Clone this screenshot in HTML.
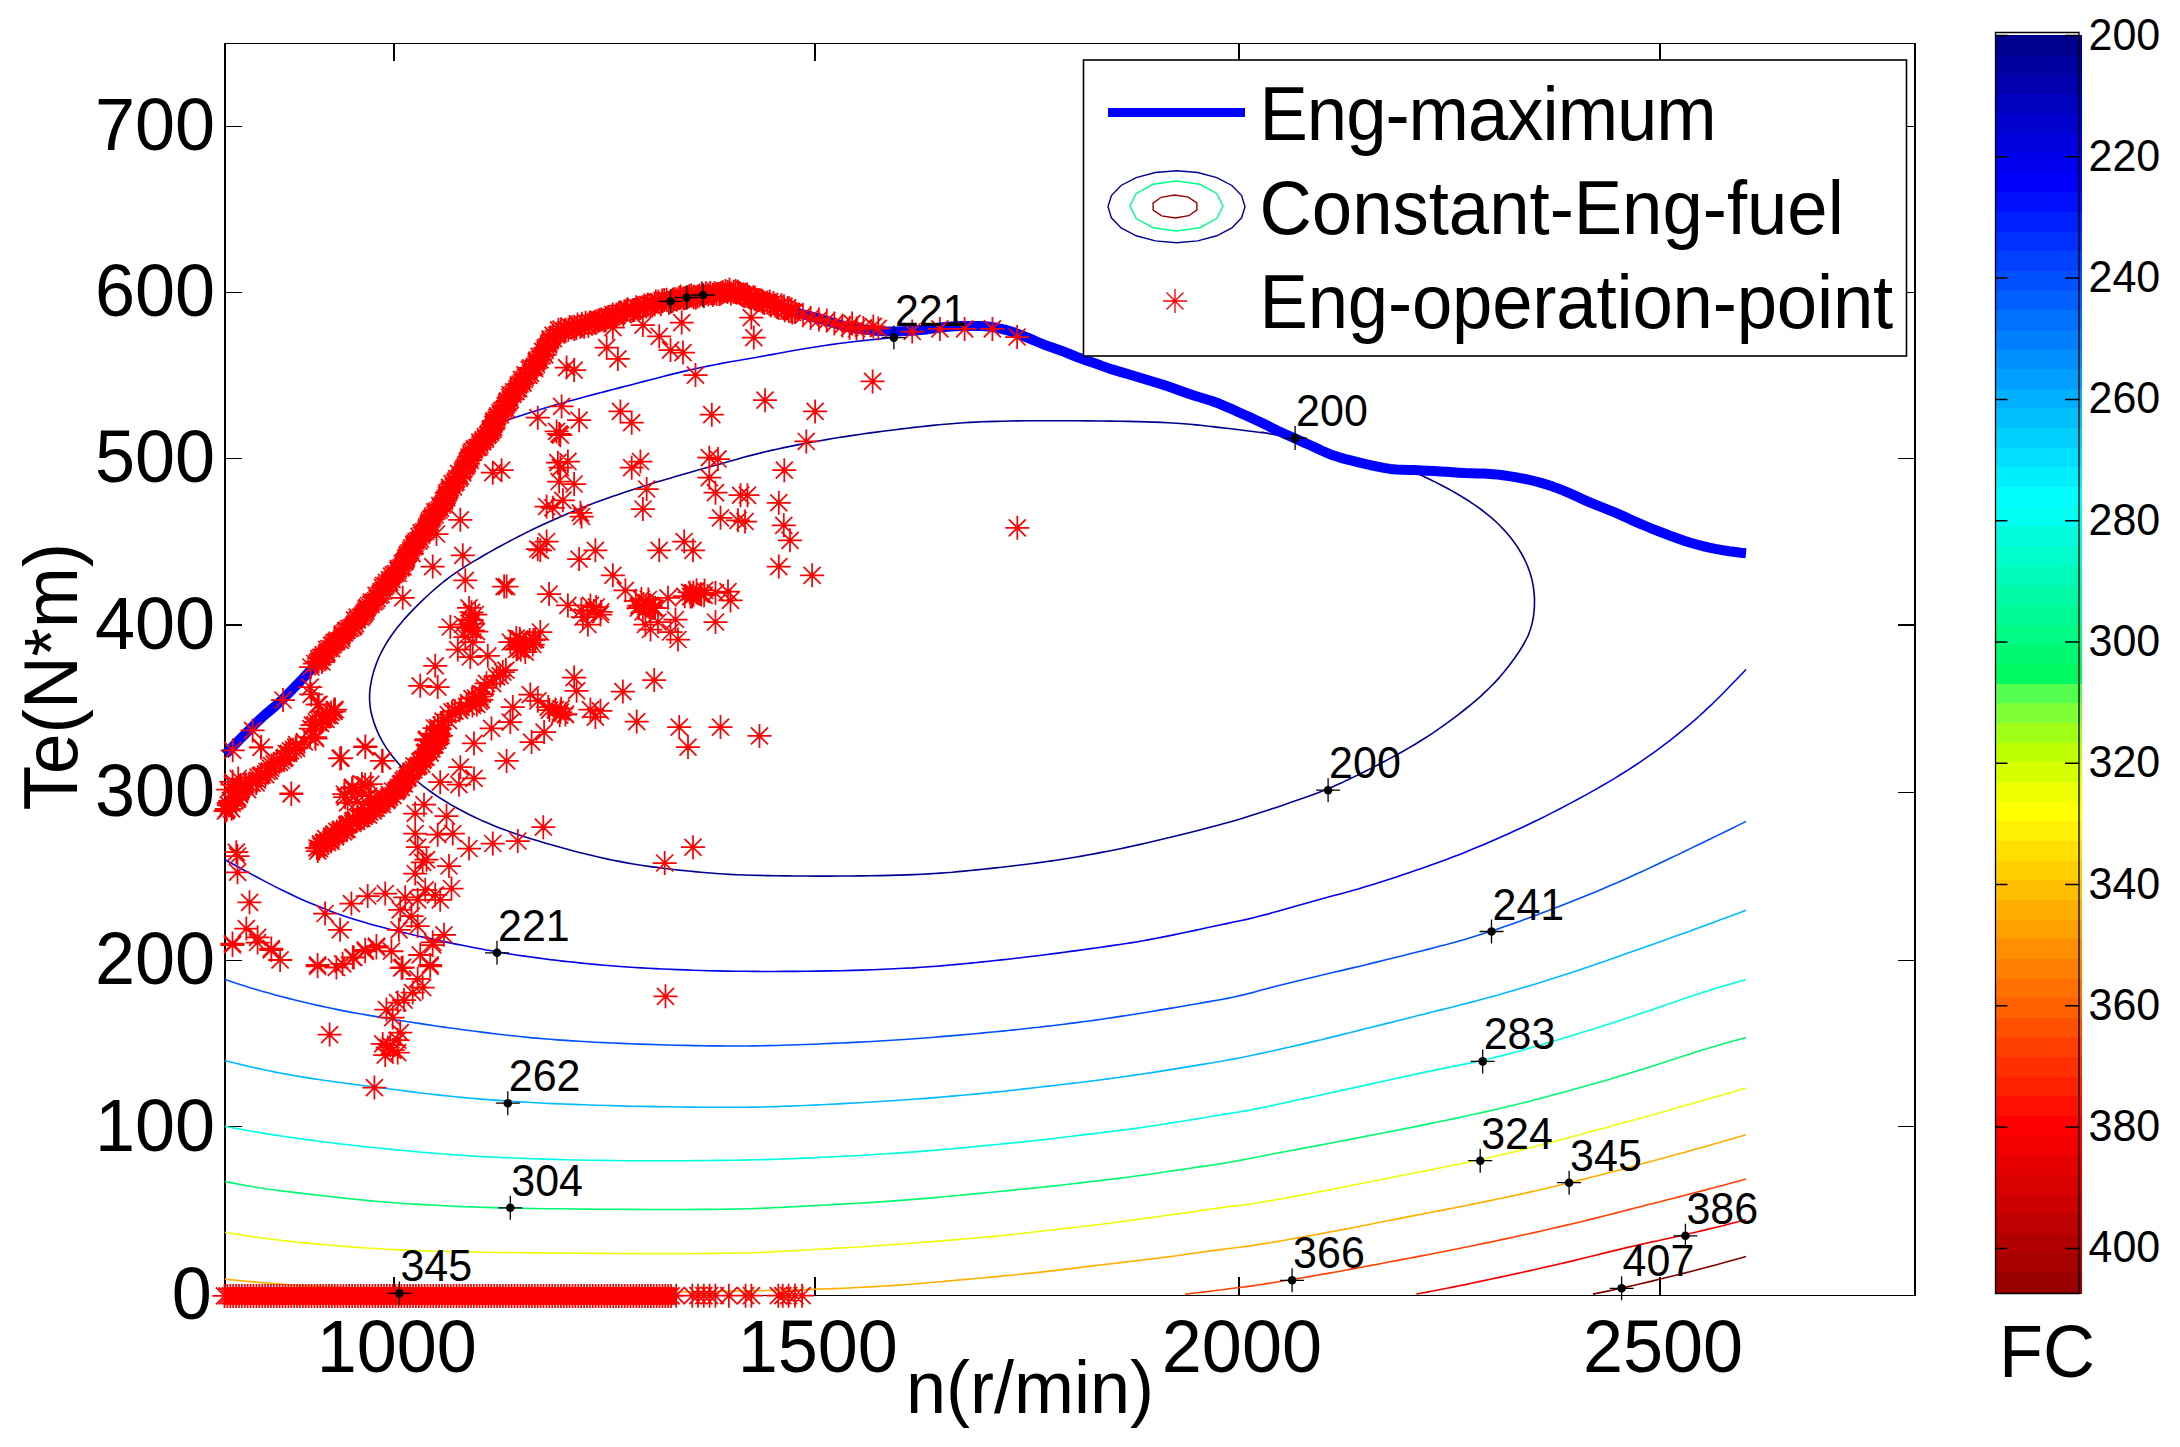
<!DOCTYPE html>
<html><head><meta charset="utf-8"><title>Engine map</title>
<style>html,body{margin:0;padding:0;background:#fff}svg{display:block}</style></head>
<body>
<svg width="2180" height="1447" viewBox="0 0 2180 1447" font-family="'Liberation Sans', sans-serif">
<rect width="2180" height="1447" fill="#fff"/>
<g fill="#000" shape-rendering="crispEdges">
<rect x="224" y="43" width="1692" height="1"/><rect x="224" y="1295" width="1692" height="1"/>
<rect x="224" y="43" width="2" height="1253"/><rect x="1914" y="43" width="2" height="1253"/>
<rect x="393" y="44" width="2" height="17"/><rect x="393" y="1277" width="2" height="18"/>
<rect x="814" y="44" width="2" height="17"/><rect x="814" y="1277" width="2" height="18"/>
<rect x="1238" y="44" width="2" height="17"/><rect x="1238" y="1277" width="2" height="18"/>
<rect x="1659" y="44" width="2" height="17"/><rect x="1659" y="1277" width="2" height="18"/>
<rect x="226" y="126" width="16" height="1"/><rect x="1898" y="126" width="16" height="1"/>
<rect x="226" y="292" width="16" height="1"/><rect x="1898" y="292" width="16" height="1"/>
<rect x="226" y="458" width="16" height="1"/><rect x="1898" y="458" width="16" height="1"/>
<rect x="226" y="624" width="16" height="2"/><rect x="1898" y="624" width="16" height="2"/>
<rect x="226" y="792" width="16" height="1"/><rect x="1898" y="792" width="16" height="1"/>
<rect x="226" y="960" width="16" height="1"/><rect x="1898" y="960" width="16" height="1"/>
<rect x="226" y="1126" width="16" height="1"/><rect x="1898" y="1126" width="16" height="1"/>
</g>
<g fill="none" stroke-width="1.6" stroke-linejoin="round">
<polyline stroke="rgb(0,0,143)" points="1295.1,438.1 1289.7,437.2 1282.5,436.0 1274.9,434.6 1268.0,433.4 1262.1,432.3 1265.7,433.0 1262.4,432.7 1254.8,431.8 1244.7,430.5 1239.1,429.8 1233.0,429.0 1226.7,428.3 1220.5,427.6 1214.5,426.9 1208.7,426.2 1202.7,425.5 1196.4,424.9 1190.0,424.3 1183.7,423.7 1176.5,423.2 1167.9,422.7 1161.2,422.4 1153.9,422.1 1146.1,421.9 1137.7,421.6 1128.9,421.4 1119.7,421.2 1109.8,421.1 1099.0,421.0 1087.8,420.9 1076.5,420.8 1065.6,420.8 1055.3,420.7 1045.6,420.7 1036.1,420.8 1026.9,420.8 1018.1,420.9 1009.9,421.0 1002.4,421.2 994.6,421.4 987.7,421.6 981.6,421.8 975.9,422.1 970.2,422.4 963.5,422.8 957.3,423.3 951.3,423.7 945.2,424.3 938.9,424.8 932.7,425.4 926.4,426.1 920.2,426.7 913.9,427.4 907.7,428.2 901.4,428.9 895.2,429.7 888.9,430.5 882.6,431.3 876.4,432.1 870.1,432.9 863.9,433.8 857.6,434.7 851.4,435.6 845.1,436.6 838.8,437.5 832.6,438.5 826.3,439.6 820.1,440.7 813.8,441.8 807.5,442.9 801.2,444.1 795.1,445.4 788.9,446.6 782.8,447.9 776.9,449.2 771.3,450.4 764.4,452.0 758.0,453.6 752.1,455.1 744.5,457.1 737.2,459.2 729.6,461.3 721.1,463.7 714.5,465.5 707.4,467.5 699.9,469.6 694.0,471.2 687.9,473.0 681.7,474.7 675.5,476.6 669.3,478.4 663.0,480.2 656.7,482.1 650.5,484.1 644.2,486.0 637.9,488.0 631.7,490.0 625.4,492.0 619.2,494.2 612.9,496.3 606.7,498.5 600.4,500.8 594.1,503.1 587.9,505.5 581.6,508.0 575.4,510.5 569.1,513.1 562.9,515.7 556.6,518.4 550.4,521.2 544.1,524.1 537.8,527.0 531.5,530.0 525.3,533.1 519.1,536.2 513.0,539.4 506.9,542.6 501.1,545.8 495.5,548.8 490.0,551.9 484.8,554.8 480.0,557.7 474.0,561.1 468.6,564.4 463.5,567.6 456.7,572.1 450.3,576.7 443.9,581.5 437.7,586.6 431.5,592.0 425.5,597.5 419.9,602.9 414.6,608.1 409.8,613.1 405.2,618.1 400.7,623.4 396.1,629.1 391.4,635.5 386.9,642.3 382.7,649.6 379.0,657.0 376.0,664.6 373.5,672.1 371.6,679.5 370.3,686.8 369.6,693.8 369.6,700.7 370.2,707.5 371.6,714.6 373.8,722.1 376.8,730.1 379.3,735.6 382.3,741.4 385.8,747.1 389.8,752.9 394.4,758.8 399.4,764.6 403.5,768.9 407.9,773.2 412.6,777.4 417.4,781.5 422.5,785.6 427.8,789.6 433.3,793.5 439.0,797.3 444.8,801.0 450.7,804.6 456.8,808.0 462.9,811.3 469.1,814.5 475.3,817.5 481.5,820.4 487.8,823.1 494.0,825.7 500.3,828.2 506.6,830.5 512.8,832.8 519.1,834.9 525.3,836.9 531.6,838.9 537.8,840.8 544.1,842.7 550.4,844.5 556.6,846.3 562.9,848.0 569.1,849.7 575.4,851.4 581.6,853.0 587.9,854.5 594.1,856.0 600.4,857.5 606.7,858.9 612.9,860.2 619.2,861.4 625.4,862.6 631.7,863.7 637.9,864.7 644.2,865.7 650.4,866.6 656.7,867.4 663.0,868.2 669.3,869.0 675.6,869.7 682.0,870.4 688.3,871.0 694.5,871.6 700.6,872.2 706.9,872.8 713.6,873.3 719.1,873.7 724.5,874.0 730.3,874.4 736.8,874.7 744.3,875.0 751.4,875.2 759.1,875.4 767.5,875.6 776.3,875.7 785.5,875.9 795.1,876.0 805.4,876.0 816.5,876.1 828.0,876.1 839.6,876.0 850.8,876.0 861.2,875.9 871.1,875.8 880.6,875.6 889.8,875.4 898.5,875.1 906.7,874.9 914.1,874.6 921.8,874.3 928.5,873.9 934.4,873.5 940.0,873.1 945.5,872.7 952.2,872.2 958.3,871.6 964.2,871.1 970.2,870.5 976.5,869.9 982.7,869.3 989.0,868.6 995.3,867.9 1001.5,867.3 1007.8,866.5 1014.0,865.8 1020.3,865.0 1026.5,864.3 1032.8,863.5 1039.0,862.6 1045.3,861.8 1051.6,860.9 1057.8,860.0 1064.1,859.0 1070.3,858.0 1076.6,857.0 1082.8,855.9 1089.1,854.8 1095.4,853.6 1101.6,852.4 1107.9,851.2 1114.1,850.0 1120.4,848.7 1126.6,847.4 1132.9,846.0 1139.1,844.6 1145.4,843.2 1151.7,841.8 1157.9,840.3 1164.2,838.8 1170.4,837.3 1176.7,835.8 1182.9,834.3 1189.0,832.7 1195.0,831.2 1202.7,829.3 1210.1,827.3 1217.0,825.5 1223.2,823.8 1228.9,822.2 1234.4,820.7 1241.9,818.5 1249.5,816.1 1255.2,814.3 1261.3,812.3 1267.7,810.2 1274.7,807.9 1282.2,805.4 1289.6,802.8 1296.9,800.3 1304.2,797.8 1311.3,795.2 1318.1,792.7 1324.8,790.0 1331.7,787.2 1337.0,784.8 1342.4,782.4 1347.9,779.8 1353.5,777.1 1359.4,774.2 1365.4,771.2 1371.5,768.1 1377.7,765.0 1383.9,761.7 1390.1,758.4 1396.4,755.0 1402.7,751.5 1408.9,747.9 1415.2,744.2 1421.5,740.3 1427.7,736.3 1432.7,733.1 1437.7,729.7 1442.7,726.2 1447.6,722.7 1452.4,719.1 1458.4,714.6 1464.2,710.0 1470.0,705.4 1475.4,700.8 1480.6,696.3 1485.5,691.7 1490.1,687.2 1494.5,682.9 1499.7,677.1 1504.4,671.6 1508.6,666.3 1514.0,659.0 1518.6,652.3 1522.3,646.5 1525.4,641.0 1528.1,635.6 1530.3,629.8 1532.2,623.1 1533.6,615.6 1534.4,607.2 1534.5,598.2 1534.0,592.1 1533.2,585.8 1531.9,579.4 1530.1,573.0 1527.7,566.5 1524.9,560.0 1521.4,553.5 1517.4,546.9 1512.9,540.5 1509.1,535.8 1505.1,531.1 1500.7,526.5 1496.2,522.0 1491.4,517.7 1486.3,513.6 1481.1,509.5 1475.7,505.6 1470.1,501.8 1464.4,498.2 1458.6,494.7 1452.9,491.4 1447.2,488.2 1441.5,485.2 1435.9,482.4 1430.5,479.7 1422.8,476.0 1415.4,472.5 1410.2,470.1"/>
<polyline stroke="rgb(0,0,235)" points="504.1,421.4 514.2,417.8 521.2,415.5 529.6,412.8 536.2,410.8 543.4,408.6 551.0,406.3 556.8,404.6 562.9,402.9 569.2,401.1 575.4,399.4 581.6,397.7 587.8,396.0 594.1,394.4 600.4,392.7 606.7,391.1 612.9,389.5 619.2,387.9 625.4,386.3 631.7,384.7 637.9,383.0 644.2,381.4 650.5,379.8 656.7,378.2 663.0,376.5 669.3,374.9 675.5,373.4 681.7,371.9 688.0,370.4 694.1,369.0 700.0,367.7 707.7,366.1 715.0,364.7 721.7,363.4 730.4,361.8 738.2,360.5 745.3,359.3 752.7,358.0 758.4,357.0 764.7,355.8 771.5,354.6 778.9,353.2 786.9,351.8 795.1,350.3 801.2,349.3 807.5,348.2 813.8,347.2 820.1,346.2 826.3,345.3 832.6,344.4 838.8,343.5 844.9,342.7 851.1,342.0 857.2,341.3 863.2,340.6 869.2,340.0 877.9,339.1 886.6,338.2 892.6,337.6"/>
<polyline stroke="rgb(0,0,235)" points="225.0,859.7 229.5,862.2 236.0,865.8 243.2,869.7 250.1,873.4 256.3,876.8 262.6,880.1 268.8,883.4 275.1,886.6 281.3,889.8 287.6,892.8 293.8,895.8 300.1,898.7 306.4,901.4 312.6,904.1 318.9,906.6 325.1,909.1 331.4,911.4 337.6,913.7 343.9,915.9 350.2,917.9 356.4,919.9 362.7,921.8 368.9,923.7 375.2,925.4 381.4,927.1 387.7,928.8 393.9,930.3 400.2,931.9 406.5,933.3 412.7,934.8 419.0,936.2 425.2,937.6 431.5,938.9 437.7,940.3 443.9,941.6 450.0,942.9 456.1,944.1 462.2,945.3 468.3,946.5 474.3,947.7 480.4,948.8 486.5,950.0 492.7,951.0 498.9,952.1 505.2,953.2 511.6,954.2 518.0,955.2 524.4,956.1 530.8,957.0 537.3,957.9 543.7,958.7 550.1,959.6 556.4,960.3 562.7,961.1 569.0,961.8 575.4,962.4 581.7,963.1 588.0,963.8 594.6,964.4 601.7,965.0 607.7,965.5 613.9,966.0 620.4,966.5 627.3,967.0 634.7,967.5 641.2,967.9 648.0,968.2 655.2,968.6 662.5,969.0 670.0,969.3 677.6,969.6 685.3,969.9 693.1,970.2 701.1,970.5 709.3,970.7 717.7,970.9 726.4,971.1 735.4,971.2 744.6,971.3 754.0,971.4 763.7,971.5 773.7,971.5 784.0,971.4 794.7,971.4 806.0,971.2 817.6,971.1 829.2,970.9 840.7,970.7 851.7,970.4 862.4,970.1 873.1,969.7 883.6,969.3 893.8,968.8 903.5,968.3 912.7,967.9 921.1,967.3 929.0,966.8 936.5,966.2 943.6,965.6 950.5,965.0 957.4,964.4 964.1,963.8 970.5,963.1 976.8,962.5 982.9,961.9 989.0,961.2 995.3,960.5 1001.5,959.9 1007.8,959.2 1014.0,958.5 1020.3,957.7 1026.5,957.0 1032.8,956.3 1039.1,955.5 1045.4,954.7 1051.7,953.9 1058.0,953.1 1064.3,952.2 1070.5,951.4 1076.7,950.6 1082.9,949.7 1089.1,948.9 1095.2,948.0 1101.2,947.2 1106.9,946.4 1113.5,945.4 1119.9,944.5 1126.1,943.5 1132.1,942.6 1137.7,941.7 1144.3,940.5 1150.5,939.4 1156.4,938.3 1162.4,937.1 1168.6,935.9 1174.8,934.6 1181.1,933.3 1187.3,932.0 1193.8,930.6 1200.4,929.2 1206.8,927.8 1212.8,926.5 1219.9,925.0 1226.4,923.6 1232.4,922.3 1240.1,920.7 1247.7,919.1 1253.5,917.7 1259.7,916.1 1266.5,914.4 1272.0,912.8 1277.9,911.2 1283.9,909.5 1290.1,907.8 1296.2,906.0 1302.5,904.3 1308.8,902.5 1315.1,900.7 1321.3,899.0 1327.6,897.3 1333.8,895.6 1340.1,893.9 1346.4,892.2 1352.6,890.4 1358.9,888.7 1365.1,886.8 1371.4,884.9 1377.6,882.9 1383.9,880.9 1390.2,878.9 1396.4,876.9 1402.7,874.8 1408.9,872.7 1415.2,870.5 1421.4,868.4 1427.7,866.2 1433.9,864.0 1440.2,861.8 1446.5,859.5 1452.7,857.1 1459.0,854.7 1465.2,852.2 1471.5,849.6 1477.7,847.0 1484.0,844.4 1490.3,841.7 1496.5,839.0 1502.8,836.2 1509.0,833.4 1515.3,830.6 1521.5,827.7 1527.8,824.7 1534.0,821.7 1540.3,818.7 1546.6,815.6 1552.8,812.4 1559.1,809.2 1565.3,805.9 1571.6,802.6 1577.8,799.3 1584.1,795.9 1590.4,792.4 1596.6,788.9 1602.9,785.3 1609.1,781.6 1615.4,777.9 1621.6,774.0 1627.9,770.1 1634.1,766.0 1640.4,761.8 1645.4,758.4 1650.4,754.9 1655.4,751.3 1660.5,747.7 1665.4,743.9 1670.4,740.1 1675.4,736.2 1680.3,732.2 1685.2,728.2 1690.0,724.1 1694.7,720.1 1699.3,716.0 1703.8,711.8 1708.2,707.7 1712.4,703.8 1717.3,699.0 1722.1,694.3 1726.5,689.7 1730.8,685.3 1736.7,679.3 1742.2,673.5 1746.0,669.5"/>
<polyline stroke="rgb(0,80,255)" points="225.0,979.5 229.5,981.0 236.0,983.2 243.2,985.5 250.1,987.7 256.3,989.6 262.6,991.4 268.8,993.1 275.1,994.9 281.3,996.5 287.6,998.1 293.8,999.7 300.1,1001.2 306.4,1002.7 312.6,1004.2 318.9,1005.6 325.1,1007.0 331.4,1008.3 337.6,1009.6 343.9,1010.9 350.2,1012.1 356.4,1013.2 362.7,1014.3 368.9,1015.4 375.2,1016.4 381.4,1017.5 387.7,1018.5 393.9,1019.5 400.2,1020.5 406.5,1021.5 412.7,1022.5 419.0,1023.4 425.2,1024.4 431.5,1025.3 437.7,1026.2 444.0,1027.1 450.3,1028.0 456.5,1028.8 462.7,1029.7 469.0,1030.5 475.3,1031.3 481.6,1032.1 487.9,1032.9 494.4,1033.7 501.1,1034.5 507.9,1035.3 514.9,1036.0 522.2,1036.8 530.0,1037.6 536.5,1038.1 543.2,1038.7 550.2,1039.3 557.6,1039.9 565.5,1040.4 572.5,1040.9 579.9,1041.3 587.5,1041.8 595.5,1042.2 603.7,1042.6 612.1,1043.0 621.0,1043.4 630.3,1043.8 639.8,1044.1 649.4,1044.4 658.9,1044.7 668.1,1045.0 677.0,1045.2 685.9,1045.4 694.6,1045.6 703.1,1045.8 711.4,1045.9 719.3,1045.9 726.7,1046.0 733.6,1046.0 740.2,1046.0 746.8,1046.0 753.5,1045.9 760.5,1045.8 767.7,1045.6 775.0,1045.5 782.4,1045.3 789.9,1045.0 797.7,1044.8 805.7,1044.5 814.2,1044.2 823.0,1043.8 832.0,1043.4 841.1,1043.0 850.0,1042.6 858.7,1042.1 867.2,1041.7 875.6,1041.2 883.8,1040.7 891.9,1040.2 899.8,1039.7 907.3,1039.2 914.5,1038.7 921.4,1038.2 928.1,1037.7 934.5,1037.2 940.9,1036.6 947.2,1036.1 953.5,1035.6 959.6,1035.1 965.7,1034.5 971.6,1034.0 977.6,1033.5 983.7,1032.9 989.8,1032.3 995.9,1031.7 1002.0,1031.1 1008.1,1030.5 1014.3,1029.9 1020.4,1029.2 1026.6,1028.5 1032.8,1027.8 1039.1,1027.2 1045.3,1026.4 1051.6,1025.7 1057.8,1025.0 1064.1,1024.2 1070.3,1023.4 1076.6,1022.6 1082.8,1021.8 1089.1,1021.0 1095.4,1020.1 1101.6,1019.2 1107.9,1018.3 1114.1,1017.4 1120.4,1016.4 1126.7,1015.5 1132.9,1014.5 1139.1,1013.5 1145.4,1012.5 1151.7,1011.5 1157.9,1010.4 1164.0,1009.4 1170.0,1008.4 1177.0,1007.2 1184.0,1006.0 1190.8,1004.8 1197.3,1003.7 1203.4,1002.6 1210.4,1001.4 1216.9,1000.3 1222.9,999.2 1228.5,998.1 1235.0,996.7 1240.9,995.4 1246.9,994.0 1253.2,992.4 1259.6,990.6 1266.5,988.8 1272.0,987.3 1277.9,985.8 1284.0,984.2 1290.1,982.7 1296.2,981.2 1302.5,979.7 1308.8,978.2 1315.1,976.7 1321.3,975.2 1327.6,973.8 1333.8,972.3 1340.1,970.9 1346.4,969.4 1352.6,967.9 1358.9,966.5 1365.1,964.9 1371.4,963.4 1377.6,961.9 1383.9,960.3 1390.2,958.8 1396.4,957.2 1402.7,955.7 1408.9,954.1 1415.2,952.5 1421.4,950.9 1427.7,949.4 1434.0,947.8 1440.3,946.1 1446.6,944.4 1452.9,942.7 1459.2,941.0 1465.5,939.2 1471.8,937.3 1478.2,935.3 1484.4,933.3 1490.7,931.3 1497.0,929.2 1503.2,927.1 1509.4,924.9 1515.6,922.7 1521.8,920.5 1528.0,918.2 1534.2,915.9 1540.4,913.6 1546.6,911.2 1552.8,908.8 1559.1,906.4 1565.3,903.9 1571.6,901.5 1577.8,899.0 1584.1,896.5 1590.4,893.9 1596.6,891.4 1602.9,888.8 1609.1,886.1 1615.4,883.4 1621.6,880.7 1627.9,877.9 1634.1,875.1 1640.4,872.3 1646.6,869.4 1652.9,866.5 1659.1,863.5 1665.4,860.5 1671.7,857.6 1678.0,854.6 1684.3,851.5 1690.8,848.4 1697.3,845.3 1704.0,842.0 1710.7,838.8 1717.5,835.4 1723.6,832.5 1730.2,829.2 1736.6,826.1 1742.1,823.4 1746.0,821.4"/>
<polyline stroke="rgb(0,185,255)" points="225.0,1060.6 229.5,1061.7 236.0,1063.3 243.2,1065.1 250.1,1066.7 256.3,1068.1 262.6,1069.5 268.8,1070.8 275.1,1072.1 281.3,1073.3 287.6,1074.4 293.8,1075.5 300.1,1076.6 306.4,1077.6 312.6,1078.6 318.9,1079.5 325.1,1080.5 331.4,1081.3 337.6,1082.2 343.9,1083.0 350.2,1083.9 356.4,1084.7 362.7,1085.5 368.9,1086.3 375.2,1087.1 381.4,1087.9 387.7,1088.7 393.9,1089.5 400.2,1090.3 406.4,1091.1 412.7,1091.9 418.9,1092.7 425.2,1093.5 431.5,1094.2 437.8,1094.9 444.2,1095.6 450.7,1096.3 457.4,1097.0 464.2,1097.6 471.2,1098.3 478.7,1098.9 485.0,1099.4 491.4,1099.9 498.1,1100.4 505.3,1100.9 513.3,1101.5 520.4,1101.9 527.9,1102.3 535.9,1102.8 544.2,1103.2 553.2,1103.6 562.7,1104.0 573.0,1104.4 584.1,1104.8 595.8,1105.2 607.7,1105.5 619.7,1105.9 631.5,1106.2 643.3,1106.4 655.5,1106.6 667.7,1106.8 679.6,1107.0 691.1,1107.1 701.7,1107.2 711.5,1107.3 720.7,1107.3 729.3,1107.3 737.6,1107.3 745.6,1107.2 753.6,1107.1 761.3,1107.0 768.6,1106.8 775.7,1106.6 782.7,1106.3 789.9,1106.1 797.4,1105.8 805.4,1105.5 813.5,1105.1 821.9,1104.7 830.2,1104.3 838.6,1103.9 846.8,1103.4 855.0,1103.0 863.3,1102.5 871.5,1102.0 879.6,1101.5 887.5,1101.0 895.0,1100.5 902.2,1100.0 909.2,1099.5 915.9,1099.0 922.4,1098.6 928.7,1098.1 934.9,1097.6 942.0,1097.0 948.8,1096.4 955.4,1095.9 961.8,1095.3 968.0,1094.8 975.7,1094.1 983.1,1093.3 990.2,1092.6 997.3,1091.9 1004.2,1091.2 1010.9,1090.4 1017.6,1089.7 1024.0,1088.9 1030.4,1088.2 1036.5,1087.5 1042.6,1086.8 1048.6,1086.1 1056.4,1085.2 1064.1,1084.3 1071.9,1083.4 1079.7,1082.5 1087.7,1081.5 1095.7,1080.5 1101.8,1079.7 1107.9,1078.9 1114.2,1078.0 1120.4,1077.2 1126.6,1076.3 1132.9,1075.4 1139.1,1074.5 1145.4,1073.5 1151.7,1072.6 1157.9,1071.6 1164.2,1070.6 1170.4,1069.6 1176.7,1068.6 1182.9,1067.6 1189.1,1066.6 1195.0,1065.6 1202.6,1064.4 1209.9,1063.2 1216.7,1062.0 1225.4,1060.5 1233.1,1059.1 1240.3,1057.7 1247.7,1056.2 1253.4,1055.0 1259.7,1053.6 1266.5,1052.2 1272.0,1051.0 1277.9,1049.7 1283.9,1048.3 1290.1,1047.0 1296.2,1045.5 1302.5,1044.1 1308.8,1042.6 1315.1,1041.1 1321.3,1039.7 1327.6,1038.1 1333.8,1036.6 1340.1,1035.1 1346.4,1033.5 1352.6,1032.0 1358.9,1030.4 1365.1,1028.8 1371.4,1027.3 1377.6,1025.7 1383.9,1024.1 1390.2,1022.6 1396.4,1021.0 1402.7,1019.5 1408.9,1017.9 1415.2,1016.3 1421.4,1014.8 1427.7,1013.2 1433.9,1011.6 1440.2,1010.1 1446.5,1008.5 1452.7,1006.9 1459.0,1005.3 1465.2,1003.7 1471.5,1002.1 1477.7,1000.5 1484.0,998.8 1490.3,997.1 1496.5,995.4 1502.8,993.6 1509.0,991.8 1515.3,990.0 1521.5,988.1 1527.8,986.3 1534.0,984.4 1540.3,982.5 1546.6,980.5 1552.8,978.6 1559.1,976.6 1565.3,974.6 1571.6,972.5 1577.8,970.4 1584.1,968.3 1590.4,966.2 1596.6,964.1 1602.8,961.9 1609.1,959.7 1615.4,957.5 1621.7,955.3 1628.0,953.1 1634.5,950.8 1641.2,948.5 1646.7,946.5 1652.4,944.5 1658.1,942.5 1664.2,940.3 1670.5,938.1 1675.9,936.1 1681.6,934.0 1687.5,931.9 1693.4,929.7 1699.6,927.5 1705.8,925.2 1712.7,922.7 1720.3,919.8 1728.1,916.9 1735.4,914.2 1741.6,911.9 1746.0,910.3"/>
<polyline stroke="rgb(0,255,225)" points="225.0,1126.4 229.5,1127.3 236.0,1128.4 243.2,1129.8 250.1,1131.0 256.3,1132.0 262.6,1133.1 268.8,1134.1 275.1,1135.1 281.3,1136.0 287.6,1137.0 293.8,1137.9 300.1,1138.7 306.4,1139.6 312.6,1140.4 318.9,1141.3 325.1,1142.0 331.4,1142.8 337.6,1143.6 343.9,1144.3 350.2,1145.0 356.4,1145.7 362.7,1146.4 368.9,1147.0 375.2,1147.7 381.4,1148.3 387.6,1148.9 393.9,1149.6 400.2,1150.2 406.5,1150.8 412.8,1151.4 419.3,1152.0 426.0,1152.6 432.9,1153.1 439.9,1153.7 447.3,1154.3 455.6,1154.9 461.5,1155.3 467.5,1155.7 473.9,1156.1 480.7,1156.5 488.0,1156.9 495.9,1157.2 504.5,1157.6 513.6,1158.0 523.3,1158.4 533.4,1158.8 543.8,1159.1 554.4,1159.4 565.6,1159.7 577.3,1160.0 589.4,1160.2 601.5,1160.4 613.4,1160.5 624.8,1160.7 635.8,1160.7 646.8,1160.8 657.5,1160.8 667.8,1160.8 677.6,1160.7 686.7,1160.7 695.0,1160.6 702.6,1160.6 709.6,1160.5 716.3,1160.4 722.7,1160.4 729.1,1160.3 736.4,1160.2 743.1,1160.1 749.6,1159.9 756.3,1159.8 763.6,1159.6 770.2,1159.4 777.0,1159.2 784.0,1158.9 791.2,1158.7 798.6,1158.4 806.2,1158.1 814.1,1157.7 822.2,1157.3 830.6,1156.9 839.1,1156.5 847.4,1156.1 855.4,1155.7 863.3,1155.2 871.1,1154.8 878.8,1154.3 886.3,1153.8 893.7,1153.4 900.8,1152.9 907.6,1152.4 914.3,1151.9 920.7,1151.4 927.0,1150.9 933.1,1150.4 939.1,1149.9 946.1,1149.3 952.9,1148.7 959.5,1148.1 966.0,1147.5 972.3,1146.9 979.9,1146.1 987.2,1145.4 994.4,1144.7 1001.4,1144.0 1008.1,1143.4 1014.7,1142.7 1021.1,1142.1 1027.5,1141.4 1033.7,1140.7 1039.9,1140.1 1046.0,1139.4 1052.0,1138.7 1060.0,1137.7 1068.0,1136.8 1075.8,1135.8 1083.5,1134.9 1091.2,1133.9 1098.6,1133.0 1105.9,1132.1 1113.1,1131.3 1120.1,1130.4 1126.9,1129.5 1133.6,1128.6 1140.2,1127.7 1146.8,1126.7 1153.2,1125.8 1159.5,1124.8 1165.7,1123.9 1171.8,1122.9 1177.8,1122.0 1186.7,1120.5 1195.5,1119.1 1204.1,1117.7 1212.4,1116.3 1220.0,1115.0 1226.7,1113.9 1237.2,1112.3 1248.6,1110.4 1253.9,1109.3 1259.9,1108.1 1266.5,1106.7 1272.0,1105.6 1277.9,1104.3 1283.9,1103.0 1290.1,1101.6 1296.2,1100.3 1302.5,1098.9 1308.8,1097.6 1315.1,1096.2 1321.3,1094.8 1327.6,1093.5 1333.8,1092.1 1340.1,1090.7 1346.4,1089.4 1352.6,1088.0 1358.9,1086.6 1365.1,1085.3 1371.4,1083.9 1377.6,1082.5 1383.9,1081.2 1390.2,1079.8 1396.4,1078.4 1402.7,1077.0 1409.0,1075.6 1415.2,1074.3 1421.4,1072.9 1427.5,1071.6 1433.7,1070.4 1439.7,1069.1 1445.7,1067.9 1451.6,1066.8 1457.4,1065.6 1463.3,1064.4 1469.3,1063.2 1475.2,1062.0 1481.3,1060.7 1487.4,1059.3 1493.8,1057.7 1500.3,1056.1 1506.8,1054.4 1513.4,1052.7 1520.0,1050.9 1526.6,1049.0 1533.3,1047.1 1539.8,1045.2 1546.3,1043.3 1552.7,1041.4 1559.0,1039.5 1565.3,1037.6 1571.6,1035.7 1577.9,1033.7 1584.1,1031.8 1590.4,1029.9 1596.6,1027.9 1602.9,1025.9 1609.1,1023.9 1615.4,1021.9 1621.6,1019.9 1627.9,1017.8 1634.1,1015.7 1640.4,1013.6 1646.6,1011.5 1652.9,1009.4 1659.1,1007.2 1665.4,1005.0 1671.7,1002.9 1678.0,1000.7 1684.3,998.5 1690.8,996.4 1697.3,994.2 1704.0,992.1 1710.7,989.9 1717.5,987.8 1725.2,985.5 1733.4,983.2 1740.9,981.0 1746.0,979.5"/>
<polyline stroke="rgb(0,250,110)" points="225.0,1181.5 229.5,1182.4 236.0,1183.6 243.2,1185.0 250.1,1186.2 256.3,1187.3 262.6,1188.2 268.8,1189.2 275.1,1190.0 281.3,1190.9 287.6,1191.6 293.8,1192.4 300.1,1193.1 306.4,1193.8 312.6,1194.6 318.9,1195.3 325.1,1196.0 331.4,1196.7 337.6,1197.4 343.9,1198.1 350.2,1198.7 356.4,1199.4 362.6,1200.0 368.9,1200.6 375.2,1201.2 381.5,1201.7 387.8,1202.2 394.2,1202.7 401.0,1203.2 408.0,1203.7 415.2,1204.1 422.7,1204.6 430.5,1205.0 437.0,1205.3 443.5,1205.7 450.3,1206.0 457.5,1206.4 465.3,1206.7 472.0,1206.9 478.8,1207.2 485.9,1207.4 493.5,1207.6 501.9,1207.9 511.4,1208.1 522.0,1208.3 533.5,1208.5 545.9,1208.7 558.8,1208.8 572.2,1209.0 585.8,1209.1 600.2,1209.2 615.6,1209.3 631.4,1209.4 647.0,1209.5 662.0,1209.5 675.6,1209.5 688.1,1209.5 699.8,1209.4 710.8,1209.4 721.1,1209.3 730.7,1209.1 739.7,1209.0 747.7,1208.8 754.5,1208.6 760.7,1208.3 766.6,1208.1 772.6,1207.8 779.1,1207.5 786.0,1207.1 793.0,1206.8 800.2,1206.4 807.4,1206.0 814.7,1205.6 822.1,1205.2 829.8,1204.8 837.7,1204.4 845.7,1203.9 853.7,1203.5 861.5,1203.0 869.0,1202.6 876.3,1202.1 883.4,1201.6 890.4,1201.1 897.2,1200.6 903.8,1200.1 910.3,1199.6 916.7,1199.1 922.8,1198.6 928.9,1198.1 934.8,1197.6 940.6,1197.0 946.3,1196.5 953.1,1195.9 959.7,1195.3 966.2,1194.6 972.6,1194.0 978.8,1193.4 986.5,1192.7 993.9,1192.0 1001.1,1191.3 1008.2,1190.6 1015.1,1189.9 1021.9,1189.3 1028.5,1188.6 1035.0,1187.9 1041.4,1187.3 1047.7,1186.6 1054.0,1185.9 1060.2,1185.2 1066.3,1184.5 1072.4,1183.8 1078.4,1183.1 1084.2,1182.4 1091.9,1181.5 1099.4,1180.6 1106.8,1179.8 1113.9,1178.9 1120.9,1178.1 1127.7,1177.2 1134.5,1176.3 1141.2,1175.4 1147.9,1174.5 1154.6,1173.5 1161.2,1172.5 1167.8,1171.5 1174.3,1170.6 1180.7,1169.6 1187.0,1168.7 1193.2,1167.8 1199.3,1166.9 1205.2,1166.1 1213.7,1164.8 1221.5,1163.6 1228.4,1162.5 1234.9,1161.3 1241.2,1160.1 1248.1,1158.8 1253.7,1157.7 1259.8,1156.5 1266.5,1155.2 1273.9,1153.8 1281.9,1152.3 1290.1,1150.8 1296.2,1149.6 1302.5,1148.4 1308.8,1147.3 1315.1,1146.1 1321.3,1144.9 1327.6,1143.7 1333.8,1142.5 1340.1,1141.3 1346.4,1140.1 1352.6,1138.9 1358.9,1137.7 1365.1,1136.4 1371.4,1135.2 1377.6,1134.0 1383.9,1132.8 1390.2,1131.6 1396.4,1130.3 1402.7,1129.1 1408.9,1127.9 1415.2,1126.6 1421.4,1125.4 1427.7,1124.1 1433.9,1122.8 1440.2,1121.5 1446.5,1120.2 1452.7,1118.9 1459.0,1117.5 1465.2,1116.2 1471.5,1114.8 1477.7,1113.5 1484.0,1112.1 1490.3,1110.7 1496.5,1109.2 1502.8,1107.8 1509.0,1106.3 1515.3,1104.8 1521.5,1103.3 1527.8,1101.7 1534.0,1100.1 1540.3,1098.5 1546.6,1096.8 1552.8,1095.1 1559.1,1093.4 1565.3,1091.7 1571.6,1090.0 1577.8,1088.3 1584.1,1086.5 1590.4,1084.8 1596.6,1083.0 1602.9,1081.2 1609.1,1079.4 1615.4,1077.5 1621.6,1075.6 1627.9,1073.7 1634.1,1071.8 1640.4,1069.9 1646.6,1067.9 1652.9,1065.9 1659.1,1063.9 1665.4,1061.9 1671.7,1059.8 1678.0,1057.8 1684.3,1055.7 1690.8,1053.7 1697.3,1051.6 1704.0,1049.6 1710.7,1047.5 1717.5,1045.5 1725.2,1043.3 1733.4,1041.1 1740.9,1039.0 1746.0,1037.6"/>
<polyline stroke="rgb(238,255,10)" points="225.0,1232.3 229.5,1233.0 235.9,1234.1 243.2,1235.2 250.1,1236.3 256.4,1237.2 262.7,1238.1 269.2,1239.0 275.9,1239.8 282.7,1240.6 289.8,1241.4 297.1,1242.2 304.8,1242.9 311.2,1243.5 317.8,1244.1 324.6,1244.7 331.6,1245.3 338.9,1245.9 345.0,1246.4 351.0,1246.9 357.2,1247.4 363.7,1247.8 370.8,1248.3 378.6,1248.8 386.9,1249.2 395.3,1249.6 404.3,1250.1 414.2,1250.5 425.2,1250.9 437.7,1251.2 452.0,1251.6 467.8,1251.9 484.7,1252.2 502.5,1252.5 520.7,1252.7 539.1,1252.9 558.3,1253.1 578.7,1253.3 599.7,1253.4 620.3,1253.5 639.8,1253.6 657.5,1253.6 673.3,1253.6 688.0,1253.6 701.6,1253.5 714.2,1253.4 725.6,1253.3 736.1,1253.1 745.1,1253.0 752.5,1252.7 758.9,1252.5 764.8,1252.2 770.7,1251.9 777.1,1251.6 783.9,1251.3 790.7,1250.9 797.4,1250.5 804.3,1250.1 811.3,1249.7 818.5,1249.3 826.1,1248.9 833.9,1248.4 841.9,1247.9 849.9,1247.5 857.8,1247.0 865.4,1246.5 872.8,1246.0 880.0,1245.5 887.1,1245.0 894.1,1244.5 900.9,1244.0 907.5,1243.5 913.9,1243.0 920.1,1242.5 926.2,1242.0 932.1,1241.6 937.9,1241.1 943.6,1240.6 950.4,1240.1 956.9,1239.6 963.3,1239.0 969.5,1238.5 975.7,1238.0 983.2,1237.3 990.6,1236.6 997.7,1235.9 1004.8,1235.2 1011.7,1234.5 1018.5,1233.7 1025.2,1233.0 1031.8,1232.2 1038.4,1231.5 1044.8,1230.8 1051.2,1230.0 1057.5,1229.3 1063.7,1228.6 1069.9,1227.9 1075.9,1227.2 1081.9,1226.5 1089.8,1225.6 1097.5,1224.7 1105.0,1223.8 1112.5,1222.8 1119.8,1221.8 1126.9,1220.9 1134.0,1219.9 1140.9,1218.9 1147.7,1218.0 1154.5,1217.1 1161.2,1216.2 1167.8,1215.3 1174.3,1214.4 1180.7,1213.5 1187.0,1212.6 1193.2,1211.7 1199.3,1210.8 1205.2,1209.9 1213.7,1208.7 1221.5,1207.6 1228.4,1206.7 1234.9,1205.9 1241.2,1205.2 1248.1,1204.3 1253.7,1203.5 1259.8,1202.5 1266.5,1201.4 1273.9,1200.1 1281.9,1198.7 1290.1,1197.2 1296.2,1196.1 1302.5,1194.9 1308.8,1193.7 1315.1,1192.5 1321.3,1191.4 1327.6,1190.2 1333.8,1188.9 1340.1,1187.7 1346.4,1186.5 1352.6,1185.2 1358.9,1184.0 1365.1,1182.7 1371.4,1181.5 1377.6,1180.2 1383.9,1179.0 1390.2,1177.7 1396.4,1176.5 1402.7,1175.2 1409.0,1174.0 1415.2,1172.8 1421.3,1171.6 1427.5,1170.4 1433.6,1169.2 1439.6,1168.0 1447.4,1166.5 1455.0,1165.0 1462.7,1163.5 1468.6,1162.2 1474.4,1161.0 1480.4,1159.7 1486.5,1158.3 1492.9,1156.8 1499.4,1155.3 1506.1,1153.7 1512.8,1152.0 1519.5,1150.4 1526.3,1148.7 1533.0,1147.0 1539.7,1145.3 1546.2,1143.6 1552.6,1141.9 1559.0,1140.2 1565.3,1138.6 1571.6,1136.9 1577.9,1135.2 1584.1,1133.5 1590.4,1131.8 1596.6,1130.1 1602.9,1128.4 1609.1,1126.7 1615.4,1125.0 1621.6,1123.3 1627.9,1121.6 1634.1,1119.9 1640.4,1118.2 1646.6,1116.5 1652.9,1114.7 1659.1,1113.0 1665.4,1111.2 1671.7,1109.4 1678.0,1107.6 1684.3,1105.8 1690.8,1104.0 1697.3,1102.1 1704.0,1100.2 1710.7,1098.3 1717.5,1096.4 1725.2,1094.2 1733.4,1091.8 1740.9,1089.6 1746.0,1088.1"/>
<polyline stroke="rgb(255,175,0)" points="225.0,1279.1 229.6,1279.6 236.4,1280.2 244.3,1281.0 250.4,1281.6 257.0,1282.2 264.6,1282.9 273.8,1283.6 280.8,1284.1 288.2,1284.7 296.2,1285.2 305.0,1285.8 314.7,1286.3 325.5,1286.9 337.3,1287.4 350.0,1288.0 363.6,1288.6 378.2,1289.1 393.8,1289.6 410.5,1290.1 428.5,1290.5 447.7,1290.9 468.0,1291.3 489.1,1291.6 510.6,1291.8 532.2,1292.0 554.5,1292.2 577.9,1292.2 601.6,1292.2 625.3,1292.2 648.3,1292.1 670.0,1292.0 690.8,1291.8 711.2,1291.5 730.8,1291.2 749.6,1290.9 767.1,1290.5 783.2,1290.2 797.7,1289.8 810.8,1289.4 822.7,1289.0 833.6,1288.6 843.8,1288.2 853.5,1287.7 862.5,1287.3 870.5,1286.9 877.8,1286.4 884.6,1286.0 891.2,1285.6 897.8,1285.1 904.3,1284.7 910.5,1284.2 916.5,1283.7 922.3,1283.2 928.1,1282.7 933.8,1282.3 940.6,1281.7 947.2,1281.1 953.7,1280.5 960.1,1279.9 966.5,1279.4 972.7,1278.8 978.8,1278.2 984.8,1277.7 990.8,1277.1 996.7,1276.6 1003.9,1275.9 1011.0,1275.2 1018.0,1274.5 1025.0,1273.8 1031.8,1273.1 1038.5,1272.4 1045.2,1271.6 1051.7,1270.9 1058.1,1270.1 1064.4,1269.4 1070.6,1268.6 1076.7,1267.9 1084.7,1266.9 1092.5,1265.9 1100.2,1265.0 1107.8,1264.1 1115.3,1263.2 1122.7,1262.4 1130.1,1261.5 1137.4,1260.6 1144.6,1259.8 1151.8,1258.9 1158.9,1258.0 1165.9,1257.1 1172.8,1256.2 1179.7,1255.2 1186.4,1254.3 1193.0,1253.4 1199.5,1252.5 1205.7,1251.6 1214.5,1250.4 1222.5,1249.4 1229.2,1248.5 1235.5,1247.7 1241.6,1247.0 1248.3,1246.1 1253.8,1245.3 1259.9,1244.4 1266.5,1243.3 1273.9,1242.1 1281.9,1240.7 1290.1,1239.2 1296.2,1238.1 1302.5,1237.0 1308.8,1235.9 1315.1,1234.7 1321.3,1233.6 1327.6,1232.4 1333.8,1231.3 1340.1,1230.1 1346.4,1228.9 1352.6,1227.7 1358.9,1226.5 1365.1,1225.3 1371.4,1224.0 1377.6,1222.8 1383.9,1221.5 1390.2,1220.3 1396.4,1219.1 1402.7,1217.9 1408.9,1216.6 1415.2,1215.4 1421.4,1214.2 1427.7,1213.0 1433.9,1211.8 1440.2,1210.6 1446.5,1209.4 1452.7,1208.2 1459.0,1206.9 1465.2,1205.7 1471.5,1204.4 1477.7,1203.2 1484.0,1201.9 1490.3,1200.6 1496.5,1199.3 1502.8,1198.0 1509.2,1196.6 1515.5,1195.3 1521.9,1193.9 1528.4,1192.4 1534.8,1191.0 1541.2,1189.5 1547.7,1188.0 1554.1,1186.5 1560.4,1185.0 1566.7,1183.4 1572.9,1181.9 1579.1,1180.4 1585.2,1178.9 1591.3,1177.3 1597.4,1175.8 1603.4,1174.2 1609.5,1172.6 1615.6,1171.0 1621.8,1169.4 1628.0,1167.7 1634.2,1166.0 1640.4,1164.3 1646.6,1162.6 1652.9,1160.9 1659.1,1159.2 1665.4,1157.5 1671.7,1155.8 1678.0,1154.1 1684.3,1152.4 1690.8,1150.6 1697.3,1148.8 1704.0,1146.9 1710.7,1145.0 1717.5,1143.0 1725.2,1140.8 1733.4,1138.4 1740.9,1136.2 1746.0,1134.7"/>
<polyline stroke="rgb(255,64,0)" points="1185.4,1294.1 1190.6,1293.5 1198.0,1292.7 1205.1,1291.9 1214.1,1290.8 1222.3,1289.7 1229.2,1288.8 1235.5,1288.0 1241.6,1287.3 1248.4,1286.4 1254.0,1285.6 1260.2,1284.7 1267.0,1283.6 1272.6,1282.7 1278.5,1281.8 1284.7,1280.8 1290.8,1279.8 1296.9,1278.7 1303.1,1277.7 1309.4,1276.6 1315.6,1275.5 1321.7,1274.4 1327.9,1273.4 1334.0,1272.3 1340.2,1271.2 1346.4,1270.0 1352.7,1268.9 1358.9,1267.7 1365.1,1266.5 1371.4,1265.4 1377.6,1264.2 1383.9,1263.0 1390.2,1261.8 1396.4,1260.6 1402.7,1259.4 1408.9,1258.3 1415.2,1257.1 1421.4,1255.9 1427.7,1254.7 1433.9,1253.5 1440.2,1252.3 1446.5,1251.0 1452.7,1249.8 1459.0,1248.5 1465.2,1247.3 1471.5,1246.0 1477.7,1244.7 1484.0,1243.4 1490.3,1242.1 1496.5,1240.7 1502.8,1239.4 1509.0,1238.1 1515.3,1236.7 1521.5,1235.3 1527.8,1234.0 1534.0,1232.6 1540.3,1231.2 1546.6,1229.8 1552.8,1228.3 1559.1,1226.9 1565.3,1225.4 1571.6,1224.0 1577.8,1222.5 1584.1,1221.0 1590.4,1219.4 1596.6,1217.9 1602.9,1216.3 1609.1,1214.7 1615.4,1213.1 1621.6,1211.5 1627.9,1209.9 1634.1,1208.3 1640.4,1206.7 1646.6,1205.1 1652.9,1203.5 1659.1,1201.9 1665.4,1200.3 1671.7,1198.7 1678.0,1197.1 1684.3,1195.5 1690.8,1193.8 1697.3,1192.1 1704.0,1190.4 1710.7,1188.6 1717.5,1186.8 1725.2,1184.7 1733.4,1182.5 1740.9,1180.4 1746.0,1179.0"/>
<polyline stroke="rgb(245,0,0)" points="1416.4,1294.1 1420.8,1293.3 1427.0,1292.1 1434.0,1290.8 1440.7,1289.5 1446.8,1288.3 1452.9,1287.1 1459.1,1285.8 1465.3,1284.6 1471.5,1283.3 1477.8,1281.9 1484.0,1280.6 1490.3,1279.3 1496.5,1277.9 1502.8,1276.6 1509.0,1275.2 1515.3,1273.9 1521.5,1272.5 1527.8,1271.1 1534.0,1269.7 1540.3,1268.3 1546.6,1266.9 1552.8,1265.5 1559.1,1264.0 1565.3,1262.6 1571.6,1261.1 1577.8,1259.6 1584.1,1258.0 1590.4,1256.5 1596.6,1255.0 1602.9,1253.4 1609.1,1251.9 1615.4,1250.4 1621.6,1248.9 1627.8,1247.4 1634.0,1246.0 1640.1,1244.6 1646.1,1243.3 1652.1,1241.9 1658.1,1240.7 1664.2,1239.3 1670.3,1238.0 1676.3,1236.7 1682.5,1235.3 1688.9,1233.8 1695.5,1232.3 1702.3,1230.6 1709.2,1228.9 1716.3,1227.2 1722.6,1225.7 1729.4,1223.9 1736.1,1222.3 1741.9,1220.8 1746.0,1219.8"/>
<polyline stroke="rgb(128,0,0)" points="1592.9,1294.1 1598.9,1292.9 1607.6,1291.1 1616.3,1289.3 1622.3,1287.9 1628.3,1286.6 1634.4,1285.2 1640.6,1283.8 1646.7,1282.4 1652.9,1280.9 1659.2,1279.3 1665.4,1277.8 1671.7,1276.3 1678.0,1274.7 1684.3,1273.1 1690.8,1271.4 1697.3,1269.7 1704.0,1268.0 1710.7,1266.2 1717.5,1264.4 1725.2,1262.3 1733.4,1260.0 1740.9,1258.0 1746.0,1256.6"/>
</g>
<polyline fill="none" stroke="#0000ff" stroke-width="10" stroke-linejoin="round" points="225.0,754.5 228.9,750.6 234.3,745.0 240.7,738.5 247.4,731.7 253.8,725.3 259.2,720.0 265.4,714.4 270.5,710.1 275.5,705.9 281.4,700.5 286.1,695.9 291.1,690.7 296.4,685.2 301.8,679.6 307.1,673.9 312.3,668.4 317.4,663.0 322.5,657.5 327.7,652.0 332.7,646.6 337.5,641.4 342.2,636.3 346.5,631.7 350.3,627.6 354.0,623.5 357.8,619.4 362.0,614.7 366.7,609.2 372.3,602.7 378.5,595.3 385.1,587.4 391.7,579.4 397.9,571.6 403.4,564.4 408.1,557.7 412.3,551.4 416.1,545.2 419.7,539.2 423.3,533.1 427.0,527.0 430.9,520.8 434.7,514.6 438.5,508.4 442.4,502.2 446.2,496.0 450.0,489.8 453.9,483.4 457.9,476.7 461.9,470.0 465.8,463.6 469.5,457.7 473.0,452.4 477.4,446.6 481.1,442.4 484.9,438.2 489.5,432.0 493.2,426.2 497.3,419.5 501.6,412.2 506.1,404.7 510.6,397.3 515.0,390.6 519.6,384.2 524.5,377.9 529.4,371.8 534.1,366.1 538.4,360.7 542.0,356.0 547.0,348.3 550.3,342.5 553.0,338.0 559.0,331.5 568.0,328.5 573.3,327.3 579.9,326.0 587.6,324.3 596.0,322.0 602.2,320.0 609.1,317.5 616.3,314.9 623.7,312.2 631.0,309.7 638.0,307.5 644.8,305.7 651.6,304.1 658.3,302.6 664.9,301.3 671.1,300.1 677.0,299.0 685.1,297.5 692.5,296.3 699.4,295.3 706.0,294.3 714.4,292.9 722.2,291.7 729.4,291.3 735.6,292.0 741.1,293.4 747.3,295.3 752.9,297.1 758.9,299.2 765.1,301.5 771.2,303.7 777.2,305.8 783.1,308.0 789.0,310.0 795.0,312.0 800.8,313.7 806.5,315.3 812.4,316.8 818.9,318.6 824.9,320.3 831.4,322.3 838.1,324.2 844.5,326.0 850.1,327.4 857.5,328.8 863.7,329.4 870.0,330.0 876.4,330.7 882.9,331.3 890.5,331.5 895.9,331.4 901.9,331.2 908.1,330.9 914.5,330.5 920.7,330.0 926.8,329.4 932.9,328.6 939.0,327.7 945.0,326.9 951.0,326.4 958.6,326.0 966.4,325.9 973.7,325.9 980.0,326.0 989.0,326.6 996.5,327.8 1004.8,329.6 1013.0,332.0 1021.2,335.1 1029.5,338.5 1037.7,342.0 1046.0,345.4 1054.3,348.3 1062.6,351.2 1070.8,354.5 1079.0,357.8 1087.3,360.8 1095.6,363.6 1103.9,366.6 1112.1,369.4 1120.3,371.9 1128.6,374.3 1136.8,376.8 1145.1,379.3 1153.3,381.7 1161.6,384.2 1169.9,387.0 1178.2,390.0 1186.5,393.0 1194.7,395.8 1203.0,398.2 1211.2,400.7 1219.5,403.8 1227.7,407.3 1233.2,409.7 1238.7,412.3 1244.2,414.8 1249.7,417.2 1255.2,419.7 1260.7,422.2 1266.2,424.9 1271.7,427.8 1277.2,430.5 1282.7,433.0 1288.3,435.5 1293.8,437.9 1299.3,440.4 1304.8,442.8 1310.3,445.3 1315.9,447.9 1321.5,450.5 1326.8,452.8 1332.9,455.3 1340.1,457.6 1345.5,459.1 1351.9,460.7 1358.6,462.3 1365.1,463.9 1371.4,465.3 1377.6,466.7 1383.9,467.9 1390.2,468.9 1396.4,469.4 1402.7,469.7 1408.9,469.9 1415.2,470.1 1421.4,470.4 1427.7,470.7 1433.9,471.0 1440.2,471.4 1446.5,471.8 1452.7,472.3 1459.0,472.7 1465.2,473.1 1471.5,473.3 1477.7,473.4 1484.0,473.5 1490.3,473.9 1496.5,474.4 1502.8,475.2 1509.0,476.1 1515.3,477.1 1521.5,478.3 1527.8,479.5 1534.0,481.0 1540.3,482.6 1546.6,484.5 1552.8,486.6 1559.1,488.9 1565.3,491.4 1571.6,494.1 1577.8,496.9 1584.1,499.9 1590.4,502.6 1596.6,505.2 1602.9,507.6 1609.1,510.1 1615.4,512.7 1621.6,515.4 1627.9,518.3 1634.1,521.2 1640.4,523.9 1646.7,526.5 1652.9,529.1 1659.2,531.5 1665.4,533.9 1671.7,536.3 1677.9,538.5 1684.2,540.7 1690.5,542.7 1696.7,544.5 1703.0,546.1 1709.2,547.6 1715.5,548.9 1722.2,550.1 1729.2,551.2 1735.6,552.0 1740.5,552.7 1746.0,553.2"/>
<polyline fill="none" stroke="#ff0000" stroke-width="9.0" stroke-linejoin="round" points="314.6,662.9 342.2,636.3 366.7,609.2 403.4,564.4 427.0,527.0 450.0,489.8 473.0,452.4 489.5,432.0 515.0,390.6 542.0,356.0 553.0,338.0 559.0,331.5 568.0,328.5 596.0,322.0 638.0,307.5 677.0,299.0 706.0,294.3 729.4,291.3 747.3,295.3 771.2,303.7 795.0,312.0"/>
<polyline fill="none" stroke="#ff0000" stroke-width="17.5" stroke-linejoin="round" points="225.0,1295.9 677.0,1295.9"/>
<path fill="none" stroke="#ff0000" stroke-width="1.75" d="M302.9 663.5h24.0M314.9 651.5v24.0M306.4 655.0l17.0 17.0M306.4 672.0l17.0 -17.0M305.3 662.7h24.0M317.3 650.7v24.0M308.8 654.2l17.0 17.0M308.8 671.1l17.0 -17.0M306.7 661.1h24.0M318.7 649.1v24.0M310.3 652.6l17.0 17.0M310.3 669.6l17.0 -17.0M306.9 658.6h24.0M318.9 646.6v24.0M310.4 650.2l17.0 17.0M310.4 667.1l17.0 -17.0M308.8 657.3h24.0M320.8 645.3v24.0M312.3 648.8l17.0 17.0M312.3 665.8l17.0 -17.0M310.7 657.0h24.0M322.7 645.0v24.0M314.2 648.5l17.0 17.0M314.2 665.5l17.0 -17.0M311.0 654.6h24.0M323.0 642.6v24.0M314.6 646.1l17.0 17.0M314.6 663.0l17.0 -17.0M314.2 654.3h24.0M326.2 642.3v24.0M317.8 645.8l17.0 17.0M317.8 662.8l17.0 -17.0M315.0 652.6h24.0M327.0 640.6v24.0M318.5 644.1l17.0 17.0M318.5 661.1l17.0 -17.0M314.6 649.4h24.0M326.6 637.4v24.0M318.1 641.0l17.0 17.0M318.1 657.9l17.0 -17.0M316.7 648.5h24.0M328.7 636.5v24.0M320.2 640.0l17.0 17.0M320.2 657.0l17.0 -17.0M319.5 648.6h24.0M331.5 636.6v24.0M323.0 640.1l17.0 17.0M323.0 657.1l17.0 -17.0M319.5 645.5h24.0M331.5 633.5v24.0M323.0 637.0l17.0 17.0M323.0 654.0l17.0 -17.0M321.2 644.3h24.0M333.2 632.3v24.0M324.7 635.8l17.0 17.0M324.7 652.8l17.0 -17.0M322.2 642.3h24.0M334.2 630.3v24.0M325.8 633.8l17.0 17.0M325.8 650.8l17.0 -17.0M324.2 641.9h24.0M336.2 629.9v24.0M327.7 633.4l17.0 17.0M327.7 650.4l17.0 -17.0M325.1 640.1h24.0M337.1 628.1v24.0M328.6 631.6l17.0 17.0M328.6 648.6l17.0 -17.0M328.3 640.4h24.0M340.3 628.4v24.0M331.8 631.9l17.0 17.0M331.8 648.8l17.0 -17.0M329.7 638.4h24.0M341.7 626.4v24.0M333.2 629.9l17.0 17.0M333.2 646.9l17.0 -17.0M329.9 635.9h24.0M341.9 623.9v24.0M333.4 627.4l17.0 17.0M333.4 644.4l17.0 -17.0M330.3 633.9h24.0M342.3 621.9v24.0M333.9 625.4l17.0 17.0M333.9 642.4l17.0 -17.0M332.7 633.0h24.0M344.7 621.0v24.0M336.2 624.5l17.0 17.0M336.2 641.5l17.0 -17.0M333.5 630.9h24.0M345.5 618.9v24.0M337.1 622.4l17.0 17.0M337.1 639.3l17.0 -17.0M334.9 630.0h24.0M346.9 618.0v24.0M338.4 621.5l17.0 17.0M338.4 638.4l17.0 -17.0M336.9 628.6h24.0M348.9 616.6v24.0M340.4 620.1l17.0 17.0M340.4 637.1l17.0 -17.0M338.9 627.9h24.0M350.9 615.9v24.0M342.5 619.5l17.0 17.0M342.5 636.4l17.0 -17.0M341.1 626.8h24.0M353.1 614.8v24.0M344.6 618.4l17.0 17.0M344.6 635.3l17.0 -17.0M342.0 625.4h24.0M354.0 613.4v24.0M345.5 617.0l17.0 17.0M345.5 633.9l17.0 -17.0M343.4 623.7h24.0M355.4 611.7v24.0M346.9 615.2l17.0 17.0M346.9 632.2l17.0 -17.0M342.5 620.2h24.0M354.5 608.2v24.0M346.0 611.7l17.0 17.0M346.0 628.7l17.0 -17.0M345.3 619.8h24.0M357.3 607.8v24.0M348.8 611.3l17.0 17.0M348.8 628.3l17.0 -17.0M345.3 617.2h24.0M357.3 605.2v24.0M348.8 608.7l17.0 17.0M348.8 625.7l17.0 -17.0M348.5 617.4h24.0M360.5 605.4v24.0M352.1 608.9l17.0 17.0M352.1 625.9l17.0 -17.0M350.1 616.0h24.0M362.1 604.0v24.0M353.6 607.5l17.0 17.0M353.6 624.5l17.0 -17.0M351.4 614.5h24.0M363.4 602.5v24.0M354.9 606.0l17.0 17.0M354.9 623.0l17.0 -17.0M352.4 612.8h24.0M364.4 600.8v24.0M355.9 604.3l17.0 17.0M355.9 621.3l17.0 -17.0M353.8 611.3h24.0M365.8 599.3v24.0M357.3 602.8l17.0 17.0M357.3 619.8l17.0 -17.0M354.1 608.8h24.0M366.1 596.8v24.0M357.6 600.3l17.0 17.0M357.6 617.3l17.0 -17.0M355.2 607.4h24.0M367.2 595.4v24.0M358.7 598.9l17.0 17.0M358.7 615.9l17.0 -17.0M356.7 605.5h24.0M368.7 593.5v24.0M360.2 597.0l17.0 17.0M360.2 614.0l17.0 -17.0M358.9 604.4h24.0M370.9 592.4v24.0M362.4 595.9l17.0 17.0M362.4 612.9l17.0 -17.0M359.3 602.2h24.0M371.3 590.2v24.0M362.8 593.7l17.0 17.0M362.8 610.7l17.0 -17.0M362.0 601.8h24.0M374.0 589.8v24.0M365.5 593.4l17.0 17.0M365.5 610.3l17.0 -17.0M363.6 600.5h24.0M375.6 588.5v24.0M367.2 592.0l17.0 17.0M367.2 609.0l17.0 -17.0M365.0 598.7h24.0M377.0 586.7v24.0M368.5 590.2l17.0 17.0M368.5 607.2l17.0 -17.0M364.1 595.2h24.0M376.1 583.2v24.0M367.6 586.8l17.0 17.0M367.6 603.7l17.0 -17.0M367.2 595.3h24.0M379.2 583.3v24.0M370.7 586.9l17.0 17.0M370.7 603.8l17.0 -17.0M369.2 594.5h24.0M381.2 582.5v24.0M372.7 586.0l17.0 17.0M372.7 602.9l17.0 -17.0M369.2 591.4h24.0M381.2 579.4v24.0M372.7 583.0l17.0 17.0M372.7 599.9l17.0 -17.0M371.6 590.9h24.0M383.6 578.9v24.0M375.1 582.4l17.0 17.0M375.1 599.4l17.0 -17.0M370.5 587.3h24.0M382.5 575.3v24.0M374.0 578.8l17.0 17.0M374.0 595.8l17.0 -17.0M371.7 585.4h24.0M383.7 573.4v24.0M375.2 577.0l17.0 17.0M375.2 593.9l17.0 -17.0M373.9 585.1h24.0M385.9 573.1v24.0M377.5 576.6l17.0 17.0M377.5 593.6l17.0 -17.0M374.4 582.5h24.0M386.4 570.5v24.0M377.9 574.0l17.0 17.0M377.9 591.0l17.0 -17.0M377.6 582.4h24.0M389.6 570.4v24.0M381.2 573.9l17.0 17.0M381.2 590.9l17.0 -17.0M377.5 579.9h24.0M389.5 567.9v24.0M381.0 571.4l17.0 17.0M381.0 588.4l17.0 -17.0M380.0 579.4h24.0M392.0 567.4v24.0M383.5 570.9l17.0 17.0M383.5 587.9l17.0 -17.0M379.6 576.2h24.0M391.6 564.2v24.0M383.1 567.7l17.0 17.0M383.1 584.6l17.0 -17.0M381.4 574.6h24.0M393.4 562.6v24.0M384.9 566.1l17.0 17.0M384.9 583.1l17.0 -17.0M383.4 573.7h24.0M395.4 561.7v24.0M386.9 565.2l17.0 17.0M386.9 582.2l17.0 -17.0M386.2 573.5h24.0M398.2 561.5v24.0M389.7 565.0l17.0 17.0M389.7 581.9l17.0 -17.0M385.8 570.3h24.0M397.8 558.3v24.0M389.4 561.8l17.0 17.0M389.4 578.8l17.0 -17.0M386.4 568.4h24.0M398.4 556.4v24.0M389.9 559.9l17.0 17.0M389.9 576.9l17.0 -17.0M389.0 567.8h24.0M401.0 555.8v24.0M392.5 559.3l17.0 17.0M392.5 576.3l17.0 -17.0M390.9 566.8h24.0M402.9 554.8v24.0M394.4 558.4l17.0 17.0M394.4 575.3l17.0 -17.0M390.3 563.5h24.0M402.3 551.5v24.0M393.8 555.0l17.0 17.0M393.8 572.0l17.0 -17.0M392.1 562.1h24.0M404.1 550.1v24.0M395.6 553.6l17.0 17.0M395.6 570.6l17.0 -17.0M393.2 560.8h24.0M405.2 548.8v24.0M396.8 552.3l17.0 17.0M396.8 569.3l17.0 -17.0M393.8 558.6h24.0M405.8 546.6v24.0M397.3 550.1l17.0 17.0M397.3 567.1l17.0 -17.0M394.6 557.2h24.0M406.6 545.2v24.0M398.1 548.7l17.0 17.0M398.1 565.6l17.0 -17.0M395.1 554.8h24.0M407.1 542.8v24.0M398.6 546.3l17.0 17.0M398.6 563.3l17.0 -17.0M396.5 553.0h24.0M408.5 541.0v24.0M400.0 544.6l17.0 17.0M400.0 561.5l17.0 -17.0M400.0 553.5h24.0M412.0 541.5v24.0M403.5 545.1l17.0 17.0M403.5 562.0l17.0 -17.0M398.7 550.3h24.0M410.7 538.3v24.0M402.2 541.9l17.0 17.0M402.2 558.8l17.0 -17.0M399.5 548.0h24.0M411.5 536.0v24.0M403.0 539.5l17.0 17.0M403.0 556.5l17.0 -17.0M401.7 547.0h24.0M413.7 535.0v24.0M405.3 538.5l17.0 17.0M405.3 555.5l17.0 -17.0M401.7 544.7h24.0M413.7 532.7v24.0M405.2 536.2l17.0 17.0M405.2 553.2l17.0 -17.0M402.8 543.3h24.0M414.8 531.3v24.0M406.3 534.8l17.0 17.0M406.3 551.8l17.0 -17.0M404.1 541.5h24.0M416.1 529.5v24.0M407.6 533.0l17.0 17.0M407.6 549.9l17.0 -17.0M407.0 541.1h24.0M419.0 529.1v24.0M410.5 532.6l17.0 17.0M410.5 549.6l17.0 -17.0M408.3 539.2h24.0M420.3 527.2v24.0M411.8 530.7l17.0 17.0M411.8 547.7l17.0 -17.0M407.1 536.3h24.0M419.1 524.3v24.0M410.6 527.8l17.0 17.0M410.6 544.8l17.0 -17.0M409.6 535.3h24.0M421.6 523.3v24.0M413.1 526.8l17.0 17.0M413.1 543.8l17.0 -17.0M409.3 532.9h24.0M421.3 520.9v24.0M412.8 524.4l17.0 17.0M412.8 541.4l17.0 -17.0M411.4 532.0h24.0M423.4 520.0v24.0M414.9 523.5l17.0 17.0M414.9 540.5l17.0 -17.0M413.6 531.3h24.0M425.6 519.3v24.0M417.1 522.8l17.0 17.0M417.1 539.7l17.0 -17.0M415.0 529.5h24.0M427.0 517.5v24.0M418.5 521.0l17.0 17.0M418.5 538.0l17.0 -17.0M414.7 526.9h24.0M426.7 514.9v24.0M418.2 518.4l17.0 17.0M418.2 535.4l17.0 -17.0M416.1 524.9h24.0M428.1 512.9v24.0M419.6 516.4l17.0 17.0M419.6 533.4l17.0 -17.0M416.8 523.2h24.0M428.8 511.2v24.0M420.3 514.7l17.0 17.0M420.3 531.7l17.0 -17.0M417.4 521.2h24.0M429.4 509.2v24.0M420.9 512.7l17.0 17.0M420.9 529.6l17.0 -17.0M418.7 519.3h24.0M430.7 507.3v24.0M422.3 510.8l17.0 17.0M422.3 527.8l17.0 -17.0M420.1 517.9h24.0M432.1 505.9v24.0M423.6 509.4l17.0 17.0M423.6 526.4l17.0 -17.0M420.9 516.0h24.0M432.9 504.0v24.0M424.4 507.5l17.0 17.0M424.4 524.5l17.0 -17.0M423.0 514.8h24.0M435.0 502.8v24.0M426.5 506.3l17.0 17.0M426.5 523.3l17.0 -17.0M422.7 511.9h24.0M434.7 499.9v24.0M426.3 503.4l17.0 17.0M426.3 520.4l17.0 -17.0M424.9 511.1h24.0M436.9 499.1v24.0M428.4 502.7l17.0 17.0M428.4 519.6l17.0 -17.0M427.0 510.0h24.0M439.0 498.0v24.0M430.5 501.5l17.0 17.0M430.5 518.5l17.0 -17.0M428.3 508.2h24.0M440.3 496.2v24.0M431.9 499.7l17.0 17.0M431.9 516.6l17.0 -17.0M427.7 505.6h24.0M439.7 493.6v24.0M431.3 497.1l17.0 17.0M431.3 514.1l17.0 -17.0M430.5 504.8h24.0M442.5 492.8v24.0M434.1 496.3l17.0 17.0M434.1 513.3l17.0 -17.0M431.8 503.2h24.0M443.8 491.2v24.0M435.3 494.7l17.0 17.0M435.3 511.7l17.0 -17.0M432.7 501.0h24.0M444.7 489.0v24.0M436.2 492.5l17.0 17.0M436.2 509.4l17.0 -17.0M432.9 498.9h24.0M444.9 486.9v24.0M436.4 490.4l17.0 17.0M436.4 507.4l17.0 -17.0M434.7 497.6h24.0M446.7 485.6v24.0M438.2 489.1l17.0 17.0M438.2 506.1l17.0 -17.0M435.1 495.3h24.0M447.1 483.3v24.0M438.6 486.9l17.0 17.0M438.6 503.8l17.0 -17.0M434.8 492.9h24.0M446.8 480.9v24.0M438.3 484.4l17.0 17.0M438.3 501.4l17.0 -17.0M436.8 491.6h24.0M448.8 479.6v24.0M440.3 483.1l17.0 17.0M440.3 500.1l17.0 -17.0M437.6 489.3h24.0M449.6 477.3v24.0M441.1 480.8l17.0 17.0M441.1 497.8l17.0 -17.0M437.6 487.3h24.0M449.6 475.3v24.0M441.1 478.8l17.0 17.0M441.1 495.8l17.0 -17.0M441.4 486.8h24.0M453.4 474.8v24.0M444.9 478.3l17.0 17.0M444.9 495.3l17.0 -17.0M440.2 483.7h24.0M452.2 471.7v24.0M443.7 475.2l17.0 17.0M443.7 492.1l17.0 -17.0M442.9 483.0h24.0M454.9 471.0v24.0M446.4 474.5l17.0 17.0M446.4 491.5l17.0 -17.0M444.1 481.7h24.0M456.1 469.7v24.0M447.6 473.2l17.0 17.0M447.6 490.1l17.0 -17.0M444.5 478.7h24.0M456.5 466.7v24.0M448.0 470.2l17.0 17.0M448.0 487.2l17.0 -17.0M447.3 478.2h24.0M459.3 466.2v24.0M450.8 469.7l17.0 17.0M450.8 486.7l17.0 -17.0M448.5 476.5h24.0M460.5 464.5v24.0M452.0 468.0l17.0 17.0M452.0 485.0l17.0 -17.0M446.6 473.4h24.0M458.6 461.4v24.0M450.1 464.9l17.0 17.0M450.1 481.8l17.0 -17.0M450.6 472.9h24.0M462.6 460.9v24.0M454.2 464.4l17.0 17.0M454.2 481.4l17.0 -17.0M450.6 470.8h24.0M462.6 458.8v24.0M454.1 462.3l17.0 17.0M454.1 479.3l17.0 -17.0M451.7 468.9h24.0M463.7 456.9v24.0M455.2 460.4l17.0 17.0M455.2 477.4l17.0 -17.0M452.9 467.0h24.0M464.9 455.0v24.0M456.4 458.5l17.0 17.0M456.4 475.5l17.0 -17.0M454.7 465.7h24.0M466.7 453.7v24.0M458.2 457.2l17.0 17.0M458.2 474.2l17.0 -17.0M455.2 463.4h24.0M467.2 451.4v24.0M458.8 454.9l17.0 17.0M458.8 471.9l17.0 -17.0M455.3 461.2h24.0M467.3 449.2v24.0M458.8 452.7l17.0 17.0M458.8 469.7l17.0 -17.0M458.1 460.2h24.0M470.1 448.2v24.0M461.6 451.8l17.0 17.0M461.6 468.7l17.0 -17.0M457.0 457.1h24.0M469.0 445.1v24.0M460.5 448.6l17.0 17.0M460.5 465.6l17.0 -17.0M459.2 455.8h24.0M471.2 443.8v24.0M462.7 447.3l17.0 17.0M462.7 464.3l17.0 -17.0M458.8 453.5h24.0M470.8 441.5v24.0M462.3 445.0l17.0 17.0M462.3 462.0l17.0 -17.0M459.9 451.6h24.0M471.9 439.6v24.0M463.4 443.1l17.0 17.0M463.4 460.0l17.0 -17.0M462.0 450.3h24.0M474.0 438.3v24.0M465.5 441.8l17.0 17.0M465.5 458.7l17.0 -17.0M462.6 448.5h24.0M474.6 436.5v24.0M466.1 440.0l17.0 17.0M466.1 457.0l17.0 -17.0M465.0 447.7h24.0M477.0 435.7v24.0M468.5 439.2l17.0 17.0M468.5 456.1l17.0 -17.0M467.0 447.2h24.0M479.0 435.2v24.0M470.5 438.7l17.0 17.0M470.5 455.7l17.0 -17.0M467.9 444.9h24.0M479.9 432.9v24.0M471.4 436.4l17.0 17.0M471.4 453.4l17.0 -17.0M467.8 442.2h24.0M479.8 430.2v24.0M471.3 433.7l17.0 17.0M471.3 450.7l17.0 -17.0M470.4 441.8h24.0M482.4 429.8v24.0M473.9 433.4l17.0 17.0M473.9 450.3l17.0 -17.0M471.1 439.9h24.0M483.1 427.9v24.0M474.6 431.4l17.0 17.0M474.6 448.4l17.0 -17.0M473.4 439.2h24.0M485.4 427.2v24.0M477.0 430.7l17.0 17.0M477.0 447.6l17.0 -17.0M473.4 436.9h24.0M485.4 424.9v24.0M476.9 428.4l17.0 17.0M476.9 445.4l17.0 -17.0M475.5 435.3h24.0M487.5 423.3v24.0M479.0 426.8l17.0 17.0M479.0 443.8l17.0 -17.0M476.6 433.9h24.0M488.6 421.9v24.0M480.1 425.4l17.0 17.0M480.1 442.4l17.0 -17.0M478.5 432.3h24.0M490.5 420.3v24.0M482.0 423.8l17.0 17.0M482.0 440.8l17.0 -17.0M479.1 430.7h24.0M491.1 418.7v24.0M482.6 422.2l17.0 17.0M482.6 439.2l17.0 -17.0M480.9 429.4h24.0M492.9 417.4v24.0M484.4 420.9l17.0 17.0M484.4 437.9l17.0 -17.0M481.6 427.4h24.0M493.6 415.4v24.0M485.2 418.9l17.0 17.0M485.2 435.9l17.0 -17.0M481.0 424.7h24.0M493.0 412.7v24.0M484.5 416.2l17.0 17.0M484.5 433.2l17.0 -17.0M481.5 422.5h24.0M493.5 410.5v24.0M485.0 414.0l17.0 17.0M485.0 431.0l17.0 -17.0M482.0 420.8h24.0M494.0 408.8v24.0M485.5 412.3l17.0 17.0M485.5 429.3l17.0 -17.0M484.2 419.8h24.0M496.2 407.8v24.0M487.7 411.3l17.0 17.0M487.7 428.3l17.0 -17.0M484.7 417.5h24.0M496.7 405.5v24.0M488.3 409.0l17.0 17.0M488.3 426.0l17.0 -17.0M485.8 415.8h24.0M497.8 403.8v24.0M489.3 407.3l17.0 17.0M489.3 424.3l17.0 -17.0M488.3 414.9h24.0M500.3 402.9v24.0M491.8 406.4l17.0 17.0M491.8 423.4l17.0 -17.0M488.1 412.6h24.0M500.1 400.6v24.0M491.6 404.1l17.0 17.0M491.6 421.1l17.0 -17.0M489.7 410.8h24.0M501.7 398.8v24.0M493.3 402.3l17.0 17.0M493.3 419.2l17.0 -17.0M492.7 410.5h24.0M504.7 398.5v24.0M496.2 402.0l17.0 17.0M496.2 419.0l17.0 -17.0M493.9 408.7h24.0M505.9 396.7v24.0M497.4 400.2l17.0 17.0M497.4 417.2l17.0 -17.0M493.1 406.0h24.0M505.1 394.0v24.0M496.6 397.5l17.0 17.0M496.6 414.5l17.0 -17.0M494.2 404.6h24.0M506.2 392.6v24.0M497.8 396.1l17.0 17.0M497.8 413.1l17.0 -17.0M494.7 402.2h24.0M506.7 390.2v24.0M498.2 393.7l17.0 17.0M498.2 410.7l17.0 -17.0M495.8 400.8h24.0M507.8 388.8v24.0M499.3 392.3l17.0 17.0M499.3 409.2l17.0 -17.0M498.3 399.6h24.0M510.3 387.6v24.0M501.8 391.1l17.0 17.0M501.8 408.1l17.0 -17.0M497.8 397.2h24.0M509.8 385.2v24.0M501.3 388.7l17.0 17.0M501.3 405.6l17.0 -17.0M498.2 394.7h24.0M510.2 382.7v24.0M501.7 386.2l17.0 17.0M501.7 403.2l17.0 -17.0M501.1 394.3h24.0M513.1 382.3v24.0M504.6 385.8l17.0 17.0M504.6 402.7l17.0 -17.0M501.6 391.8h24.0M513.6 379.8v24.0M505.1 383.3l17.0 17.0M505.1 400.3l17.0 -17.0M504.0 391.6h24.0M516.0 379.6v24.0M507.5 383.1l17.0 17.0M507.5 400.1l17.0 -17.0M504.9 389.1h24.0M516.9 377.1v24.0M508.5 380.7l17.0 17.0M508.5 397.6l17.0 -17.0M506.8 388.5h24.0M518.8 376.5v24.0M510.3 380.0l17.0 17.0M510.3 397.0l17.0 -17.0M506.4 385.1h24.0M518.4 373.1v24.0M509.9 376.6l17.0 17.0M509.9 393.5l17.0 -17.0M508.1 383.9h24.0M520.1 371.9v24.0M511.6 375.5l17.0 17.0M511.6 392.4l17.0 -17.0M510.9 383.1h24.0M522.9 371.1v24.0M514.4 374.6l17.0 17.0M514.4 391.6l17.0 -17.0M509.5 379.2h24.0M521.5 367.2v24.0M513.0 370.8l17.0 17.0M513.0 387.7l17.0 -17.0M512.3 379.4h24.0M524.3 367.4v24.0M515.8 371.0l17.0 17.0M515.8 387.9l17.0 -17.0M513.3 377.4h24.0M525.3 365.4v24.0M516.8 368.9l17.0 17.0M516.8 385.9l17.0 -17.0M513.0 374.7h24.0M525.0 362.7v24.0M516.5 366.2l17.0 17.0M516.5 383.2l17.0 -17.0M517.0 375.3h24.0M529.0 363.3v24.0M520.5 366.8l17.0 17.0M520.5 383.8l17.0 -17.0M518.5 373.4h24.0M530.5 361.4v24.0M522.0 364.9l17.0 17.0M522.0 381.9l17.0 -17.0M517.3 369.7h24.0M529.3 357.7v24.0M520.8 361.2l17.0 17.0M520.8 378.2l17.0 -17.0M518.5 367.9h24.0M530.5 355.9v24.0M522.0 359.4l17.0 17.0M522.0 376.4l17.0 -17.0M522.6 368.7h24.0M534.6 356.7v24.0M526.1 360.2l17.0 17.0M526.1 377.2l17.0 -17.0M522.7 366.3h24.0M534.7 354.3v24.0M526.2 357.8l17.0 17.0M526.2 374.8l17.0 -17.0M524.4 364.4h24.0M536.4 352.4v24.0M527.9 355.9l17.0 17.0M527.9 372.9l17.0 -17.0M524.3 361.7h24.0M536.3 349.7v24.0M527.8 353.3l17.0 17.0M527.8 370.2l17.0 -17.0M524.9 360.1h24.0M536.9 348.1v24.0M528.4 351.6l17.0 17.0M528.4 368.6l17.0 -17.0M528.0 359.7h24.0M540.0 347.7v24.0M531.5 351.3l17.0 17.0M531.5 368.2l17.0 -17.0M527.2 356.3h24.0M539.2 344.3v24.0M530.7 347.9l17.0 17.0M530.7 364.8l17.0 -17.0M530.1 355.9h24.0M542.1 343.9v24.0M533.6 347.4l17.0 17.0M533.6 364.4l17.0 -17.0M532.7 354.9h24.0M544.7 342.9v24.0M536.2 346.4l17.0 17.0M536.2 363.4l17.0 -17.0M530.6 351.4h24.0M542.6 339.4v24.0M534.1 342.9l17.0 17.0M534.1 359.8l17.0 -17.0M533.1 350.5h24.0M545.1 338.5v24.0M536.6 342.0l17.0 17.0M536.6 359.0l17.0 -17.0M533.1 348.0h24.0M545.1 336.0v24.0M536.6 339.6l17.0 17.0M536.6 356.5l17.0 -17.0M535.3 347.0h24.0M547.3 335.0v24.0M538.8 338.5l17.0 17.0M538.8 355.5l17.0 -17.0M536.6 344.8h24.0M548.6 332.8v24.0M540.1 336.3l17.0 17.0M540.1 353.3l17.0 -17.0M536.9 343.1h24.0M548.9 331.1v24.0M540.4 334.6l17.0 17.0M540.4 351.6l17.0 -17.0M538.2 341.0h24.0M550.2 329.0v24.0M541.7 332.5l17.0 17.0M541.7 349.5l17.0 -17.0M538.2 338.9h24.0M550.2 326.9v24.0M541.7 330.4l17.0 17.0M541.7 347.4l17.0 -17.0M541.3 338.6h24.0M553.3 326.6v24.0M544.9 330.1l17.0 17.0M544.9 347.1l17.0 -17.0M541.0 335.2h24.0M553.0 323.2v24.0M544.5 326.7l17.0 17.0M544.5 343.7l17.0 -17.0M544.6 335.2h24.0M556.6 323.2v24.0M548.1 326.7l17.0 17.0M548.1 343.7l17.0 -17.0M546.3 333.9h24.0M558.3 321.9v24.0M549.8 325.4l17.0 17.0M549.8 342.3l17.0 -17.0M546.5 329.8h24.0M558.5 317.8v24.0M550.0 321.3l17.0 17.0M550.0 338.3l17.0 -17.0M549.0 329.2h24.0M561.0 317.2v24.0M552.5 320.7l17.0 17.0M552.5 337.7l17.0 -17.0M551.8 331.1h24.0M563.8 319.1v24.0M555.3 322.6l17.0 17.0M555.3 339.6l17.0 -17.0M553.7 329.7h24.0M565.7 317.7v24.0M557.2 321.2l17.0 17.0M557.2 338.2l17.0 -17.0M556.3 329.7h24.0M568.3 317.7v24.0M559.8 321.2l17.0 17.0M559.8 338.2l17.0 -17.0M557.7 327.0h24.0M569.7 315.0v24.0M561.2 318.5l17.0 17.0M561.2 335.5l17.0 -17.0M559.9 327.4h24.0M571.9 315.4v24.0M563.4 318.9l17.0 17.0M563.4 335.9l17.0 -17.0M562.3 329.1h24.0M574.3 317.1v24.0M565.8 320.6l17.0 17.0M565.8 337.6l17.0 -17.0M564.3 328.2h24.0M576.3 316.2v24.0M567.9 319.7l17.0 17.0M567.9 336.7l17.0 -17.0M565.5 324.6h24.0M577.5 312.6v24.0M569.0 316.1l17.0 17.0M569.0 333.1l17.0 -17.0M568.2 326.7h24.0M580.2 314.7v24.0M571.7 318.2l17.0 17.0M571.7 335.1l17.0 -17.0M569.8 323.7h24.0M581.8 311.7v24.0M573.3 315.2l17.0 17.0M573.3 332.2l17.0 -17.0M572.2 326.8h24.0M584.2 314.8v24.0M575.7 318.3l17.0 17.0M575.7 335.3l17.0 -17.0M573.6 322.8h24.0M585.6 310.8v24.0M577.1 314.3l17.0 17.0M577.1 331.3l17.0 -17.0M576.4 326.1h24.0M588.4 314.1v24.0M579.9 317.6l17.0 17.0M579.9 334.5l17.0 -17.0M577.9 322.4h24.0M589.9 310.4v24.0M581.4 313.9l17.0 17.0M581.4 330.9l17.0 -17.0M580.0 323.7h24.0M592.0 311.7v24.0M583.5 315.2l17.0 17.0M583.5 332.2l17.0 -17.0M582.1 322.6h24.0M594.1 310.6v24.0M585.6 314.2l17.0 17.0M585.6 331.1l17.0 -17.0M583.8 321.3h24.0M595.8 309.3v24.0M587.3 312.8l17.0 17.0M587.3 329.8l17.0 -17.0M586.0 321.2h24.0M598.0 309.2v24.0M589.5 312.7l17.0 17.0M589.5 329.7l17.0 -17.0M587.3 319.9h24.0M599.3 307.9v24.0M590.8 311.4l17.0 17.0M590.8 328.4l17.0 -17.0M589.4 319.2h24.0M601.4 307.2v24.0M592.9 310.8l17.0 17.0M592.9 327.7l17.0 -17.0M592.0 320.4h24.0M604.0 308.4v24.0M595.6 311.9l17.0 17.0M595.6 328.9l17.0 -17.0M593.8 320.2h24.0M605.8 308.2v24.0M597.3 311.7l17.0 17.0M597.3 328.7l17.0 -17.0M595.3 317.6h24.0M607.3 305.6v24.0M598.8 309.1l17.0 17.0M598.8 326.1l17.0 -17.0M596.9 316.9h24.0M608.9 304.9v24.0M600.5 308.4l17.0 17.0M600.5 325.4l17.0 -17.0M599.6 317.0h24.0M611.6 305.0v24.0M603.1 308.5l17.0 17.0M603.1 325.4l17.0 -17.0M600.7 314.5h24.0M612.7 302.5v24.0M604.2 306.0l17.0 17.0M604.2 322.9l17.0 -17.0M603.7 316.5h24.0M615.7 304.5v24.0M607.2 308.0l17.0 17.0M607.2 325.0l17.0 -17.0M605.0 315.5h24.0M617.0 303.5v24.0M608.5 307.0l17.0 17.0M608.5 324.0l17.0 -17.0M606.6 313.3h24.0M618.6 301.3v24.0M610.1 304.8l17.0 17.0M610.1 321.8l17.0 -17.0M608.9 312.6h24.0M620.9 300.6v24.0M612.4 304.1l17.0 17.0M612.4 321.1l17.0 -17.0M611.2 314.5h24.0M623.2 302.5v24.0M614.8 306.0l17.0 17.0M614.8 323.0l17.0 -17.0M612.2 311.6h24.0M624.2 299.6v24.0M615.7 303.1l17.0 17.0M615.7 320.1l17.0 -17.0M614.2 310.4h24.0M626.2 298.4v24.0M617.8 301.9l17.0 17.0M617.8 318.9l17.0 -17.0M615.7 309.2h24.0M627.7 297.2v24.0M619.2 300.7l17.0 17.0M619.2 317.7l17.0 -17.0M618.5 311.3h24.0M630.5 299.3v24.0M622.1 302.8l17.0 17.0M622.1 319.8l17.0 -17.0M620.8 310.3h24.0M632.8 298.3v24.0M624.3 301.8l17.0 17.0M624.3 318.7l17.0 -17.0M622.4 310.0h24.0M634.4 298.0v24.0M625.9 301.5l17.0 17.0M625.9 318.4l17.0 -17.0M624.1 307.3h24.0M636.1 295.3v24.0M627.7 298.8l17.0 17.0M627.7 315.8l17.0 -17.0M625.9 308.2h24.0M637.9 296.2v24.0M629.4 299.7l17.0 17.0M629.4 316.7l17.0 -17.0M628.1 308.2h24.0M640.1 296.2v24.0M631.6 299.7l17.0 17.0M631.6 316.7l17.0 -17.0M630.4 307.3h24.0M642.4 295.3v24.0M633.9 298.8l17.0 17.0M633.9 315.7l17.0 -17.0M632.3 305.5h24.0M644.3 293.5v24.0M635.8 297.0l17.0 17.0M635.8 314.0l17.0 -17.0M634.2 306.6h24.0M646.2 294.6v24.0M637.7 298.2l17.0 17.0M637.7 315.1l17.0 -17.0M635.8 304.4h24.0M647.8 292.4v24.0M639.3 295.9l17.0 17.0M639.3 312.9l17.0 -17.0M638.3 305.2h24.0M650.3 293.2v24.0M641.9 296.7l17.0 17.0M641.9 313.7l17.0 -17.0M640.4 305.5h24.0M652.4 293.5v24.0M643.9 297.0l17.0 17.0M643.9 314.0l17.0 -17.0M642.8 304.3h24.0M654.8 292.3v24.0M646.3 295.8l17.0 17.0M646.3 312.8l17.0 -17.0M643.9 301.6h24.0M655.9 289.6v24.0M647.4 293.1l17.0 17.0M647.4 310.1l17.0 -17.0M646.4 301.7h24.0M658.4 289.7v24.0M650.0 293.2l17.0 17.0M650.0 310.2l17.0 -17.0M648.9 304.3h24.0M660.9 292.3v24.0M652.5 295.8l17.0 17.0M652.5 312.7l17.0 -17.0M650.1 300.4h24.0M662.1 288.4v24.0M653.6 291.9l17.0 17.0M653.6 308.9l17.0 -17.0M652.1 300.1h24.0M664.1 288.1v24.0M655.6 291.6l17.0 17.0M655.6 308.6l17.0 -17.0M654.6 299.7h24.0M666.6 287.7v24.0M658.1 291.3l17.0 17.0M658.1 308.2l17.0 -17.0M656.9 302.9h24.0M668.9 290.9v24.0M660.4 294.4l17.0 17.0M660.4 311.3l17.0 -17.0M659.2 301.5h24.0M671.2 289.5v24.0M662.7 293.0l17.0 17.0M662.7 310.0l17.0 -17.0M660.9 300.8h24.0M672.9 288.8v24.0M664.4 292.3l17.0 17.0M664.4 309.3l17.0 -17.0M662.7 299.1h24.0M674.7 287.1v24.0M666.2 290.6l17.0 17.0M666.2 307.6l17.0 -17.0M665.0 299.4h24.0M677.0 287.4v24.0M668.5 290.9l17.0 17.0M668.5 307.9l17.0 -17.0M667.2 297.7h24.0M679.2 285.7v24.0M670.7 289.3l17.0 17.0M670.7 306.2l17.0 -17.0M668.6 296.4h24.0M680.6 284.4v24.0M672.1 287.9l17.0 17.0M672.1 304.9l17.0 -17.0M671.5 298.4h24.0M683.5 286.4v24.0M675.0 289.9l17.0 17.0M675.0 306.8l17.0 -17.0M673.2 298.1h24.0M685.2 286.1v24.0M676.7 289.6l17.0 17.0M676.7 306.5l17.0 -17.0M675.6 297.2h24.0M687.6 285.2v24.0M679.1 288.7l17.0 17.0M679.1 305.6l17.0 -17.0M677.4 296.0h24.0M689.4 284.0v24.0M680.9 287.5l17.0 17.0M680.9 304.5l17.0 -17.0M679.4 295.5h24.0M691.4 283.5v24.0M682.9 287.0l17.0 17.0M682.9 304.0l17.0 -17.0M681.6 297.2h24.0M693.6 285.2v24.0M685.1 288.7l17.0 17.0M685.1 305.7l17.0 -17.0M683.7 297.8h24.0M695.7 285.8v24.0M687.2 289.3l17.0 17.0M687.2 306.3l17.0 -17.0M685.6 296.4h24.0M697.6 284.4v24.0M689.1 287.9l17.0 17.0M689.1 304.8l17.0 -17.0M687.6 295.4h24.0M699.6 283.4v24.0M691.2 286.9l17.0 17.0M691.2 303.9l17.0 -17.0M689.9 293.3h24.0M701.9 281.3v24.0M693.4 284.8l17.0 17.0M693.4 301.8l17.0 -17.0M692.0 296.3h24.0M704.0 284.3v24.0M695.5 287.8l17.0 17.0M695.5 304.8l17.0 -17.0M693.9 293.3h24.0M705.9 281.3v24.0M697.4 284.8l17.0 17.0M697.4 301.8l17.0 -17.0M696.2 294.5h24.0M708.2 282.5v24.0M699.8 286.0l17.0 17.0M699.8 302.9l17.0 -17.0M698.3 292.9h24.0M710.3 280.9v24.0M701.9 284.4l17.0 17.0M701.9 301.4l17.0 -17.0M700.8 294.9h24.0M712.8 282.9v24.0M704.3 286.4l17.0 17.0M704.3 303.3l17.0 -17.0M702.4 293.1h24.0M714.4 281.1v24.0M705.9 284.6l17.0 17.0M705.9 301.6l17.0 -17.0M704.6 294.0h24.0M716.6 282.0v24.0M708.2 285.5l17.0 17.0M708.2 302.5l17.0 -17.0M707.2 294.1h24.0M719.2 282.1v24.0M710.7 285.6l17.0 17.0M710.7 302.6l17.0 -17.0M708.9 293.4h24.0M720.9 281.4v24.0M712.4 284.9l17.0 17.0M712.4 301.9l17.0 -17.0M710.9 292.3h24.0M722.9 280.3v24.0M714.4 283.8l17.0 17.0M714.4 300.8l17.0 -17.0M713.4 291.0h24.0M725.4 279.0v24.0M716.9 282.5l17.0 17.0M716.9 299.5l17.0 -17.0M715.5 291.9h24.0M727.5 279.9v24.0M719.0 283.4l17.0 17.0M719.0 300.4l17.0 -17.0M717.5 289.6h24.0M729.5 277.6v24.0M721.0 281.1l17.0 17.0M721.0 298.0l17.0 -17.0M718.9 293.5h24.0M730.9 281.5v24.0M722.4 285.0l17.0 17.0M722.4 302.0l17.0 -17.0M721.7 291.8h24.0M733.7 279.8v24.0M725.2 283.3l17.0 17.0M725.2 300.3l17.0 -17.0M723.7 291.1h24.0M735.7 279.1v24.0M727.2 282.6l17.0 17.0M727.2 299.5l17.0 -17.0M725.9 291.8h24.0M737.9 279.8v24.0M729.4 283.3l17.0 17.0M729.4 300.2l17.0 -17.0M727.5 293.0h24.0M739.5 281.0v24.0M731.0 284.5l17.0 17.0M731.0 301.5l17.0 -17.0M729.0 294.3h24.0M741.0 282.3v24.0M732.5 285.8l17.0 17.0M732.5 302.8l17.0 -17.0M731.2 295.5h24.0M743.2 283.5v24.0M734.7 287.0l17.0 17.0M734.7 303.9l17.0 -17.0M732.8 295.9h24.0M744.8 283.9v24.0M736.3 287.4l17.0 17.0M736.3 304.4l17.0 -17.0M735.3 294.5h24.0M747.3 282.5v24.0M738.9 286.0l17.0 17.0M738.9 303.0l17.0 -17.0M737.1 297.1h24.0M749.1 285.1v24.0M740.6 288.7l17.0 17.0M740.6 305.6l17.0 -17.0M738.5 298.3h24.0M750.5 286.3v24.0M742.0 289.8l17.0 17.0M742.0 306.8l17.0 -17.0M741.4 297.0h24.0M753.4 285.0v24.0M744.9 288.5l17.0 17.0M744.9 305.5l17.0 -17.0M742.9 299.3h24.0M754.9 287.3v24.0M746.5 290.8l17.0 17.0M746.5 307.8l17.0 -17.0M744.9 299.9h24.0M756.9 287.9v24.0M748.4 291.4l17.0 17.0M748.4 308.4l17.0 -17.0M747.0 300.1h24.0M759.0 288.1v24.0M750.6 291.6l17.0 17.0M750.6 308.6l17.0 -17.0M749.3 300.8h24.0M761.3 288.8v24.0M752.9 292.3l17.0 17.0M752.9 309.3l17.0 -17.0M750.9 301.6h24.0M762.9 289.6v24.0M754.4 293.1l17.0 17.0M754.4 310.0l17.0 -17.0M752.5 303.0h24.0M764.5 291.0v24.0M756.1 294.5l17.0 17.0M756.1 311.4l17.0 -17.0M755.3 302.5h24.0M767.3 290.5v24.0M758.8 294.0l17.0 17.0M758.8 311.0l17.0 -17.0M757.7 301.4h24.0M769.7 289.4v24.0M761.2 292.9l17.0 17.0M761.2 309.8l17.0 -17.0M758.6 305.6h24.0M770.6 293.6v24.0M762.1 297.1l17.0 17.0M762.1 314.1l17.0 -17.0M761.5 302.9h24.0M773.5 290.9v24.0M765.0 294.4l17.0 17.0M765.0 311.4l17.0 -17.0M763.0 305.4h24.0M775.0 293.4v24.0M766.5 296.9l17.0 17.0M766.5 313.8l17.0 -17.0M764.9 306.8h24.0M776.9 294.8v24.0M768.4 298.4l17.0 17.0M768.4 315.3l17.0 -17.0M766.6 308.1h24.0M778.6 296.1v24.0M770.1 299.6l17.0 17.0M770.1 316.6l17.0 -17.0M769.6 305.2h24.0M781.6 293.2v24.0M773.1 296.7l17.0 17.0M773.1 313.7l17.0 -17.0M772.0 306.2h24.0M784.0 294.2v24.0M775.5 297.7l17.0 17.0M775.5 314.7l17.0 -17.0M772.8 310.2h24.0M784.8 298.2v24.0M776.3 301.7l17.0 17.0M776.3 318.6l17.0 -17.0M775.7 307.9h24.0M787.7 295.9v24.0M779.2 299.4l17.0 17.0M779.2 316.4l17.0 -17.0M776.8 311.0h24.0M788.8 299.0v24.0M780.3 302.6l17.0 17.0M780.3 319.5l17.0 -17.0M779.1 311.2h24.0M791.1 299.2v24.0M782.6 302.7l17.0 17.0M782.6 319.7l17.0 -17.0M780.4 312.4h24.0M792.4 300.4v24.0M783.9 304.0l17.0 17.0M783.9 320.9l17.0 -17.0M782.9 311.6h24.0M794.9 299.6v24.0M786.4 303.1l17.0 17.0M786.4 320.1l17.0 -17.0M791.0 315.3h24.0M803.0 303.3v24.0M794.5 306.8l17.0 17.0M794.5 323.8l17.0 -17.0M798.6 318.0h24.0M810.6 306.0v24.0M802.1 309.5l17.0 17.0M802.1 326.5l17.0 -17.0M806.9 319.6h24.0M818.9 307.6v24.0M810.4 311.1l17.0 17.0M810.4 328.0l17.0 -17.0M814.8 320.6h24.0M826.8 308.6v24.0M818.3 312.2l17.0 17.0M818.3 329.1l17.0 -17.0M822.3 323.6h24.0M834.3 311.6v24.0M825.8 315.2l17.0 17.0M825.8 332.1l17.0 -17.0M830.4 325.4h24.0M842.4 313.4v24.0M833.9 316.9l17.0 17.0M833.9 333.8l17.0 -17.0M837.6 327.7h24.0M849.6 315.7v24.0M841.1 319.2l17.0 17.0M841.1 336.2l17.0 -17.0M844.5 328.6h24.0M856.5 316.6v24.0M848.0 320.1l17.0 17.0M848.0 337.0l17.0 -17.0M851.4 328.0h24.0M863.4 316.0v24.0M854.9 319.5l17.0 17.0M854.9 336.5l17.0 -17.0M220.7 750.3h24.0M232.7 738.3v24.0M224.2 741.8l17.0 17.0M224.2 758.8l17.0 -17.0M240.6 730.4h24.0M252.6 718.4v24.0M244.1 721.9l17.0 17.0M244.1 738.9l17.0 -17.0M271.0 700.0h24.0M283.0 688.0v24.0M274.5 691.5l17.0 17.0M274.5 708.5l17.0 -17.0M299.0 667.0h24.0M311.0 655.0v24.0M302.5 658.5l17.0 17.0M302.5 675.5l17.0 -17.0M310.0 662.0h24.0M322.0 650.0v24.0M313.5 653.5l17.0 17.0M313.5 670.5l17.0 -17.0M840.1 323.4h24.0M852.1 311.4v24.0M843.6 314.9l17.0 17.0M843.6 331.9l17.0 -17.0M861.3 326.4h24.0M873.3 314.4v24.0M864.8 317.9l17.0 17.0M864.8 334.9l17.0 -17.0M866.3 328.4h24.0M878.3 316.4v24.0M869.8 319.9l17.0 17.0M869.8 336.9l17.0 -17.0M900.2 331.5h24.0M912.2 319.5v24.0M903.7 323.0l17.0 17.0M903.7 340.0l17.0 -17.0M927.9 328.9h24.0M939.9 316.9v24.0M931.4 320.4l17.0 17.0M931.4 337.4l17.0 -17.0M952.6 328.9h24.0M964.6 316.9v24.0M956.1 320.4l17.0 17.0M956.1 337.4l17.0 -17.0M980.4 328.9h24.0M992.4 316.9v24.0M983.9 320.4l17.0 17.0M983.9 337.4l17.0 -17.0M1005.1 337.0h24.0M1017.1 325.0v24.0M1008.6 328.5l17.0 17.0M1008.6 345.5l17.0 -17.0M212.5 1295.9h24.0M224.5 1283.9v24.0M216.0 1287.4l17.0 17.0M216.0 1304.4l17.0 -17.0M215.4 1295.9h24.0M227.4 1283.9v24.0M218.9 1287.4l17.0 17.0M218.9 1304.4l17.0 -17.0M218.3 1295.9h24.0M230.3 1283.9v24.0M221.8 1287.4l17.0 17.0M221.8 1304.4l17.0 -17.0M221.2 1295.9h24.0M233.2 1283.9v24.0M224.7 1287.4l17.0 17.0M224.7 1304.4l17.0 -17.0M224.1 1295.9h24.0M236.1 1283.9v24.0M227.6 1287.4l17.0 17.0M227.6 1304.4l17.0 -17.0M227.0 1295.9h24.0M239.0 1283.9v24.0M230.5 1287.4l17.0 17.0M230.5 1304.4l17.0 -17.0M229.9 1295.9h24.0M241.9 1283.9v24.0M233.4 1287.4l17.0 17.0M233.4 1304.4l17.0 -17.0M232.8 1295.9h24.0M244.8 1283.9v24.0M236.3 1287.4l17.0 17.0M236.3 1304.4l17.0 -17.0M235.7 1295.9h24.0M247.7 1283.9v24.0M239.2 1287.4l17.0 17.0M239.2 1304.4l17.0 -17.0M238.6 1295.9h24.0M250.6 1283.9v24.0M242.1 1287.4l17.0 17.0M242.1 1304.4l17.0 -17.0M241.5 1295.9h24.0M253.5 1283.9v24.0M245.0 1287.4l17.0 17.0M245.0 1304.4l17.0 -17.0M244.4 1295.9h24.0M256.4 1283.9v24.0M247.9 1287.4l17.0 17.0M247.9 1304.4l17.0 -17.0M247.3 1295.9h24.0M259.3 1283.9v24.0M250.8 1287.4l17.0 17.0M250.8 1304.4l17.0 -17.0M250.2 1295.9h24.0M262.2 1283.9v24.0M253.7 1287.4l17.0 17.0M253.7 1304.4l17.0 -17.0M253.1 1295.9h24.0M265.1 1283.9v24.0M256.6 1287.4l17.0 17.0M256.6 1304.4l17.0 -17.0M256.0 1295.9h24.0M268.0 1283.9v24.0M259.5 1287.4l17.0 17.0M259.5 1304.4l17.0 -17.0M258.9 1295.9h24.0M270.9 1283.9v24.0M262.4 1287.4l17.0 17.0M262.4 1304.4l17.0 -17.0M261.8 1295.9h24.0M273.8 1283.9v24.0M265.3 1287.4l17.0 17.0M265.3 1304.4l17.0 -17.0M264.7 1295.9h24.0M276.7 1283.9v24.0M268.2 1287.4l17.0 17.0M268.2 1304.4l17.0 -17.0M267.6 1295.9h24.0M279.6 1283.9v24.0M271.1 1287.4l17.0 17.0M271.1 1304.4l17.0 -17.0M270.5 1295.9h24.0M282.5 1283.9v24.0M274.0 1287.4l17.0 17.0M274.0 1304.4l17.0 -17.0M273.4 1295.9h24.0M285.4 1283.9v24.0M276.9 1287.4l17.0 17.0M276.9 1304.4l17.0 -17.0M276.3 1295.9h24.0M288.3 1283.9v24.0M279.8 1287.4l17.0 17.0M279.8 1304.4l17.0 -17.0M279.2 1295.9h24.0M291.2 1283.9v24.0M282.7 1287.4l17.0 17.0M282.7 1304.4l17.0 -17.0M282.1 1295.9h24.0M294.1 1283.9v24.0M285.6 1287.4l17.0 17.0M285.6 1304.4l17.0 -17.0M285.0 1295.9h24.0M297.0 1283.9v24.0M288.5 1287.4l17.0 17.0M288.5 1304.4l17.0 -17.0M287.9 1295.9h24.0M299.9 1283.9v24.0M291.4 1287.4l17.0 17.0M291.4 1304.4l17.0 -17.0M290.8 1295.9h24.0M302.8 1283.9v24.0M294.3 1287.4l17.0 17.0M294.3 1304.4l17.0 -17.0M293.7 1295.9h24.0M305.7 1283.9v24.0M297.2 1287.4l17.0 17.0M297.2 1304.4l17.0 -17.0M296.6 1295.9h24.0M308.6 1283.9v24.0M300.1 1287.4l17.0 17.0M300.1 1304.4l17.0 -17.0M299.5 1295.9h24.0M311.5 1283.9v24.0M303.0 1287.4l17.0 17.0M303.0 1304.4l17.0 -17.0M302.4 1295.9h24.0M314.4 1283.9v24.0M305.9 1287.4l17.0 17.0M305.9 1304.4l17.0 -17.0M305.3 1295.9h24.0M317.3 1283.9v24.0M308.8 1287.4l17.0 17.0M308.8 1304.4l17.0 -17.0M308.2 1295.9h24.0M320.2 1283.9v24.0M311.7 1287.4l17.0 17.0M311.7 1304.4l17.0 -17.0M311.1 1295.9h24.0M323.1 1283.9v24.0M314.6 1287.4l17.0 17.0M314.6 1304.4l17.0 -17.0M314.0 1295.9h24.0M326.0 1283.9v24.0M317.5 1287.4l17.0 17.0M317.5 1304.4l17.0 -17.0M316.9 1295.9h24.0M328.9 1283.9v24.0M320.4 1287.4l17.0 17.0M320.4 1304.4l17.0 -17.0M319.8 1295.9h24.0M331.8 1283.9v24.0M323.3 1287.4l17.0 17.0M323.3 1304.4l17.0 -17.0M322.7 1295.9h24.0M334.7 1283.9v24.0M326.2 1287.4l17.0 17.0M326.2 1304.4l17.0 -17.0M325.6 1295.9h24.0M337.6 1283.9v24.0M329.1 1287.4l17.0 17.0M329.1 1304.4l17.0 -17.0M328.5 1295.9h24.0M340.5 1283.9v24.0M332.0 1287.4l17.0 17.0M332.0 1304.4l17.0 -17.0M331.4 1295.9h24.0M343.4 1283.9v24.0M334.9 1287.4l17.0 17.0M334.9 1304.4l17.0 -17.0M334.3 1295.9h24.0M346.3 1283.9v24.0M337.8 1287.4l17.0 17.0M337.8 1304.4l17.0 -17.0M337.2 1295.9h24.0M349.2 1283.9v24.0M340.7 1287.4l17.0 17.0M340.7 1304.4l17.0 -17.0M340.1 1295.9h24.0M352.1 1283.9v24.0M343.6 1287.4l17.0 17.0M343.6 1304.4l17.0 -17.0M343.0 1295.9h24.0M355.0 1283.9v24.0M346.5 1287.4l17.0 17.0M346.5 1304.4l17.0 -17.0M345.9 1295.9h24.0M357.9 1283.9v24.0M349.4 1287.4l17.0 17.0M349.4 1304.4l17.0 -17.0M348.8 1295.9h24.0M360.8 1283.9v24.0M352.3 1287.4l17.0 17.0M352.3 1304.4l17.0 -17.0M351.7 1295.9h24.0M363.7 1283.9v24.0M355.2 1287.4l17.0 17.0M355.2 1304.4l17.0 -17.0M354.6 1295.9h24.0M366.6 1283.9v24.0M358.1 1287.4l17.0 17.0M358.1 1304.4l17.0 -17.0M357.5 1295.9h24.0M369.5 1283.9v24.0M361.0 1287.4l17.0 17.0M361.0 1304.4l17.0 -17.0M360.4 1295.9h24.0M372.4 1283.9v24.0M363.9 1287.4l17.0 17.0M363.9 1304.4l17.0 -17.0M363.3 1295.9h24.0M375.3 1283.9v24.0M366.8 1287.4l17.0 17.0M366.8 1304.4l17.0 -17.0M366.2 1295.9h24.0M378.2 1283.9v24.0M369.7 1287.4l17.0 17.0M369.7 1304.4l17.0 -17.0M369.1 1295.9h24.0M381.1 1283.9v24.0M372.6 1287.4l17.0 17.0M372.6 1304.4l17.0 -17.0M372.0 1295.9h24.0M384.0 1283.9v24.0M375.5 1287.4l17.0 17.0M375.5 1304.4l17.0 -17.0M374.9 1295.9h24.0M386.9 1283.9v24.0M378.4 1287.4l17.0 17.0M378.4 1304.4l17.0 -17.0M377.8 1295.9h24.0M389.8 1283.9v24.0M381.3 1287.4l17.0 17.0M381.3 1304.4l17.0 -17.0M380.7 1295.9h24.0M392.7 1283.9v24.0M384.2 1287.4l17.0 17.0M384.2 1304.4l17.0 -17.0M383.6 1295.9h24.0M395.6 1283.9v24.0M387.1 1287.4l17.0 17.0M387.1 1304.4l17.0 -17.0M386.5 1295.9h24.0M398.5 1283.9v24.0M390.0 1287.4l17.0 17.0M390.0 1304.4l17.0 -17.0M389.4 1295.9h24.0M401.4 1283.9v24.0M392.9 1287.4l17.0 17.0M392.9 1304.4l17.0 -17.0M392.3 1295.9h24.0M404.3 1283.9v24.0M395.8 1287.4l17.0 17.0M395.8 1304.4l17.0 -17.0M395.2 1295.9h24.0M407.2 1283.9v24.0M398.7 1287.4l17.0 17.0M398.7 1304.4l17.0 -17.0M398.1 1295.9h24.0M410.1 1283.9v24.0M401.6 1287.4l17.0 17.0M401.6 1304.4l17.0 -17.0M401.0 1295.9h24.0M413.0 1283.9v24.0M404.5 1287.4l17.0 17.0M404.5 1304.4l17.0 -17.0M403.9 1295.9h24.0M415.9 1283.9v24.0M407.4 1287.4l17.0 17.0M407.4 1304.4l17.0 -17.0M406.8 1295.9h24.0M418.8 1283.9v24.0M410.3 1287.4l17.0 17.0M410.3 1304.4l17.0 -17.0M409.7 1295.9h24.0M421.7 1283.9v24.0M413.2 1287.4l17.0 17.0M413.2 1304.4l17.0 -17.0M412.6 1295.9h24.0M424.6 1283.9v24.0M416.1 1287.4l17.0 17.0M416.1 1304.4l17.0 -17.0M415.5 1295.9h24.0M427.5 1283.9v24.0M419.0 1287.4l17.0 17.0M419.0 1304.4l17.0 -17.0M418.4 1295.9h24.0M430.4 1283.9v24.0M421.9 1287.4l17.0 17.0M421.9 1304.4l17.0 -17.0M421.3 1295.9h24.0M433.3 1283.9v24.0M424.8 1287.4l17.0 17.0M424.8 1304.4l17.0 -17.0M424.2 1295.9h24.0M436.2 1283.9v24.0M427.7 1287.4l17.0 17.0M427.7 1304.4l17.0 -17.0M427.1 1295.9h24.0M439.1 1283.9v24.0M430.6 1287.4l17.0 17.0M430.6 1304.4l17.0 -17.0M430.0 1295.9h24.0M442.0 1283.9v24.0M433.5 1287.4l17.0 17.0M433.5 1304.4l17.0 -17.0M432.9 1295.9h24.0M444.9 1283.9v24.0M436.4 1287.4l17.0 17.0M436.4 1304.4l17.0 -17.0M435.8 1295.9h24.0M447.8 1283.9v24.0M439.3 1287.4l17.0 17.0M439.3 1304.4l17.0 -17.0M438.7 1295.9h24.0M450.7 1283.9v24.0M442.2 1287.4l17.0 17.0M442.2 1304.4l17.0 -17.0M441.6 1295.9h24.0M453.6 1283.9v24.0M445.1 1287.4l17.0 17.0M445.1 1304.4l17.0 -17.0M444.5 1295.9h24.0M456.5 1283.9v24.0M448.0 1287.4l17.0 17.0M448.0 1304.4l17.0 -17.0M447.4 1295.9h24.0M459.4 1283.9v24.0M450.9 1287.4l17.0 17.0M450.9 1304.4l17.0 -17.0M450.3 1295.9h24.0M462.3 1283.9v24.0M453.8 1287.4l17.0 17.0M453.8 1304.4l17.0 -17.0M453.2 1295.9h24.0M465.2 1283.9v24.0M456.7 1287.4l17.0 17.0M456.7 1304.4l17.0 -17.0M456.1 1295.9h24.0M468.1 1283.9v24.0M459.6 1287.4l17.0 17.0M459.6 1304.4l17.0 -17.0M459.0 1295.9h24.0M471.0 1283.9v24.0M462.5 1287.4l17.0 17.0M462.5 1304.4l17.0 -17.0M461.9 1295.9h24.0M473.9 1283.9v24.0M465.4 1287.4l17.0 17.0M465.4 1304.4l17.0 -17.0M464.8 1295.9h24.0M476.8 1283.9v24.0M468.3 1287.4l17.0 17.0M468.3 1304.4l17.0 -17.0M467.7 1295.9h24.0M479.7 1283.9v24.0M471.2 1287.4l17.0 17.0M471.2 1304.4l17.0 -17.0M470.6 1295.9h24.0M482.6 1283.9v24.0M474.1 1287.4l17.0 17.0M474.1 1304.4l17.0 -17.0M473.5 1295.9h24.0M485.5 1283.9v24.0M477.0 1287.4l17.0 17.0M477.0 1304.4l17.0 -17.0M476.4 1295.9h24.0M488.4 1283.9v24.0M479.9 1287.4l17.0 17.0M479.9 1304.4l17.0 -17.0M479.3 1295.9h24.0M491.3 1283.9v24.0M482.8 1287.4l17.0 17.0M482.8 1304.4l17.0 -17.0M482.2 1295.9h24.0M494.2 1283.9v24.0M485.7 1287.4l17.0 17.0M485.7 1304.4l17.0 -17.0M485.1 1295.9h24.0M497.1 1283.9v24.0M488.6 1287.4l17.0 17.0M488.6 1304.4l17.0 -17.0M488.0 1295.9h24.0M500.0 1283.9v24.0M491.5 1287.4l17.0 17.0M491.5 1304.4l17.0 -17.0M490.9 1295.9h24.0M502.9 1283.9v24.0M494.4 1287.4l17.0 17.0M494.4 1304.4l17.0 -17.0M493.8 1295.9h24.0M505.8 1283.9v24.0M497.3 1287.4l17.0 17.0M497.3 1304.4l17.0 -17.0M496.7 1295.9h24.0M508.7 1283.9v24.0M500.2 1287.4l17.0 17.0M500.2 1304.4l17.0 -17.0M499.6 1295.9h24.0M511.6 1283.9v24.0M503.1 1287.4l17.0 17.0M503.1 1304.4l17.0 -17.0M502.5 1295.9h24.0M514.5 1283.9v24.0M506.0 1287.4l17.0 17.0M506.0 1304.4l17.0 -17.0M505.4 1295.9h24.0M517.4 1283.9v24.0M508.9 1287.4l17.0 17.0M508.9 1304.4l17.0 -17.0M508.3 1295.9h24.0M520.3 1283.9v24.0M511.8 1287.4l17.0 17.0M511.8 1304.4l17.0 -17.0M511.2 1295.9h24.0M523.2 1283.9v24.0M514.7 1287.4l17.0 17.0M514.7 1304.4l17.0 -17.0M514.1 1295.9h24.0M526.1 1283.9v24.0M517.6 1287.4l17.0 17.0M517.6 1304.4l17.0 -17.0M517.0 1295.9h24.0M529.0 1283.9v24.0M520.5 1287.4l17.0 17.0M520.5 1304.4l17.0 -17.0M519.9 1295.9h24.0M531.9 1283.9v24.0M523.4 1287.4l17.0 17.0M523.4 1304.4l17.0 -17.0M522.8 1295.9h24.0M534.8 1283.9v24.0M526.3 1287.4l17.0 17.0M526.3 1304.4l17.0 -17.0M525.7 1295.9h24.0M537.7 1283.9v24.0M529.2 1287.4l17.0 17.0M529.2 1304.4l17.0 -17.0M528.6 1295.9h24.0M540.6 1283.9v24.0M532.1 1287.4l17.0 17.0M532.1 1304.4l17.0 -17.0M531.5 1295.9h24.0M543.5 1283.9v24.0M535.0 1287.4l17.0 17.0M535.0 1304.4l17.0 -17.0M534.4 1295.9h24.0M546.4 1283.9v24.0M537.9 1287.4l17.0 17.0M537.9 1304.4l17.0 -17.0M537.3 1295.9h24.0M549.3 1283.9v24.0M540.8 1287.4l17.0 17.0M540.8 1304.4l17.0 -17.0M540.2 1295.9h24.0M552.2 1283.9v24.0M543.7 1287.4l17.0 17.0M543.7 1304.4l17.0 -17.0M543.1 1295.9h24.0M555.1 1283.9v24.0M546.6 1287.4l17.0 17.0M546.6 1304.4l17.0 -17.0M546.0 1295.9h24.0M558.0 1283.9v24.0M549.5 1287.4l17.0 17.0M549.5 1304.4l17.0 -17.0M548.9 1295.9h24.0M560.9 1283.9v24.0M552.4 1287.4l17.0 17.0M552.4 1304.4l17.0 -17.0M551.8 1295.9h24.0M563.8 1283.9v24.0M555.3 1287.4l17.0 17.0M555.3 1304.4l17.0 -17.0M554.7 1295.9h24.0M566.7 1283.9v24.0M558.2 1287.4l17.0 17.0M558.2 1304.4l17.0 -17.0M557.6 1295.9h24.0M569.6 1283.9v24.0M561.1 1287.4l17.0 17.0M561.1 1304.4l17.0 -17.0M560.5 1295.9h24.0M572.5 1283.9v24.0M564.0 1287.4l17.0 17.0M564.0 1304.4l17.0 -17.0M563.4 1295.9h24.0M575.4 1283.9v24.0M566.9 1287.4l17.0 17.0M566.9 1304.4l17.0 -17.0M566.3 1295.9h24.0M578.3 1283.9v24.0M569.8 1287.4l17.0 17.0M569.8 1304.4l17.0 -17.0M569.2 1295.9h24.0M581.2 1283.9v24.0M572.7 1287.4l17.0 17.0M572.7 1304.4l17.0 -17.0M572.1 1295.9h24.0M584.1 1283.9v24.0M575.6 1287.4l17.0 17.0M575.6 1304.4l17.0 -17.0M575.0 1295.9h24.0M587.0 1283.9v24.0M578.5 1287.4l17.0 17.0M578.5 1304.4l17.0 -17.0M577.9 1295.9h24.0M589.9 1283.9v24.0M581.4 1287.4l17.0 17.0M581.4 1304.4l17.0 -17.0M580.8 1295.9h24.0M592.8 1283.9v24.0M584.3 1287.4l17.0 17.0M584.3 1304.4l17.0 -17.0M583.7 1295.9h24.0M595.7 1283.9v24.0M587.2 1287.4l17.0 17.0M587.2 1304.4l17.0 -17.0M586.6 1295.9h24.0M598.6 1283.9v24.0M590.1 1287.4l17.0 17.0M590.1 1304.4l17.0 -17.0M589.5 1295.9h24.0M601.5 1283.9v24.0M593.0 1287.4l17.0 17.0M593.0 1304.4l17.0 -17.0M592.4 1295.9h24.0M604.4 1283.9v24.0M595.9 1287.4l17.0 17.0M595.9 1304.4l17.0 -17.0M595.3 1295.9h24.0M607.3 1283.9v24.0M598.8 1287.4l17.0 17.0M598.8 1304.4l17.0 -17.0M598.2 1295.9h24.0M610.2 1283.9v24.0M601.7 1287.4l17.0 17.0M601.7 1304.4l17.0 -17.0M601.1 1295.9h24.0M613.1 1283.9v24.0M604.6 1287.4l17.0 17.0M604.6 1304.4l17.0 -17.0M604.0 1295.9h24.0M616.0 1283.9v24.0M607.5 1287.4l17.0 17.0M607.5 1304.4l17.0 -17.0M606.9 1295.9h24.0M618.9 1283.9v24.0M610.4 1287.4l17.0 17.0M610.4 1304.4l17.0 -17.0M609.8 1295.9h24.0M621.8 1283.9v24.0M613.3 1287.4l17.0 17.0M613.3 1304.4l17.0 -17.0M612.7 1295.9h24.0M624.7 1283.9v24.0M616.2 1287.4l17.0 17.0M616.2 1304.4l17.0 -17.0M615.6 1295.9h24.0M627.6 1283.9v24.0M619.1 1287.4l17.0 17.0M619.1 1304.4l17.0 -17.0M618.5 1295.9h24.0M630.5 1283.9v24.0M622.0 1287.4l17.0 17.0M622.0 1304.4l17.0 -17.0M621.4 1295.9h24.0M633.4 1283.9v24.0M624.9 1287.4l17.0 17.0M624.9 1304.4l17.0 -17.0M624.3 1295.9h24.0M636.3 1283.9v24.0M627.8 1287.4l17.0 17.0M627.8 1304.4l17.0 -17.0M627.2 1295.9h24.0M639.2 1283.9v24.0M630.7 1287.4l17.0 17.0M630.7 1304.4l17.0 -17.0M630.1 1295.9h24.0M642.1 1283.9v24.0M633.6 1287.4l17.0 17.0M633.6 1304.4l17.0 -17.0M633.0 1295.9h24.0M645.0 1283.9v24.0M636.5 1287.4l17.0 17.0M636.5 1304.4l17.0 -17.0M635.9 1295.9h24.0M647.9 1283.9v24.0M639.4 1287.4l17.0 17.0M639.4 1304.4l17.0 -17.0M638.8 1295.9h24.0M650.8 1283.9v24.0M642.3 1287.4l17.0 17.0M642.3 1304.4l17.0 -17.0M641.7 1295.9h24.0M653.7 1283.9v24.0M645.2 1287.4l17.0 17.0M645.2 1304.4l17.0 -17.0M644.6 1295.9h24.0M656.6 1283.9v24.0M648.1 1287.4l17.0 17.0M648.1 1304.4l17.0 -17.0M647.5 1295.9h24.0M659.5 1283.9v24.0M651.0 1287.4l17.0 17.0M651.0 1304.4l17.0 -17.0M650.4 1295.9h24.0M662.4 1283.9v24.0M653.9 1287.4l17.0 17.0M653.9 1304.4l17.0 -17.0M653.3 1295.9h24.0M665.3 1283.9v24.0M656.8 1287.4l17.0 17.0M656.8 1304.4l17.0 -17.0M656.2 1295.9h24.0M668.2 1283.9v24.0M659.7 1287.4l17.0 17.0M659.7 1304.4l17.0 -17.0M659.1 1295.9h24.0M671.1 1283.9v24.0M662.6 1287.4l17.0 17.0M662.6 1304.4l17.0 -17.0M664.2 1295.7h24.0M676.2 1283.7v24.0M667.7 1287.2l17.0 17.0M667.7 1304.2l17.0 -17.0M680.3 1295.7h24.0M692.3 1283.7v24.0M683.8 1287.2l17.0 17.0M683.8 1304.2l17.0 -17.0M686.0 1295.7h24.0M698.0 1283.7v24.0M689.5 1287.2l17.0 17.0M689.5 1304.2l17.0 -17.0M691.8 1295.7h24.0M703.8 1283.7v24.0M695.3 1287.2l17.0 17.0M695.3 1304.2l17.0 -17.0M697.6 1295.7h24.0M709.6 1283.7v24.0M701.1 1287.2l17.0 17.0M701.1 1304.2l17.0 -17.0M703.4 1295.7h24.0M715.4 1283.7v24.0M706.9 1287.2l17.0 17.0M706.9 1304.2l17.0 -17.0M716.9 1295.7h24.0M728.9 1283.7v24.0M720.4 1287.2l17.0 17.0M720.4 1304.2l17.0 -17.0M733.6 1295.7h24.0M745.6 1283.7v24.0M737.1 1287.2l17.0 17.0M737.1 1304.2l17.0 -17.0M739.4 1295.7h24.0M751.4 1283.7v24.0M742.9 1287.2l17.0 17.0M742.9 1304.2l17.0 -17.0M766.3 1295.7h24.0M778.3 1283.7v24.0M769.8 1287.2l17.0 17.0M769.8 1304.2l17.0 -17.0M770.8 1295.7h24.0M782.8 1283.7v24.0M774.3 1287.2l17.0 17.0M774.3 1304.2l17.0 -17.0M776.6 1295.7h24.0M788.6 1283.7v24.0M780.1 1287.2l17.0 17.0M780.1 1304.2l17.0 -17.0M783.0 1295.7h24.0M795.0 1283.7v24.0M786.5 1287.2l17.0 17.0M786.5 1304.2l17.0 -17.0M790.1 1295.7h24.0M802.1 1283.7v24.0M793.6 1287.2l17.0 17.0M793.6 1304.2l17.0 -17.0M213.4 811.0h24.0M225.4 799.0v24.0M216.9 802.5l17.0 17.0M216.9 819.5l17.0 -17.0M214.5 810.2h24.0M226.5 798.2v24.0M218.0 801.7l17.0 17.0M218.0 818.7l17.0 -17.0M214.9 808.8h24.0M226.9 796.8v24.0M218.5 800.3l17.0 17.0M218.5 817.2l17.0 -17.0M219.5 808.8h24.0M231.5 796.8v24.0M223.0 800.3l17.0 17.0M223.0 817.3l17.0 -17.0M216.9 805.3h24.0M228.9 793.3v24.0M220.4 796.8l17.0 17.0M220.4 813.8l17.0 -17.0M220.3 803.4h24.0M232.3 791.4v24.0M223.8 794.9l17.0 17.0M223.8 811.9l17.0 -17.0M218.9 801.6h24.0M230.9 789.6v24.0M222.4 793.1l17.0 17.0M222.4 810.0l17.0 -17.0M218.5 800.5h24.0M230.5 788.5v24.0M222.0 792.0l17.0 17.0M222.0 809.0l17.0 -17.0M222.7 799.8h24.0M234.7 787.8v24.0M226.2 791.3l17.0 17.0M226.2 808.3l17.0 -17.0M225.1 799.3h24.0M237.1 787.3v24.0M228.6 790.8l17.0 17.0M228.6 807.8l17.0 -17.0M225.8 797.6h24.0M237.8 785.6v24.0M229.4 789.1l17.0 17.0M229.4 806.1l17.0 -17.0M227.6 794.7h24.0M239.6 782.7v24.0M231.1 786.2l17.0 17.0M231.1 803.2l17.0 -17.0M223.9 791.3h24.0M235.9 779.3v24.0M227.4 782.8l17.0 17.0M227.4 799.8l17.0 -17.0M224.6 788.8h24.0M236.6 776.8v24.0M228.1 780.3l17.0 17.0M228.1 797.3l17.0 -17.0M228.0 788.1h24.0M240.0 776.1v24.0M231.5 779.6l17.0 17.0M231.5 796.5l17.0 -17.0M229.5 788.7h24.0M241.5 776.7v24.0M233.0 780.3l17.0 17.0M233.0 797.2l17.0 -17.0M232.4 785.3h24.0M244.4 773.3v24.0M235.9 776.9l17.0 17.0M235.9 793.8l17.0 -17.0M234.0 784.4h24.0M246.0 772.4v24.0M237.5 775.9l17.0 17.0M237.5 792.9l17.0 -17.0M237.1 784.1h24.0M249.1 772.1v24.0M240.7 775.6l17.0 17.0M240.7 792.6l17.0 -17.0M240.2 783.2h24.0M252.2 771.2v24.0M243.7 774.7l17.0 17.0M243.7 791.7l17.0 -17.0M244.1 782.9h24.0M256.1 770.9v24.0M247.6 774.4l17.0 17.0M247.6 791.4l17.0 -17.0M245.4 780.1h24.0M257.4 768.1v24.0M248.9 771.6l17.0 17.0M248.9 788.6l17.0 -17.0M246.0 777.2h24.0M258.0 765.2v24.0M249.5 768.7l17.0 17.0M249.5 785.7l17.0 -17.0M248.3 775.8h24.0M260.3 763.8v24.0M251.8 767.3l17.0 17.0M251.8 784.3l17.0 -17.0M249.9 775.0h24.0M261.9 763.0v24.0M253.4 766.5l17.0 17.0M253.4 783.5l17.0 -17.0M253.6 774.7h24.0M265.6 762.7v24.0M257.1 766.2l17.0 17.0M257.1 783.2l17.0 -17.0M255.0 771.4h24.0M267.0 759.4v24.0M258.5 763.0l17.0 17.0M258.5 779.9l17.0 -17.0M257.3 770.8h24.0M269.3 758.8v24.0M260.9 762.4l17.0 17.0M260.9 779.3l17.0 -17.0M258.6 768.2h24.0M270.6 756.2v24.0M262.1 759.7l17.0 17.0M262.1 776.7l17.0 -17.0M259.6 765.5h24.0M271.6 753.5v24.0M263.1 757.0l17.0 17.0M263.1 774.0l17.0 -17.0M261.9 764.0h24.0M273.9 752.0v24.0M265.5 755.5l17.0 17.0M265.5 772.5l17.0 -17.0M264.6 763.4h24.0M276.6 751.4v24.0M268.1 754.9l17.0 17.0M268.1 771.9l17.0 -17.0M267.4 762.3h24.0M279.4 750.3v24.0M270.9 753.8l17.0 17.0M270.9 770.7l17.0 -17.0M269.4 760.5h24.0M281.4 748.5v24.0M273.0 752.0l17.0 17.0M273.0 768.9l17.0 -17.0M271.9 758.6h24.0M283.9 746.6v24.0M275.4 750.1l17.0 17.0M275.4 767.1l17.0 -17.0M272.9 757.3h24.0M284.9 745.3v24.0M276.4 748.8l17.0 17.0M276.4 765.8l17.0 -17.0M274.3 753.6h24.0M286.3 741.6v24.0M277.8 745.1l17.0 17.0M277.8 762.1l17.0 -17.0M276.6 753.4h24.0M288.6 741.4v24.0M280.1 744.9l17.0 17.0M280.1 761.9l17.0 -17.0M278.4 750.9h24.0M290.4 738.9v24.0M281.9 742.4l17.0 17.0M281.9 759.4l17.0 -17.0M281.4 749.4h24.0M293.4 737.4v24.0M284.9 740.9l17.0 17.0M284.9 757.9l17.0 -17.0M283.8 747.2h24.0M295.8 735.2v24.0M287.3 738.7l17.0 17.0M287.3 755.6l17.0 -17.0M284.6 744.7h24.0M296.6 732.7v24.0M288.1 736.2l17.0 17.0M288.1 753.2l17.0 -17.0M292.3 741.8h24.0M304.3 729.8v24.0M295.8 733.3l17.0 17.0M295.8 750.3l17.0 -17.0M298.2 737.1h24.0M310.2 725.1v24.0M301.7 728.6l17.0 17.0M301.7 745.6l17.0 -17.0M298.9 728.6h24.0M310.9 716.6v24.0M302.4 720.1l17.0 17.0M302.4 737.1l17.0 -17.0M300.4 725.2h24.0M312.4 713.2v24.0M303.9 716.7l17.0 17.0M303.9 733.7l17.0 -17.0M302.7 724.6h24.0M314.7 712.6v24.0M306.2 716.1l17.0 17.0M306.2 733.1l17.0 -17.0M304.2 721.9h24.0M316.2 709.9v24.0M307.7 713.5l17.0 17.0M307.7 730.4l17.0 -17.0M308.5 723.3h24.0M320.5 711.3v24.0M312.0 714.8l17.0 17.0M312.0 731.8l17.0 -17.0M309.5 719.9h24.0M321.5 707.9v24.0M313.0 711.4l17.0 17.0M313.0 728.4l17.0 -17.0M311.3 719.2h24.0M323.3 707.2v24.0M314.8 710.8l17.0 17.0M314.8 727.7l17.0 -17.0M314.1 719.3h24.0M326.1 707.3v24.0M317.6 710.8l17.0 17.0M317.6 727.7l17.0 -17.0M315.4 715.7h24.0M327.4 703.7v24.0M318.9 707.2l17.0 17.0M318.9 724.2l17.0 -17.0M318.0 715.6h24.0M330.0 703.6v24.0M321.5 707.1l17.0 17.0M321.5 724.1l17.0 -17.0M319.0 712.4h24.0M331.0 700.4v24.0M322.5 703.9l17.0 17.0M322.5 720.9l17.0 -17.0M321.9 711.6h24.0M333.9 699.6v24.0M325.4 703.1l17.0 17.0M325.4 720.1l17.0 -17.0M322.3 709.6h24.0M334.3 697.6v24.0M325.8 701.1l17.0 17.0M325.8 718.1l17.0 -17.0M248.9 747.5h24.0M260.9 735.5v24.0M252.4 739.0l17.0 17.0M252.4 756.0l17.0 -17.0M279.3 794.0h24.0M291.3 782.0v24.0M282.8 785.5l17.0 17.0M282.8 802.5l17.0 -17.0M329.1 758.0h24.0M341.1 746.0v24.0M332.6 749.5l17.0 17.0M332.6 766.5l17.0 -17.0M353.4 746.4h24.0M365.4 734.4v24.0M356.9 737.9l17.0 17.0M356.9 754.9l17.0 -17.0M370.0 760.8h24.0M382.0 748.8v24.0M373.5 752.3l17.0 17.0M373.5 769.3l17.0 -17.0M303.6 738.7h24.0M315.6 726.7v24.0M307.1 730.2l17.0 17.0M307.1 747.2l17.0 -17.0M299.2 694.4h24.0M311.2 682.4v24.0M302.7 685.9l17.0 17.0M302.7 702.9l17.0 -17.0M306.9 704.4h24.0M318.9 692.4v24.0M310.5 695.9l17.0 17.0M310.5 712.9l17.0 -17.0M220.7 781.8h24.0M232.7 769.8v24.0M224.2 773.3l17.0 17.0M224.2 790.3l17.0 -17.0M226.2 778.5h24.0M238.2 766.5v24.0M229.7 770.0l17.0 17.0M229.7 787.0l17.0 -17.0M216.2 789.6h24.0M228.2 777.6v24.0M219.7 781.1l17.0 17.0M219.7 798.0l17.0 -17.0M305.8 851.1h24.0M317.8 839.1v24.0M309.3 842.7l17.0 17.0M309.3 859.6l17.0 -17.0M304.9 847.9h24.0M316.9 835.9v24.0M308.4 839.4l17.0 17.0M308.4 856.4l17.0 -17.0M307.5 848.6h24.0M319.5 836.6v24.0M311.0 840.1l17.0 17.0M311.0 857.1l17.0 -17.0M308.6 845.9h24.0M320.6 833.9v24.0M312.2 837.5l17.0 17.0M312.2 854.4l17.0 -17.0M308.6 843.7h24.0M320.6 831.7v24.0M312.1 835.3l17.0 17.0M312.1 852.2l17.0 -17.0M311.5 843.2h24.0M323.5 831.2v24.0M315.0 834.7l17.0 17.0M315.0 851.7l17.0 -17.0M312.3 841.9h24.0M324.3 829.9v24.0M315.8 833.4l17.0 17.0M315.8 850.4l17.0 -17.0M315.4 842.6h24.0M327.4 830.6v24.0M318.9 834.1l17.0 17.0M318.9 851.1l17.0 -17.0M313.8 838.6h24.0M325.8 826.6v24.0M317.3 830.1l17.0 17.0M317.3 847.1l17.0 -17.0M319.0 841.4h24.0M331.0 829.4v24.0M322.5 832.9l17.0 17.0M322.5 849.9l17.0 -17.0M318.8 839.7h24.0M330.8 827.7v24.0M322.3 831.2l17.0 17.0M322.3 848.2l17.0 -17.0M319.4 837.4h24.0M331.4 825.4v24.0M322.9 829.0l17.0 17.0M322.9 845.9l17.0 -17.0M319.8 836.1h24.0M331.8 824.1v24.0M323.3 827.6l17.0 17.0M323.3 844.5l17.0 -17.0M323.5 836.9h24.0M335.5 824.9v24.0M327.0 828.4l17.0 17.0M327.0 845.4l17.0 -17.0M322.0 833.8h24.0M334.0 821.8v24.0M325.6 825.3l17.0 17.0M325.6 842.3l17.0 -17.0M324.8 831.4h24.0M336.8 819.4v24.0M328.3 822.9l17.0 17.0M328.3 839.9l17.0 -17.0M327.0 833.3h24.0M339.0 821.3v24.0M330.5 824.8l17.0 17.0M330.5 841.7l17.0 -17.0M327.7 830.4h24.0M339.7 818.4v24.0M331.2 822.0l17.0 17.0M331.2 838.9l17.0 -17.0M328.9 829.0h24.0M340.9 817.0v24.0M332.4 820.5l17.0 17.0M332.4 837.4l17.0 -17.0M331.7 831.8h24.0M343.7 819.8v24.0M335.2 823.3l17.0 17.0M335.2 840.2l17.0 -17.0M333.2 829.7h24.0M345.2 817.7v24.0M336.7 821.3l17.0 17.0M336.7 838.2l17.0 -17.0M335.1 829.3h24.0M347.1 817.3v24.0M338.6 820.8l17.0 17.0M338.6 837.8l17.0 -17.0M334.7 825.3h24.0M346.7 813.3v24.0M338.2 816.9l17.0 17.0M338.2 833.8l17.0 -17.0M335.7 824.1h24.0M347.7 812.1v24.0M339.2 815.6l17.0 17.0M339.2 832.6l17.0 -17.0M337.4 823.8h24.0M349.4 811.8v24.0M340.9 815.4l17.0 17.0M340.9 832.3l17.0 -17.0M340.6 823.5h24.0M352.6 811.5v24.0M344.1 815.0l17.0 17.0M344.1 832.0l17.0 -17.0M340.9 821.1h24.0M352.9 809.1v24.0M344.4 812.6l17.0 17.0M344.4 829.6l17.0 -17.0M341.2 820.4h24.0M353.2 808.4v24.0M344.7 811.9l17.0 17.0M344.7 828.8l17.0 -17.0M344.6 821.3h24.0M356.6 809.3v24.0M348.1 812.8l17.0 17.0M348.1 829.8l17.0 -17.0M345.9 817.4h24.0M357.9 805.4v24.0M349.4 808.9l17.0 17.0M349.4 825.9l17.0 -17.0M347.4 818.8h24.0M359.4 806.8v24.0M350.9 810.3l17.0 17.0M350.9 827.3l17.0 -17.0M349.8 818.4h24.0M361.8 806.4v24.0M353.3 809.9l17.0 17.0M353.3 826.8l17.0 -17.0M348.9 815.5h24.0M360.9 803.5v24.0M352.5 807.0l17.0 17.0M352.5 824.0l17.0 -17.0M352.0 816.4h24.0M364.0 804.4v24.0M355.5 807.9l17.0 17.0M355.5 824.9l17.0 -17.0M352.6 814.4h24.0M364.6 802.4v24.0M356.2 805.9l17.0 17.0M356.2 822.9l17.0 -17.0M356.5 815.2h24.0M368.5 803.2v24.0M360.0 806.7l17.0 17.0M360.0 823.7l17.0 -17.0M355.6 810.6h24.0M367.6 798.6v24.0M359.1 802.2l17.0 17.0M359.1 819.1l17.0 -17.0M357.8 812.1h24.0M369.8 800.1v24.0M361.3 803.6l17.0 17.0M361.3 820.6l17.0 -17.0M361.0 811.0h24.0M373.0 799.0v24.0M364.5 802.5l17.0 17.0M364.5 819.5l17.0 -17.0M361.1 810.9h24.0M373.1 798.9v24.0M364.7 802.4l17.0 17.0M364.7 819.4l17.0 -17.0M361.9 808.6h24.0M373.9 796.6v24.0M365.4 800.1l17.0 17.0M365.4 817.1l17.0 -17.0M364.3 808.1h24.0M376.3 796.1v24.0M367.8 799.6l17.0 17.0M367.8 816.6l17.0 -17.0M364.7 805.0h24.0M376.7 793.0v24.0M368.2 796.6l17.0 17.0M368.2 813.5l17.0 -17.0M366.7 805.0h24.0M378.7 793.0v24.0M370.2 796.5l17.0 17.0M370.2 813.4l17.0 -17.0M367.3 802.8h24.0M379.3 790.8v24.0M370.8 794.3l17.0 17.0M370.8 811.2l17.0 -17.0M370.4 804.6h24.0M382.4 792.6v24.0M373.9 796.2l17.0 17.0M373.9 813.1l17.0 -17.0M370.1 801.4h24.0M382.1 789.4v24.0M373.6 792.9l17.0 17.0M373.6 809.9l17.0 -17.0M370.5 798.6h24.0M382.5 786.6v24.0M374.0 790.1l17.0 17.0M374.0 807.1l17.0 -17.0M374.5 800.7h24.0M386.5 788.7v24.0M378.1 792.2l17.0 17.0M378.1 809.2l17.0 -17.0M375.5 799.1h24.0M387.5 787.1v24.0M379.0 790.6l17.0 17.0M379.0 807.6l17.0 -17.0M376.7 797.1h24.0M388.7 785.1v24.0M380.2 788.6l17.0 17.0M380.2 805.6l17.0 -17.0M377.5 797.2h24.0M389.5 785.2v24.0M381.0 788.7l17.0 17.0M381.0 805.7l17.0 -17.0M377.2 794.5h24.0M389.2 782.5v24.0M380.7 786.0l17.0 17.0M380.7 803.0l17.0 -17.0M381.1 795.7h24.0M393.1 783.7v24.0M384.6 787.2l17.0 17.0M384.6 804.2l17.0 -17.0M380.5 791.0h24.0M392.5 779.0v24.0M384.0 782.5l17.0 17.0M384.0 799.5l17.0 -17.0M383.8 791.6h24.0M395.8 779.6v24.0M387.3 783.1l17.0 17.0M387.3 800.1l17.0 -17.0M384.6 790.2h24.0M396.6 778.2v24.0M388.1 781.7l17.0 17.0M388.1 798.7l17.0 -17.0M385.8 789.4h24.0M397.8 777.4v24.0M389.3 780.9l17.0 17.0M389.3 797.8l17.0 -17.0M386.5 787.4h24.0M398.5 775.4v24.0M390.0 778.9l17.0 17.0M390.0 795.9l17.0 -17.0M389.2 787.3h24.0M401.2 775.3v24.0M392.7 778.8l17.0 17.0M392.7 795.8l17.0 -17.0M388.4 784.0h24.0M400.4 772.0v24.0M391.9 775.6l17.0 17.0M391.9 792.5l17.0 -17.0M389.9 783.3h24.0M401.9 771.3v24.0M393.4 774.8l17.0 17.0M393.4 791.7l17.0 -17.0M392.3 783.8h24.0M404.3 771.8v24.0M395.8 775.3l17.0 17.0M395.8 792.3l17.0 -17.0M391.2 780.6h24.0M403.2 768.6v24.0M394.7 772.1l17.0 17.0M394.7 789.1l17.0 -17.0M392.6 779.0h24.0M404.6 767.0v24.0M396.1 770.5l17.0 17.0M396.1 787.5l17.0 -17.0M395.1 778.3h24.0M407.1 766.3v24.0M398.7 769.8l17.0 17.0M398.7 786.8l17.0 -17.0M396.1 777.6h24.0M408.1 765.6v24.0M399.6 769.1l17.0 17.0M399.6 786.1l17.0 -17.0M395.5 775.1h24.0M407.5 763.1v24.0M399.0 766.6l17.0 17.0M399.0 783.6l17.0 -17.0M397.9 774.3h24.0M409.9 762.3v24.0M401.4 765.9l17.0 17.0M401.4 782.8l17.0 -17.0M398.7 771.9h24.0M410.7 759.9v24.0M402.2 763.4l17.0 17.0M402.2 780.3l17.0 -17.0M399.7 771.0h24.0M411.7 759.0v24.0M403.2 762.5l17.0 17.0M403.2 779.5l17.0 -17.0M401.9 769.8h24.0M413.9 757.8v24.0M405.4 761.4l17.0 17.0M405.4 778.3l17.0 -17.0M401.6 769.6h24.0M413.6 757.6v24.0M405.1 761.1l17.0 17.0M405.1 778.1l17.0 -17.0M401.9 765.8h24.0M413.9 753.8v24.0M405.5 757.3l17.0 17.0M405.5 774.3l17.0 -17.0M404.6 766.9h24.0M416.6 754.9v24.0M408.1 758.5l17.0 17.0M408.1 775.4l17.0 -17.0M406.2 766.1h24.0M418.2 754.1v24.0M409.7 757.6l17.0 17.0M409.7 774.6l17.0 -17.0M407.0 765.0h24.0M419.0 753.0v24.0M410.5 756.6l17.0 17.0M410.5 773.5l17.0 -17.0M409.8 764.1h24.0M421.8 752.1v24.0M413.3 755.6l17.0 17.0M413.3 772.6l17.0 -17.0M407.9 762.0h24.0M419.9 750.0v24.0M411.4 753.5l17.0 17.0M411.4 770.5l17.0 -17.0M410.5 760.5h24.0M422.5 748.5v24.0M414.0 752.0l17.0 17.0M414.0 769.0l17.0 -17.0M411.2 759.1h24.0M423.2 747.1v24.0M414.7 750.7l17.0 17.0M414.7 767.6l17.0 -17.0M413.1 757.5h24.0M425.1 745.5v24.0M416.6 749.0l17.0 17.0M416.6 766.0l17.0 -17.0M414.0 757.1h24.0M426.0 745.1v24.0M417.5 748.6l17.0 17.0M417.5 765.6l17.0 -17.0M412.4 752.9h24.0M424.4 740.9v24.0M415.9 744.4l17.0 17.0M415.9 761.4l17.0 -17.0M413.7 751.8h24.0M425.7 739.8v24.0M417.2 743.3l17.0 17.0M417.2 760.3l17.0 -17.0M418.2 753.1h24.0M430.2 741.1v24.0M421.7 744.7l17.0 17.0M421.7 761.6l17.0 -17.0M416.4 749.9h24.0M428.4 737.9v24.0M419.9 741.4l17.0 17.0M419.9 758.4l17.0 -17.0M419.9 749.2h24.0M431.9 737.2v24.0M423.4 740.7l17.0 17.0M423.4 757.7l17.0 -17.0M418.8 747.3h24.0M430.8 735.3v24.0M422.3 738.8l17.0 17.0M422.3 755.8l17.0 -17.0M419.6 745.9h24.0M431.6 733.9v24.0M423.1 737.4l17.0 17.0M423.1 754.4l17.0 -17.0M423.0 744.9h24.0M435.0 732.9v24.0M426.5 736.4l17.0 17.0M426.5 753.4l17.0 -17.0M419.5 741.7h24.0M431.5 729.7v24.0M423.0 733.2l17.0 17.0M423.0 750.1l17.0 -17.0M423.4 741.2h24.0M435.4 729.2v24.0M426.9 732.7l17.0 17.0M426.9 749.6l17.0 -17.0M425.8 740.3h24.0M437.8 728.3v24.0M429.3 731.8l17.0 17.0M429.3 748.8l17.0 -17.0M424.8 738.5h24.0M436.8 726.5v24.0M428.3 730.0l17.0 17.0M428.3 747.0l17.0 -17.0M425.2 736.8h24.0M437.2 724.8v24.0M428.8 728.3l17.0 17.0M428.8 745.3l17.0 -17.0M426.8 735.7h24.0M438.8 723.7v24.0M430.3 727.2l17.0 17.0M430.3 744.1l17.0 -17.0M429.1 735.5h24.0M441.1 723.5v24.0M432.7 727.0l17.0 17.0M432.7 744.0l17.0 -17.0M426.3 729.6h24.0M438.3 717.6v24.0M429.9 721.1l17.0 17.0M429.9 738.1l17.0 -17.0M429.1 725.1h24.0M441.1 713.1v24.0M432.6 716.6l17.0 17.0M432.6 733.6l17.0 -17.0M431.0 721.2h24.0M443.0 709.2v24.0M434.5 712.7l17.0 17.0M434.5 729.7l17.0 -17.0M436.4 720.7h24.0M448.4 708.7v24.0M439.9 712.2l17.0 17.0M439.9 729.2l17.0 -17.0M436.2 714.5h24.0M448.2 702.5v24.0M439.7 706.0l17.0 17.0M439.7 723.0l17.0 -17.0M440.0 711.9h24.0M452.0 699.9v24.0M443.5 703.4l17.0 17.0M443.5 720.3l17.0 -17.0M443.0 711.2h24.0M455.0 699.2v24.0M446.5 702.7l17.0 17.0M446.5 719.6l17.0 -17.0M447.6 710.3h24.0M459.6 698.3v24.0M451.1 701.8l17.0 17.0M451.1 718.8l17.0 -17.0M449.0 707.3h24.0M461.0 695.3v24.0M452.5 698.8l17.0 17.0M452.5 715.8l17.0 -17.0M454.3 706.3h24.0M466.3 694.3v24.0M457.9 697.9l17.0 17.0M457.9 714.8l17.0 -17.0M456.5 702.7h24.0M468.5 690.7v24.0M460.0 694.2l17.0 17.0M460.0 711.2l17.0 -17.0M460.4 705.4h24.0M472.4 693.4v24.0M464.0 697.0l17.0 17.0M464.0 713.9l17.0 -17.0M464.8 704.4h24.0M476.8 692.4v24.0M468.3 695.9l17.0 17.0M468.3 712.9l17.0 -17.0M467.2 701.5h24.0M479.2 689.5v24.0M470.7 693.0l17.0 17.0M470.7 709.9l17.0 -17.0M425.8 727.6h24.0M437.8 715.6v24.0M429.3 719.1l17.0 17.0M429.3 736.1l17.0 -17.0M425.5 735.9h24.0M437.5 723.9v24.0M429.0 727.4l17.0 17.0M429.0 744.4l17.0 -17.0M421.6 739.5h24.0M433.6 727.5v24.0M425.1 731.0l17.0 17.0M425.1 748.0l17.0 -17.0M425.5 734.2h24.0M437.5 722.2v24.0M429.0 725.8l17.0 17.0M429.0 742.7l17.0 -17.0M419.6 744.8h24.0M431.6 732.8v24.0M423.1 736.3l17.0 17.0M423.1 753.3l17.0 -17.0M414.8 739.0h24.0M426.8 727.0v24.0M418.3 730.5l17.0 17.0M418.3 747.5l17.0 -17.0M422.6 728.0h24.0M434.6 716.0v24.0M426.1 719.5l17.0 17.0M426.1 736.5l17.0 -17.0M422.2 739.8h24.0M434.2 727.8v24.0M425.8 731.3l17.0 17.0M425.8 748.3l17.0 -17.0M426.7 733.4h24.0M438.7 721.4v24.0M430.3 725.0l17.0 17.0M430.3 741.9l17.0 -17.0M427.4 736.7h24.0M439.4 724.7v24.0M431.0 728.2l17.0 17.0M431.0 745.2l17.0 -17.0M420.5 743.7h24.0M432.5 731.7v24.0M424.0 735.2l17.0 17.0M424.0 752.1l17.0 -17.0M414.2 740.4h24.0M426.2 728.4v24.0M417.7 731.9l17.0 17.0M417.7 748.9l17.0 -17.0M422.5 733.6h24.0M434.5 721.6v24.0M426.0 725.1l17.0 17.0M426.0 742.1l17.0 -17.0M425.8 734.1h24.0M437.8 722.1v24.0M429.3 725.6l17.0 17.0M429.3 742.6l17.0 -17.0M332.2 794.0h24.0M344.2 782.0v24.0M335.8 785.5l17.0 17.0M335.8 802.5l17.0 -17.0M340.0 788.5h24.0M352.0 776.5v24.0M343.5 780.0l17.0 17.0M343.5 797.0l17.0 -17.0M349.9 784.1h24.0M361.9 772.1v24.0M353.5 775.6l17.0 17.0M353.5 792.6l17.0 -17.0M356.6 796.2h24.0M368.6 784.2v24.0M360.1 787.8l17.0 17.0M360.1 804.7l17.0 -17.0M345.5 801.8h24.0M357.5 789.8v24.0M349.0 793.3l17.0 17.0M349.0 810.3l17.0 -17.0M358.8 784.1h24.0M370.8 772.1v24.0M362.3 775.6l17.0 17.0M362.3 792.6l17.0 -17.0M335.6 802.9h24.0M347.6 790.9v24.0M339.1 794.4l17.0 17.0M339.1 811.4l17.0 -17.0M463.4 698.0h24.0M475.4 686.0v24.0M467.0 689.5l17.0 17.0M467.0 706.5l17.0 -17.0M468.3 693.7h24.0M480.3 681.7v24.0M471.8 685.2l17.0 17.0M471.8 702.2l17.0 -17.0M472.4 687.9h24.0M484.4 675.9v24.0M475.9 679.4l17.0 17.0M475.9 696.4l17.0 -17.0M474.5 683.3h24.0M486.5 671.3v24.0M478.0 674.8l17.0 17.0M478.0 691.8l17.0 -17.0M480.7 683.6h24.0M492.7 671.6v24.0M484.2 675.1l17.0 17.0M484.2 692.0l17.0 -17.0M484.5 676.8h24.0M496.5 664.8v24.0M488.0 668.3l17.0 17.0M488.0 685.3l17.0 -17.0M488.1 675.6h24.0M500.1 663.6v24.0M491.6 667.2l17.0 17.0M491.6 684.1l17.0 -17.0M493.9 670.1h24.0M505.9 658.1v24.0M497.4 661.6l17.0 17.0M497.4 678.6l17.0 -17.0M600.9 327.6h24.0M612.9 315.6v24.0M604.4 319.1l17.0 17.0M604.4 336.1l17.0 -17.0M630.9 325.1h24.0M642.9 313.1v24.0M634.5 316.6l17.0 17.0M634.5 333.6l17.0 -17.0M669.7 322.6h24.0M681.7 310.6v24.0M673.2 314.1l17.0 17.0M673.2 331.1l17.0 -17.0M647.2 336.3h24.0M659.2 324.3v24.0M650.7 327.9l17.0 17.0M650.7 344.8l17.0 -17.0M658.5 350.1h24.0M670.5 338.1v24.0M662.0 341.6l17.0 17.0M662.0 358.6l17.0 -17.0M671.0 352.6h24.0M683.0 340.6v24.0M674.5 344.1l17.0 17.0M674.5 361.1l17.0 -17.0M594.7 347.6h24.0M606.7 335.6v24.0M598.2 339.1l17.0 17.0M598.2 356.1l17.0 -17.0M605.9 358.9h24.0M617.9 346.9v24.0M609.4 350.4l17.0 17.0M609.4 367.3l17.0 -17.0M554.6 367.6h24.0M566.6 355.6v24.0M558.1 359.1l17.0 17.0M558.1 376.1l17.0 -17.0M562.1 370.1h24.0M574.1 358.1v24.0M565.6 361.6l17.0 17.0M565.6 378.6l17.0 -17.0M683.5 375.1h24.0M695.5 363.1v24.0M687.0 366.6l17.0 17.0M687.0 383.6l17.0 -17.0M525.8 417.7h24.0M537.8 405.7v24.0M529.4 409.2l17.0 17.0M529.4 426.2l17.0 -17.0M549.6 406.4h24.0M561.6 394.4v24.0M553.1 397.9l17.0 17.0M553.1 414.9l17.0 -17.0M567.1 420.2h24.0M579.1 408.2v24.0M570.6 411.7l17.0 17.0M570.6 428.7l17.0 -17.0M608.4 411.4h24.0M620.4 399.4v24.0M611.9 402.9l17.0 17.0M611.9 419.9l17.0 -17.0M619.7 422.7h24.0M631.7 410.7v24.0M623.2 414.2l17.0 17.0M623.2 431.2l17.0 -17.0M699.8 414.7h24.0M711.8 402.7v24.0M703.3 406.2l17.0 17.0M703.3 423.1l17.0 -17.0M544.6 431.4h24.0M556.6 419.4v24.0M548.1 422.9l17.0 17.0M548.1 439.9l17.0 -17.0M548.4 435.2h24.0M560.4 423.2v24.0M551.9 426.7l17.0 17.0M551.9 443.7l17.0 -17.0M547.1 433.9h24.0M559.1 421.9v24.0M550.6 425.4l17.0 17.0M550.6 442.4l17.0 -17.0M480.8 472.7h24.0M492.8 460.7v24.0M484.3 464.2l17.0 17.0M484.3 481.2l17.0 -17.0M489.6 470.2h24.0M501.6 458.2v24.0M493.1 461.7l17.0 17.0M493.1 478.7l17.0 -17.0M545.9 462.7h24.0M557.9 450.7v24.0M549.4 454.2l17.0 17.0M549.4 471.2l17.0 -17.0M555.9 461.5h24.0M567.9 449.5v24.0M559.4 453.0l17.0 17.0M559.4 469.9l17.0 -17.0M548.4 467.7h24.0M560.4 455.7v24.0M551.9 459.2l17.0 17.0M551.9 476.2l17.0 -17.0M619.7 467.7h24.0M631.7 455.7v24.0M623.2 459.2l17.0 17.0M623.2 476.2l17.0 -17.0M628.4 461.5h24.0M640.4 449.5v24.0M632.0 453.0l17.0 17.0M632.0 469.9l17.0 -17.0M697.3 457.7h24.0M709.3 445.7v24.0M700.8 449.2l17.0 17.0M700.8 466.2l17.0 -17.0M706.0 459.0h24.0M718.0 447.0v24.0M709.5 450.5l17.0 17.0M709.5 467.4l17.0 -17.0M547.1 481.5h24.0M559.1 469.5v24.0M550.6 473.0l17.0 17.0M550.6 490.0l17.0 -17.0M562.1 484.0h24.0M574.1 472.0v24.0M565.6 475.5l17.0 17.0M565.6 492.5l17.0 -17.0M697.3 477.7h24.0M709.3 465.7v24.0M700.8 469.2l17.0 17.0M700.8 486.2l17.0 -17.0M634.7 489.0h24.0M646.7 477.0v24.0M638.2 480.5l17.0 17.0M638.2 497.5l17.0 -17.0M703.5 492.7h24.0M715.5 480.7v24.0M707.0 484.3l17.0 17.0M707.0 501.2l17.0 -17.0M728.5 495.2h24.0M740.5 483.2v24.0M732.1 486.8l17.0 17.0M732.1 503.7l17.0 -17.0M534.6 506.5h24.0M546.6 494.5v24.0M538.1 498.0l17.0 17.0M538.1 515.0l17.0 -17.0M540.9 507.8h24.0M552.9 495.8v24.0M544.4 499.3l17.0 17.0M544.4 516.2l17.0 -17.0M550.9 500.3h24.0M562.9 488.3v24.0M554.4 491.8l17.0 17.0M554.4 508.7l17.0 -17.0M568.4 512.8h24.0M580.4 500.8v24.0M571.9 504.3l17.0 17.0M571.9 521.2l17.0 -17.0M569.6 516.5h24.0M581.6 504.5v24.0M573.1 508.0l17.0 17.0M573.1 525.0l17.0 -17.0M630.9 509.0h24.0M642.9 497.0v24.0M634.5 500.5l17.0 17.0M634.5 517.5l17.0 -17.0M708.5 517.8h24.0M720.5 505.8v24.0M712.0 509.3l17.0 17.0M712.0 526.3l17.0 -17.0M726.0 520.3h24.0M738.0 508.3v24.0M729.6 511.8l17.0 17.0M729.6 528.8l17.0 -17.0M733.0 521.5h24.0M745.0 509.5v24.0M736.6 513.0l17.0 17.0M736.6 530.0l17.0 -17.0M448.3 519.8h24.0M460.3 507.8v24.0M451.8 511.3l17.0 17.0M451.8 528.3l17.0 -17.0M424.5 534.0h24.0M436.5 522.0v24.0M428.0 525.5l17.0 17.0M428.0 542.5l17.0 -17.0M534.6 541.5h24.0M546.6 529.5v24.0M538.1 533.1l17.0 17.0M538.1 550.0l17.0 -17.0M525.8 549.0h24.0M537.8 537.0v24.0M529.4 540.6l17.0 17.0M529.4 557.5l17.0 -17.0M528.3 550.3h24.0M540.3 538.3v24.0M531.9 541.8l17.0 17.0M531.9 558.8l17.0 -17.0M450.8 555.3h24.0M462.8 543.3v24.0M454.3 546.8l17.0 17.0M454.3 563.8l17.0 -17.0M583.4 550.3h24.0M595.4 538.3v24.0M586.9 541.8l17.0 17.0M586.9 558.8l17.0 -17.0M567.1 559.1h24.0M579.1 547.1v24.0M570.6 550.6l17.0 17.0M570.6 567.5l17.0 -17.0M647.2 550.3h24.0M659.2 538.3v24.0M650.7 541.8l17.0 17.0M650.7 558.8l17.0 -17.0M672.2 541.5h24.0M684.2 529.5v24.0M675.7 533.1l17.0 17.0M675.7 550.0l17.0 -17.0M681.0 550.3h24.0M693.0 538.3v24.0M684.5 541.8l17.0 17.0M684.5 558.8l17.0 -17.0M420.7 566.6h24.0M432.7 554.6v24.0M424.2 558.1l17.0 17.0M424.2 575.1l17.0 -17.0M453.3 580.3h24.0M465.3 568.3v24.0M456.8 571.8l17.0 17.0M456.8 588.8l17.0 -17.0M492.1 586.6h24.0M504.1 574.6v24.0M495.6 578.1l17.0 17.0M495.6 595.1l17.0 -17.0M494.6 586.6h24.0M506.6 574.6v24.0M498.1 578.1l17.0 17.0M498.1 595.1l17.0 -17.0M600.9 575.3h24.0M612.9 563.3v24.0M604.4 566.8l17.0 17.0M604.4 583.8l17.0 -17.0M537.1 594.1h24.0M549.1 582.1v24.0M540.6 585.6l17.0 17.0M540.6 602.6l17.0 -17.0M390.7 597.8h24.0M402.7 585.8v24.0M394.2 589.4l17.0 17.0M394.2 606.3l17.0 -17.0M613.4 590.3h24.0M625.4 578.3v24.0M616.9 581.9l17.0 17.0M616.9 598.8l17.0 -17.0M457.0 607.9h24.0M469.0 595.9v24.0M460.5 599.4l17.0 17.0M460.5 616.3l17.0 -17.0M555.9 605.4h24.0M567.9 593.4v24.0M559.4 596.9l17.0 17.0M559.4 613.8l17.0 -17.0M578.4 605.4h24.0M590.4 593.4v24.0M581.9 596.9l17.0 17.0M581.9 613.8l17.0 -17.0M656.0 597.8h24.0M668.0 585.8v24.0M659.5 589.4l17.0 17.0M659.5 606.3l17.0 -17.0M678.5 596.6h24.0M690.5 584.6v24.0M682.0 588.1l17.0 17.0M682.0 605.1l17.0 -17.0M688.5 594.1h24.0M700.5 582.1v24.0M692.0 585.6l17.0 17.0M692.0 602.6l17.0 -17.0M703.5 592.8h24.0M715.5 580.8v24.0M707.0 584.4l17.0 17.0M707.0 601.3l17.0 -17.0M716.0 591.6h24.0M728.0 579.6v24.0M719.5 583.1l17.0 17.0M719.5 600.1l17.0 -17.0M718.5 600.4h24.0M730.5 588.4v24.0M722.0 591.9l17.0 17.0M722.0 608.8l17.0 -17.0M739.3 317.6h24.0M751.3 305.6v24.0M742.8 309.1l17.0 17.0M742.8 326.1l17.0 -17.0M741.8 337.6h24.0M753.8 325.6v24.0M745.3 329.1l17.0 17.0M745.3 346.1l17.0 -17.0M753.0 400.2h24.0M765.0 388.2v24.0M756.5 391.7l17.0 17.0M756.5 408.6l17.0 -17.0M803.1 411.4h24.0M815.1 399.4v24.0M806.6 402.9l17.0 17.0M806.6 419.9l17.0 -17.0M860.6 381.4h24.0M872.6 369.4v24.0M864.1 372.9l17.0 17.0M864.1 389.9l17.0 -17.0M794.3 441.4h24.0M806.3 429.4v24.0M797.8 433.0l17.0 17.0M797.8 449.9l17.0 -17.0M772.3 470.2h24.0M784.3 458.2v24.0M775.8 461.7l17.0 17.0M775.8 478.7l17.0 -17.0M735.5 495.2h24.0M747.5 483.2v24.0M739.0 486.8l17.0 17.0M739.0 503.7l17.0 -17.0M766.8 502.8h24.0M778.8 490.8v24.0M770.3 494.3l17.0 17.0M770.3 511.2l17.0 -17.0M771.8 525.3h24.0M783.8 513.3v24.0M775.3 516.8l17.0 17.0M775.3 533.8l17.0 -17.0M778.0 540.3h24.0M790.0 528.3v24.0M781.6 531.8l17.0 17.0M781.6 548.8l17.0 -17.0M733.0 521.5h24.0M745.0 509.5v24.0M736.5 513.0l17.0 17.0M736.5 530.0l17.0 -17.0M766.8 566.6h24.0M778.8 554.6v24.0M770.3 558.1l17.0 17.0M770.3 575.1l17.0 -17.0M800.1 575.3h24.0M812.1 563.3v24.0M803.6 566.8l17.0 17.0M803.6 583.8l17.0 -17.0M1005.3 527.8h24.0M1017.3 515.8v24.0M1008.8 519.3l17.0 17.0M1008.8 536.3l17.0 -17.0M438.3 627.0h24.0M450.3 615.0v24.0M441.8 618.5l17.0 17.0M441.8 635.5l17.0 -17.0M450.8 624.5h24.0M462.8 612.5v24.0M454.3 616.0l17.0 17.0M454.3 633.0l17.0 -17.0M458.3 619.5h24.0M470.3 607.5v24.0M461.8 611.0l17.0 17.0M461.8 628.0l17.0 -17.0M463.3 614.5h24.0M475.3 602.5v24.0M466.8 606.0l17.0 17.0M466.8 623.0l17.0 -17.0M453.3 637.0h24.0M465.3 625.0v24.0M456.8 628.5l17.0 17.0M456.8 645.5l17.0 -17.0M460.8 642.0h24.0M472.8 630.0v24.0M464.3 633.5l17.0 17.0M464.3 650.5l17.0 -17.0M445.8 649.5h24.0M457.8 637.5v24.0M449.3 641.1l17.0 17.0M449.3 658.0l17.0 -17.0M458.3 657.0h24.0M470.3 645.0v24.0M461.8 648.6l17.0 17.0M461.8 665.5l17.0 -17.0M475.8 655.8h24.0M487.8 643.8v24.0M479.3 647.3l17.0 17.0M479.3 664.3l17.0 -17.0M498.3 642.0h24.0M510.3 630.0v24.0M501.8 633.5l17.0 17.0M501.8 650.5l17.0 -17.0M508.3 647.0h24.0M520.3 635.0v24.0M511.8 638.5l17.0 17.0M511.8 655.5l17.0 -17.0M513.3 652.0h24.0M525.3 640.0v24.0M516.8 643.6l17.0 17.0M516.8 660.5l17.0 -17.0M520.8 644.5h24.0M532.8 632.5v24.0M524.3 636.0l17.0 17.0M524.3 653.0l17.0 -17.0M528.3 632.0h24.0M540.3 620.0v24.0M531.9 623.5l17.0 17.0M531.9 640.5l17.0 -17.0M523.3 639.5h24.0M535.3 627.5v24.0M526.9 631.0l17.0 17.0M526.9 648.0l17.0 -17.0M575.9 624.5h24.0M587.9 612.5v24.0M579.4 616.0l17.0 17.0M579.4 633.0l17.0 -17.0M570.9 617.0h24.0M582.9 605.0v24.0M574.4 608.5l17.0 17.0M574.4 625.5l17.0 -17.0M588.4 614.5h24.0M600.4 602.5v24.0M591.9 606.0l17.0 17.0M591.9 623.0l17.0 -17.0M633.4 624.5h24.0M645.4 612.5v24.0M637.0 616.0l17.0 17.0M637.0 633.0l17.0 -17.0M638.5 629.5h24.0M650.5 617.5v24.0M642.0 621.0l17.0 17.0M642.0 638.0l17.0 -17.0M646.0 622.0h24.0M658.0 610.0v24.0M649.5 613.5l17.0 17.0M649.5 630.5l17.0 -17.0M658.5 632.0h24.0M670.5 620.0v24.0M662.0 623.5l17.0 17.0M662.0 640.5l17.0 -17.0M666.0 639.5h24.0M678.0 627.5v24.0M669.5 631.0l17.0 17.0M669.5 648.0l17.0 -17.0M663.5 619.5h24.0M675.5 607.5v24.0M667.0 611.0l17.0 17.0M667.0 628.0l17.0 -17.0M703.5 622.0h24.0M715.5 610.0v24.0M707.0 613.5l17.0 17.0M707.0 630.5l17.0 -17.0M630.9 612.0h24.0M642.9 600.0v24.0M634.5 603.5l17.0 17.0M634.5 620.5l17.0 -17.0M423.2 665.8h24.0M435.2 653.8v24.0M426.8 657.3l17.0 17.0M426.8 674.3l17.0 -17.0M408.2 685.8h24.0M420.2 673.8v24.0M411.7 677.3l17.0 17.0M411.7 694.3l17.0 -17.0M425.7 687.1h24.0M437.7 675.1v24.0M429.3 678.6l17.0 17.0M429.3 695.6l17.0 -17.0M490.8 672.1h24.0M502.8 660.1v24.0M494.3 663.6l17.0 17.0M494.3 680.5l17.0 -17.0M562.1 677.6h24.0M574.1 665.6v24.0M565.6 669.1l17.0 17.0M565.6 686.1l17.0 -17.0M564.6 690.8h24.0M576.6 678.8v24.0M568.1 682.3l17.0 17.0M568.1 699.3l17.0 -17.0M642.2 680.1h24.0M654.2 668.1v24.0M645.7 671.6l17.0 17.0M645.7 688.6l17.0 -17.0M610.9 691.6h24.0M622.9 679.6v24.0M614.4 683.1l17.0 17.0M614.4 700.1l17.0 -17.0M518.3 694.6h24.0M530.3 682.6v24.0M521.8 686.1l17.0 17.0M521.8 703.1l17.0 -17.0M525.8 700.8h24.0M537.8 688.8v24.0M529.4 692.4l17.0 17.0M529.4 709.3l17.0 -17.0M500.8 707.1h24.0M512.8 695.1v24.0M504.3 698.6l17.0 17.0M504.3 715.6l17.0 -17.0M498.3 722.1h24.0M510.3 710.1v24.0M501.8 713.6l17.0 17.0M501.8 730.6l17.0 -17.0M479.5 728.4h24.0M491.5 716.4v24.0M483.1 719.9l17.0 17.0M483.1 736.9l17.0 -17.0M543.4 709.6h24.0M555.4 697.6v24.0M546.9 701.1l17.0 17.0M546.9 718.1l17.0 -17.0M553.4 714.6h24.0M565.4 702.6v24.0M556.9 706.1l17.0 17.0M556.9 723.1l17.0 -17.0M548.4 712.1h24.0M560.4 700.1v24.0M551.9 703.6l17.0 17.0M551.9 720.6l17.0 -17.0M578.4 709.6h24.0M590.4 697.6v24.0M581.9 701.1l17.0 17.0M581.9 718.1l17.0 -17.0M588.4 710.8h24.0M600.4 698.8v24.0M591.9 702.4l17.0 17.0M591.9 719.3l17.0 -17.0M583.4 717.1h24.0M595.4 705.1v24.0M586.9 708.6l17.0 17.0M586.9 725.6l17.0 -17.0M624.7 721.6h24.0M636.7 709.6v24.0M628.2 713.1l17.0 17.0M628.2 730.1l17.0 -17.0M667.2 727.1h24.0M679.2 715.1v24.0M670.7 718.6l17.0 17.0M670.7 735.6l17.0 -17.0M708.5 727.1h24.0M720.5 715.1v24.0M712.0 718.6l17.0 17.0M712.0 735.6l17.0 -17.0M532.1 732.1h24.0M544.1 720.1v24.0M535.6 723.6l17.0 17.0M535.6 740.6l17.0 -17.0M519.6 742.1h24.0M531.6 730.1v24.0M523.1 733.6l17.0 17.0M523.1 750.6l17.0 -17.0M462.0 743.4h24.0M474.0 731.4v24.0M465.5 734.9l17.0 17.0M465.5 751.9l17.0 -17.0M676.0 747.1h24.0M688.0 735.1v24.0M679.5 738.6l17.0 17.0M679.5 755.6l17.0 -17.0M494.6 760.9h24.0M506.6 748.9v24.0M498.1 752.4l17.0 17.0M498.1 769.4l17.0 -17.0M298.1 687.1h24.0M310.1 675.1v24.0M301.6 678.6l17.0 17.0M301.6 695.6l17.0 -17.0M305.6 704.6h24.0M317.6 692.6v24.0M309.1 696.1l17.0 17.0M309.1 713.1l17.0 -17.0M323.1 709.6h24.0M335.1 697.6v24.0M326.6 701.1l17.0 17.0M326.6 718.1l17.0 -17.0M303.1 737.1h24.0M315.1 725.1v24.0M306.6 728.6l17.0 17.0M306.6 745.6l17.0 -17.0M249.3 747.1h24.0M261.3 735.1v24.0M252.8 738.6l17.0 17.0M252.8 755.6l17.0 -17.0M353.2 747.1h24.0M365.2 735.1v24.0M356.7 738.6l17.0 17.0M356.7 755.6l17.0 -17.0M328.1 758.4h24.0M340.1 746.4v24.0M331.7 749.9l17.0 17.0M331.7 766.9l17.0 -17.0M370.7 760.9h24.0M382.7 748.9v24.0M374.2 752.4l17.0 17.0M374.2 769.4l17.0 -17.0M284.3 748.4h24.0M296.3 736.4v24.0M287.9 739.9l17.0 17.0M287.9 756.9l17.0 -17.0M279.3 793.4h24.0M291.3 781.4v24.0M282.9 784.9l17.0 17.0M282.9 801.9l17.0 -17.0M448.3 767.2h24.0M460.3 755.2v24.0M451.8 758.7l17.0 17.0M451.8 775.6l17.0 -17.0M428.2 782.2h24.0M440.2 770.2v24.0M431.8 773.7l17.0 17.0M431.8 790.7l17.0 -17.0M447.0 784.7h24.0M459.0 772.7v24.0M450.5 776.2l17.0 17.0M450.5 793.2l17.0 -17.0M462.0 778.4h24.0M474.0 766.4v24.0M465.5 769.9l17.0 17.0M465.5 786.9l17.0 -17.0M412.0 804.7h24.0M424.0 792.7v24.0M415.5 796.2l17.0 17.0M415.5 813.2l17.0 -17.0M403.2 813.5h24.0M415.2 801.5v24.0M406.7 805.0l17.0 17.0M406.7 821.9l17.0 -17.0M434.5 816.0h24.0M446.5 804.0v24.0M438.0 807.5l17.0 17.0M438.0 824.4l17.0 -17.0M403.2 833.5h24.0M415.2 821.5v24.0M406.7 825.0l17.0 17.0M406.7 842.0l17.0 -17.0M425.7 834.7h24.0M437.7 822.7v24.0M429.3 826.2l17.0 17.0M429.3 843.2l17.0 -17.0M440.8 833.5h24.0M452.8 821.5v24.0M444.3 825.0l17.0 17.0M444.3 842.0l17.0 -17.0M457.0 848.5h24.0M469.0 836.5v24.0M460.5 840.0l17.0 17.0M460.5 857.0l17.0 -17.0M480.8 843.5h24.0M492.8 831.5v24.0M484.3 835.0l17.0 17.0M484.3 852.0l17.0 -17.0M505.8 841.0h24.0M517.8 829.0v24.0M509.3 832.5l17.0 17.0M509.3 849.5l17.0 -17.0M531.3 827.2h24.0M543.3 815.2v24.0M534.9 818.7l17.0 17.0M534.9 835.7l17.0 -17.0M405.7 847.2h24.0M417.7 835.2v24.0M409.2 838.8l17.0 17.0M409.2 855.7l17.0 -17.0M414.5 859.7h24.0M426.5 847.7v24.0M418.0 851.3l17.0 17.0M418.0 868.2l17.0 -17.0M437.0 866.0h24.0M449.0 854.0v24.0M440.5 857.5l17.0 17.0M440.5 874.5l17.0 -17.0M403.2 873.5h24.0M415.2 861.5v24.0M406.7 865.0l17.0 17.0M406.7 882.0l17.0 -17.0M410.7 862.3h24.0M422.7 850.3v24.0M414.2 853.8l17.0 17.0M414.2 870.7l17.0 -17.0M681.0 847.2h24.0M693.0 835.2v24.0M684.5 838.8l17.0 17.0M684.5 855.7l17.0 -17.0M652.7 863.0h24.0M664.7 851.0v24.0M656.2 854.5l17.0 17.0M656.2 871.5l17.0 -17.0M439.5 888.5h24.0M451.5 876.5v24.0M443.0 880.0l17.0 17.0M443.0 897.0l17.0 -17.0M423.2 894.8h24.0M435.2 882.8v24.0M426.8 886.3l17.0 17.0M426.8 903.3l17.0 -17.0M413.2 889.8h24.0M425.2 877.8v24.0M416.7 881.3l17.0 17.0M416.7 898.3l17.0 -17.0M405.7 899.8h24.0M417.7 887.8v24.0M409.2 891.3l17.0 17.0M409.2 908.3l17.0 -17.0M428.2 899.8h24.0M440.2 887.8v24.0M431.8 891.3l17.0 17.0M431.8 908.3l17.0 -17.0M393.2 897.3h24.0M405.2 885.3v24.0M396.7 888.8l17.0 17.0M396.7 905.8l17.0 -17.0M373.2 893.5h24.0M385.2 881.5v24.0M376.7 885.0l17.0 17.0M376.7 902.0l17.0 -17.0M355.7 896.0h24.0M367.7 884.0v24.0M359.2 887.5l17.0 17.0M359.2 904.5l17.0 -17.0M339.4 903.5h24.0M351.4 891.5v24.0M342.9 895.1l17.0 17.0M342.9 912.0l17.0 -17.0M388.2 909.8h24.0M400.2 897.8v24.0M391.7 901.3l17.0 17.0M391.7 918.3l17.0 -17.0M399.5 916.1h24.0M411.5 904.1v24.0M403.0 907.6l17.0 17.0M403.0 924.5l17.0 -17.0M313.1 913.6h24.0M325.1 901.6v24.0M316.6 905.1l17.0 17.0M316.6 922.0l17.0 -17.0M328.1 929.8h24.0M340.1 917.8v24.0M331.7 921.3l17.0 17.0M331.7 938.3l17.0 -17.0M386.9 929.8h24.0M398.9 917.8v24.0M390.5 921.3l17.0 17.0M390.5 938.3l17.0 -17.0M405.7 926.1h24.0M417.7 914.1v24.0M409.2 917.6l17.0 17.0M409.2 934.5l17.0 -17.0M432.0 934.8h24.0M444.0 922.8v24.0M435.5 926.3l17.0 17.0M435.5 943.3l17.0 -17.0M420.7 942.3h24.0M432.7 930.3v24.0M424.2 933.8l17.0 17.0M424.2 950.8l17.0 -17.0M224.3 852.2h24.0M236.3 840.2v24.0M227.8 843.8l17.0 17.0M227.8 860.7l17.0 -17.0M225.5 856.0h24.0M237.5 844.0v24.0M229.1 847.5l17.0 17.0M229.1 864.5l17.0 -17.0M225.5 872.3h24.0M237.5 860.3v24.0M229.1 863.8l17.0 17.0M229.1 880.7l17.0 -17.0M237.5 902.3h24.0M249.5 890.3v24.0M241.1 893.8l17.0 17.0M241.1 910.8l17.0 -17.0M234.3 928.6h24.0M246.3 916.6v24.0M237.8 920.1l17.0 17.0M237.8 937.1l17.0 -17.0M245.6 937.3h24.0M257.6 925.3v24.0M249.1 928.8l17.0 17.0M249.1 945.8l17.0 -17.0M220.5 943.6h24.0M232.5 931.6v24.0M224.0 935.1l17.0 17.0M224.0 952.1l17.0 -17.0M259.3 948.6h24.0M271.3 936.6v24.0M262.8 940.1l17.0 17.0M262.8 957.1l17.0 -17.0M268.1 959.8h24.0M280.1 947.8v24.0M271.6 951.4l17.0 17.0M271.6 968.3l17.0 -17.0M305.6 964.9h24.0M317.6 952.9v24.0M309.1 956.4l17.0 17.0M309.1 973.3l17.0 -17.0M324.4 967.4h24.0M336.4 955.4v24.0M327.9 958.9l17.0 17.0M327.9 975.8l17.0 -17.0M340.7 957.3h24.0M352.7 945.3v24.0M344.2 948.9l17.0 17.0M344.2 965.8l17.0 -17.0M353.2 949.8h24.0M365.2 937.8v24.0M356.7 941.4l17.0 17.0M356.7 958.3l17.0 -17.0M364.4 946.1h24.0M376.4 934.1v24.0M367.9 937.6l17.0 17.0M367.9 954.6l17.0 -17.0M379.4 951.1h24.0M391.4 939.1v24.0M383.0 942.6l17.0 17.0M383.0 959.6l17.0 -17.0M408.2 954.8h24.0M420.2 942.8v24.0M411.7 946.4l17.0 17.0M411.7 963.3l17.0 -17.0M418.2 964.9h24.0M430.2 952.9v24.0M421.7 956.4l17.0 17.0M421.7 973.3l17.0 -17.0M390.7 967.4h24.0M402.7 955.4v24.0M394.2 958.9l17.0 17.0M394.2 975.8l17.0 -17.0M333.1 797.2h24.0M345.1 785.2v24.0M336.7 788.7l17.0 17.0M336.7 805.7l17.0 -17.0M340.7 787.2h24.0M352.7 775.2v24.0M344.2 778.7l17.0 17.0M344.2 795.7l17.0 -17.0M350.7 792.2h24.0M362.7 780.2v24.0M354.2 783.7l17.0 17.0M354.2 800.7l17.0 -17.0M353.2 784.7h24.0M365.2 772.7v24.0M356.7 776.2l17.0 17.0M356.7 793.2l17.0 -17.0M220.5 784.7h24.0M232.5 772.7v24.0M224.0 776.2l17.0 17.0M224.0 793.2l17.0 -17.0M228.0 787.2h24.0M240.0 775.2v24.0M231.6 778.7l17.0 17.0M231.6 795.7l17.0 -17.0M235.5 789.7h24.0M247.5 777.7v24.0M239.1 781.2l17.0 17.0M239.1 798.2l17.0 -17.0M223.0 792.2h24.0M235.0 780.2v24.0M226.5 783.7l17.0 17.0M226.5 800.7l17.0 -17.0M747.5 735.9h24.0M759.5 723.9v24.0M751.0 727.4l17.0 17.0M751.0 744.4l17.0 -17.0M220.5 945.0h24.0M232.5 933.0v24.0M224.0 936.5l17.0 17.0M224.0 953.5l17.0 -17.0M245.6 942.5h24.0M257.6 930.5v24.0M249.1 934.0l17.0 17.0M249.1 951.0l17.0 -17.0M259.3 950.0h24.0M271.3 938.0v24.0M262.8 941.5l17.0 17.0M262.8 958.5l17.0 -17.0M268.1 960.0h24.0M280.1 948.0v24.0M271.6 951.5l17.0 17.0M271.6 968.5l17.0 -17.0M305.6 966.3h24.0M317.6 954.3v24.0M309.1 957.8l17.0 17.0M309.1 974.8l17.0 -17.0M324.4 967.5h24.0M336.4 955.5v24.0M327.9 959.0l17.0 17.0M327.9 976.0l17.0 -17.0M330.6 963.8h24.0M342.6 951.8v24.0M334.2 955.3l17.0 17.0M334.2 972.3l17.0 -17.0M341.9 957.5h24.0M353.9 945.5v24.0M345.4 949.0l17.0 17.0M345.4 966.0l17.0 -17.0M353.2 951.3h24.0M365.2 939.3v24.0M356.7 942.8l17.0 17.0M356.7 959.7l17.0 -17.0M364.4 947.5h24.0M376.4 935.5v24.0M367.9 939.0l17.0 17.0M367.9 956.0l17.0 -17.0M379.4 951.3h24.0M391.4 939.3v24.0M383.0 942.8l17.0 17.0M383.0 959.7l17.0 -17.0M408.2 955.0h24.0M420.2 943.0v24.0M411.7 946.5l17.0 17.0M411.7 963.5l17.0 -17.0M420.7 945.0h24.0M432.7 933.0v24.0M424.2 936.5l17.0 17.0M424.2 953.5l17.0 -17.0M389.5 968.0h24.0M401.5 956.0v24.0M393.0 959.5l17.0 17.0M393.0 976.5l17.0 -17.0M418.2 966.3h24.0M430.2 954.3v24.0M421.7 957.8l17.0 17.0M421.7 974.8l17.0 -17.0M405.7 978.8h24.0M417.7 966.8v24.0M409.2 970.3l17.0 17.0M409.2 987.3l17.0 -17.0M410.7 987.5h24.0M422.7 975.5v24.0M414.2 979.1l17.0 17.0M414.2 996.0l17.0 -17.0M400.7 992.6h24.0M412.7 980.6v24.0M404.2 984.1l17.0 17.0M404.2 1001.0l17.0 -17.0M392.0 1000.1h24.0M404.0 988.1v24.0M395.5 991.6l17.0 17.0M395.5 1008.5l17.0 -17.0M385.7 1002.6h24.0M397.7 990.6v24.0M389.2 994.1l17.0 17.0M389.2 1011.0l17.0 -17.0M374.4 1009.6h24.0M386.4 997.6v24.0M378.0 1001.1l17.0 17.0M378.0 1018.1l17.0 -17.0M380.7 1017.6h24.0M392.7 1005.6v24.0M384.2 1009.1l17.0 17.0M384.2 1026.1l17.0 -17.0M388.2 1032.6h24.0M400.2 1020.6v24.0M391.7 1024.1l17.0 17.0M391.7 1041.1l17.0 -17.0M385.7 1040.1h24.0M397.7 1028.1v24.0M389.2 1031.6l17.0 17.0M389.2 1048.6l17.0 -17.0M370.7 1043.9h24.0M382.7 1031.9v24.0M374.2 1035.4l17.0 17.0M374.2 1052.3l17.0 -17.0M375.7 1047.6h24.0M387.7 1035.6v24.0M379.2 1039.1l17.0 17.0M379.2 1056.1l17.0 -17.0M380.7 1050.1h24.0M392.7 1038.1v24.0M384.2 1041.6l17.0 17.0M384.2 1058.6l17.0 -17.0M373.2 1055.1h24.0M385.2 1043.1v24.0M376.7 1046.6l17.0 17.0M376.7 1063.6l17.0 -17.0M385.7 1052.6h24.0M397.7 1040.6v24.0M389.2 1044.1l17.0 17.0M389.2 1061.1l17.0 -17.0M378.2 1045.1h24.0M390.2 1033.1v24.0M381.7 1036.6l17.0 17.0M381.7 1053.6l17.0 -17.0M317.6 1034.6h24.0M329.6 1022.6v24.0M321.1 1026.1l17.0 17.0M321.1 1043.1l17.0 -17.0M362.4 1087.6h24.0M374.4 1075.6v24.0M365.9 1079.2l17.0 17.0M365.9 1096.1l17.0 -17.0M653.5 996.3h24.0M665.5 984.3v24.0M657.0 987.8l17.0 17.0M657.0 1004.8l17.0 -17.0M641.2 607.9h24.0M653.2 595.9v24.0M644.7 599.4l17.0 17.0M644.7 616.3l17.0 -17.0M636.3 599.5h24.0M648.3 587.5v24.0M639.8 591.0l17.0 17.0M639.8 608.0l17.0 -17.0M629.4 599.1h24.0M641.4 587.1v24.0M632.9 590.6l17.0 17.0M632.9 607.5l17.0 -17.0M626.3 608.2h24.0M638.3 596.2v24.0M629.8 599.7l17.0 17.0M629.8 616.7l17.0 -17.0M638.0 605.6h24.0M650.0 593.6v24.0M641.6 597.1l17.0 17.0M641.6 614.1l17.0 -17.0M643.1 608.1h24.0M655.1 596.1v24.0M646.6 599.6l17.0 17.0M646.6 616.6l17.0 -17.0M638.1 605.2h24.0M650.1 593.2v24.0M641.6 596.7l17.0 17.0M641.6 613.7l17.0 -17.0M638.6 606.0h24.0M650.6 594.0v24.0M642.1 597.5l17.0 17.0M642.1 614.4l17.0 -17.0M637.7 605.8h24.0M649.7 593.8v24.0M641.2 597.3l17.0 17.0M641.2 614.3l17.0 -17.0M627.0 605.7h24.0M639.0 593.7v24.0M630.5 597.2l17.0 17.0M630.5 614.2l17.0 -17.0M633.8 606.6h24.0M645.8 594.6v24.0M637.3 598.1l17.0 17.0M637.3 615.1l17.0 -17.0M623.8 600.8h24.0M635.8 588.8v24.0M627.4 592.3l17.0 17.0M627.4 609.3l17.0 -17.0M672.8 596.2h24.0M684.8 584.2v24.0M676.3 587.7l17.0 17.0M676.3 604.7l17.0 -17.0M692.1 595.2h24.0M704.1 583.2v24.0M695.6 586.8l17.0 17.0M695.6 603.7l17.0 -17.0M680.1 596.6h24.0M692.1 584.6v24.0M683.6 588.1l17.0 17.0M683.6 605.1l17.0 -17.0M689.3 594.5h24.0M701.3 582.5v24.0M692.8 586.0l17.0 17.0M692.8 603.0l17.0 -17.0M677.7 592.4h24.0M689.7 580.4v24.0M681.2 583.9l17.0 17.0M681.2 600.9l17.0 -17.0M681.3 592.5h24.0M693.3 580.5v24.0M684.8 584.1l17.0 17.0M684.8 601.0l17.0 -17.0M681.5 595.1h24.0M693.5 583.1v24.0M685.0 586.6l17.0 17.0M685.0 603.6l17.0 -17.0M692.5 590.4h24.0M704.5 578.4v24.0M696.1 582.0l17.0 17.0M696.1 598.9l17.0 -17.0M684.5 590.3h24.0M696.5 578.3v24.0M688.0 581.8l17.0 17.0M688.0 598.8l17.0 -17.0M456.2 628.2h24.0M468.2 616.2v24.0M459.7 619.7l17.0 17.0M459.7 636.7l17.0 -17.0M460.8 630.4h24.0M472.8 618.4v24.0M464.3 621.9l17.0 17.0M464.3 638.9l17.0 -17.0M459.5 612.3h24.0M471.5 600.3v24.0M463.0 603.8l17.0 17.0M463.0 620.8l17.0 -17.0M458.9 623.8h24.0M470.9 611.8v24.0M462.4 615.4l17.0 17.0M462.4 632.3l17.0 -17.0M464.4 631.6h24.0M476.4 619.6v24.0M467.9 623.1l17.0 17.0M467.9 640.1l17.0 -17.0M459.8 620.2h24.0M471.8 608.2v24.0M463.3 611.8l17.0 17.0M463.3 628.7l17.0 -17.0M506.0 648.3h24.0M518.0 636.3v24.0M509.6 639.8l17.0 17.0M509.6 656.8l17.0 -17.0M508.2 640.4h24.0M520.2 628.4v24.0M511.8 631.9l17.0 17.0M511.8 648.9l17.0 -17.0M504.3 638.1h24.0M516.3 626.1v24.0M507.8 629.6l17.0 17.0M507.8 646.6l17.0 -17.0M517.7 639.9h24.0M529.7 627.9v24.0M521.2 631.5l17.0 17.0M521.2 648.4l17.0 -17.0M523.3 639.4h24.0M535.3 627.4v24.0M526.8 630.9l17.0 17.0M526.8 647.9l17.0 -17.0M521.4 640.1h24.0M533.4 628.1v24.0M524.9 631.6l17.0 17.0M524.9 648.5l17.0 -17.0M504.4 649.5h24.0M516.4 637.5v24.0M507.9 641.0l17.0 17.0M507.9 658.0l17.0 -17.0M508.8 649.7h24.0M520.8 637.7v24.0M512.4 641.3l17.0 17.0M512.4 658.2l17.0 -17.0M507.7 638.8h24.0M519.7 626.8v24.0M511.3 630.3l17.0 17.0M511.3 647.3l17.0 -17.0M468.3 699.6h24.0M480.3 687.6v24.0M471.8 691.1l17.0 17.0M471.8 708.0l17.0 -17.0M469.3 699.8h24.0M481.3 687.8v24.0M472.8 691.3l17.0 17.0M472.8 708.2l17.0 -17.0M460.0 698.5h24.0M472.0 686.5v24.0M463.5 690.1l17.0 17.0M463.5 707.0l17.0 -17.0M467.5 696.5h24.0M479.5 684.5v24.0M471.0 688.0l17.0 17.0M471.0 705.0l17.0 -17.0M470.2 694.0h24.0M482.2 682.0v24.0M473.7 685.6l17.0 17.0M473.7 702.5l17.0 -17.0M553.4 714.2h24.0M565.4 702.2v24.0M556.9 705.7l17.0 17.0M556.9 722.7l17.0 -17.0M536.2 707.1h24.0M548.2 695.1v24.0M539.7 698.7l17.0 17.0M539.7 715.6l17.0 -17.0M547.7 715.2h24.0M559.7 703.2v24.0M551.2 706.7l17.0 17.0M551.2 723.7l17.0 -17.0M537.4 710.1h24.0M549.4 698.1v24.0M540.9 701.6l17.0 17.0M540.9 718.6l17.0 -17.0M549.1 708.7h24.0M561.1 696.7v24.0M552.6 700.2l17.0 17.0M552.6 717.1l17.0 -17.0M588.7 611.8h24.0M600.7 599.8v24.0M592.2 603.3l17.0 17.0M592.2 620.3l17.0 -17.0M569.4 610.1h24.0M581.4 598.1v24.0M572.9 601.7l17.0 17.0M572.9 618.6l17.0 -17.0M581.8 611.1h24.0M593.8 599.1v24.0M585.3 602.7l17.0 17.0M585.3 619.6l17.0 -17.0M584.2 607.0h24.0M596.2 595.0v24.0M587.8 598.5l17.0 17.0M587.8 615.5l17.0 -17.0"/>
<g font-size="72" fill="#000">
<text transform="translate(396.8,1372) scale(1,1.040)" text-anchor="middle">1000</text>
<text transform="translate(817.8,1372) scale(1,1.040)" text-anchor="middle">1500</text>
<text transform="translate(1241.9,1372) scale(1,1.040)" text-anchor="middle">2000</text>
<text transform="translate(1663.0,1372) scale(1,1.040)" text-anchor="middle">2500</text>
<text transform="translate(215.0,150.2) scale(1,1.040)" text-anchor="end">700</text>
<text transform="translate(215.0,316.2) scale(1,1.040)" text-anchor="end">600</text>
<text transform="translate(215.0,482.2) scale(1,1.040)" text-anchor="end">500</text>
<text transform="translate(215.0,648.7) scale(1,1.040)" text-anchor="end">400</text>
<text transform="translate(215.0,815.7) scale(1,1.040)" text-anchor="end">300</text>
<text transform="translate(215.0,984.2) scale(1,1.040)" text-anchor="end">200</text>
<text transform="translate(215.0,1150.7) scale(1,1.040)" text-anchor="end">100</text>
<text transform="translate(211.8,1318.7) scale(1,1.040)" text-anchor="end">0</text>
<text transform="translate(906,1412.5) scale(1,1.040)">n(r/min)</text>
<text transform="translate(77.2,810.5) rotate(-90) scale(1,1.040)" font-size="73">Te(N*m)</text>
<text transform="translate(1999,1377) scale(1,1.040)">FC</text>
</g>
<g stroke="#000" stroke-width="1.3" fill="#000">
<path d="M658.5 301.3h24M670.5 289.3v24"/>
<circle cx="670.5" cy="301.3" r="4.3" stroke="none"/>
<path d="M674.7 297.5h24M686.7 285.5v24"/>
<circle cx="686.7" cy="297.5" r="4.3" stroke="none"/>
<path d="M691.0 295.0h24M703.0 283.0v24"/>
<circle cx="703.0" cy="295.0" r="4.3" stroke="none"/>
<path d="M881.9 337.6h24M893.9 325.6v24"/>
<circle cx="893.9" cy="337.6" r="4.3" stroke="none"/>
<path d="M1283.1 438.1h24M1295.1 426.1v24"/>
<circle cx="1295.1" cy="438.1" r="4.3" stroke="none"/>
<path d="M1316.1 790.2h24M1328.1 778.2v24"/>
<circle cx="1328.1" cy="790.2" r="4.3" stroke="none"/>
<path d="M1479.5 931.5h24M1491.5 919.5v24"/>
<circle cx="1491.5" cy="931.5" r="4.3" stroke="none"/>
<path d="M485.0 952.8h24M497.0 940.8v24"/>
<circle cx="497.0" cy="952.8" r="4.3" stroke="none"/>
<path d="M495.8 1103.2h24M507.8 1091.2v24"/>
<circle cx="507.8" cy="1103.2" r="4.3" stroke="none"/>
<path d="M498.3 1207.8h24M510.3 1195.8v24"/>
<circle cx="510.3" cy="1207.8" r="4.3" stroke="none"/>
<path d="M387.4 1293.4h24M399.4 1281.4v24"/>
<circle cx="399.4" cy="1293.4" r="4.3" stroke="none"/>
<path d="M1470.7 1061.4h24M1482.7 1049.4v24"/>
<circle cx="1482.7" cy="1061.4" r="4.3" stroke="none"/>
<path d="M1468.2 1160.7h24M1480.2 1148.7v24"/>
<circle cx="1480.2" cy="1160.7" r="4.3" stroke="none"/>
<path d="M1557.1 1182.7h24M1569.1 1170.7v24"/>
<circle cx="1569.1" cy="1182.7" r="4.3" stroke="none"/>
<path d="M1280.1 1280.3h24M1292.1 1268.3v24"/>
<circle cx="1292.1" cy="1280.3" r="4.3" stroke="none"/>
<path d="M1673.4 1235.8h24M1685.4 1223.8v24"/>
<circle cx="1685.4" cy="1235.8" r="4.3" stroke="none"/>
<path d="M1609.6 1288.3h24M1621.6 1276.3v24"/>
<circle cx="1621.6" cy="1288.3" r="4.3" stroke="none"/>
</g>
<g font-size="43" fill="#000">
<text transform="translate(894.9,325.6) scale(1,1.040)">221</text>
<text transform="translate(1296.1,426.1) scale(1,1.040)">200</text>
<text transform="translate(1329.1,778.2) scale(1,1.040)">200</text>
<text transform="translate(1492.5,919.5) scale(1,1.040)">241</text>
<text transform="translate(498.0,940.8) scale(1,1.040)">221</text>
<text transform="translate(508.8,1091.2) scale(1,1.040)">262</text>
<text transform="translate(511.3,1195.8) scale(1,1.040)">304</text>
<text transform="translate(400.4,1281.4) scale(1,1.040)">345</text>
<text transform="translate(1483.7,1049.4) scale(1,1.040)">283</text>
<text transform="translate(1481.2,1148.7) scale(1,1.040)">324</text>
<text transform="translate(1570.1,1170.7) scale(1,1.040)">345</text>
<text transform="translate(1293.1,1268.3) scale(1,1.040)">366</text>
<text transform="translate(1686.4,1223.8) scale(1,1.040)">386</text>
<text transform="translate(1622.6,1276.3) scale(1,1.040)">407</text>
</g>
<rect x="1083.5" y="60" width="823" height="296" fill="#fff" stroke="#000" stroke-width="1.6"/>
<line x1="1108" y1="112.5" x2="1245" y2="112.5" stroke="#0000ff" stroke-width="9"/>
<g fill="none" stroke-width="1.4">
<polygon stroke="rgb(0,0,143)" points="1245.0,206.7 1241.6,217.8 1231.9,227.9 1216.8,235.8 1197.7,240.9 1176.5,242.7 1155.3,240.9 1136.2,235.8 1121.1,227.9 1111.4,217.8 1108.0,206.7 1111.4,195.6 1121.1,185.5 1136.2,177.6 1155.3,172.5 1176.5,170.7 1197.7,172.5 1216.8,177.6 1231.9,185.5 1241.6,195.6"/>
<polygon stroke="rgb(0,255,128)" points="1223.0,206.0 1216.8,218.5 1199.8,227.7 1176.5,231.0 1153.2,227.7 1136.2,218.5 1130.0,206.0 1136.2,193.5 1153.2,184.3 1176.5,181.0 1199.8,184.3 1216.8,193.5"/>
<polygon stroke="rgb(150,0,0)" points="1197.0,209.9 1188.8,215.7 1175.3,218.0 1161.7,215.9 1153.2,210.2 1153.0,203.1 1161.2,197.3 1174.7,195.0 1188.3,197.1 1196.8,202.8"/>
</g>
<path fill="none" stroke="#ff0000" stroke-width="1.35" d="M1163.0 301.0h24.0M1175.0 289.0v24.0M1166.5 292.5l17.0 17.0M1166.5 309.5l17.0 -17.0"/>
<g font-size="72.5" fill="#000">
<text transform="translate(1259.5,139.5) scale(1,1.040)" letter-spacing="-1">Eng-maximum</text>
<text transform="translate(1259.5,233.5) scale(1,1.040)">Constant-Eng-fuel</text>
<text transform="translate(1259.5,327.5) scale(1,1.040)" letter-spacing="-0.17">Eng-operation-point</text>
</g>
<g shape-rendering="crispEdges">
<rect x="1995.5" y="35.00" width="86.5" height="20.26" fill="rgb(0,0,143)"/>
<rect x="1995.5" y="54.66" width="86.5" height="20.26" fill="rgb(0,0,159)"/>
<rect x="1995.5" y="74.31" width="86.5" height="20.26" fill="rgb(0,0,175)"/>
<rect x="1995.5" y="93.97" width="86.5" height="20.26" fill="rgb(0,0,191)"/>
<rect x="1995.5" y="113.62" width="86.5" height="20.26" fill="rgb(0,0,207)"/>
<rect x="1995.5" y="133.28" width="86.5" height="20.26" fill="rgb(0,0,223)"/>
<rect x="1995.5" y="152.94" width="86.5" height="20.26" fill="rgb(0,0,239)"/>
<rect x="1995.5" y="172.59" width="86.5" height="20.26" fill="rgb(0,0,255)"/>
<rect x="1995.5" y="192.25" width="86.5" height="20.26" fill="rgb(0,16,255)"/>
<rect x="1995.5" y="211.91" width="86.5" height="20.26" fill="rgb(0,32,255)"/>
<rect x="1995.5" y="231.56" width="86.5" height="20.26" fill="rgb(0,48,255)"/>
<rect x="1995.5" y="251.22" width="86.5" height="20.26" fill="rgb(0,64,255)"/>
<rect x="1995.5" y="270.88" width="86.5" height="20.26" fill="rgb(0,80,255)"/>
<rect x="1995.5" y="290.53" width="86.5" height="20.26" fill="rgb(0,96,255)"/>
<rect x="1995.5" y="310.19" width="86.5" height="20.26" fill="rgb(0,112,255)"/>
<rect x="1995.5" y="329.84" width="86.5" height="20.26" fill="rgb(0,128,255)"/>
<rect x="1995.5" y="349.50" width="86.5" height="20.26" fill="rgb(0,143,255)"/>
<rect x="1995.5" y="369.16" width="86.5" height="20.26" fill="rgb(0,159,255)"/>
<rect x="1995.5" y="388.81" width="86.5" height="20.26" fill="rgb(0,175,255)"/>
<rect x="1995.5" y="408.47" width="86.5" height="20.26" fill="rgb(0,191,255)"/>
<rect x="1995.5" y="428.12" width="86.5" height="20.26" fill="rgb(0,207,255)"/>
<rect x="1995.5" y="447.78" width="86.5" height="20.26" fill="rgb(0,223,255)"/>
<rect x="1995.5" y="467.44" width="86.5" height="20.26" fill="rgb(0,239,255)"/>
<rect x="1995.5" y="487.09" width="86.5" height="20.26" fill="rgb(0,255,255)"/>
<rect x="1995.5" y="506.75" width="86.5" height="20.26" fill="rgb(0,255,240)"/>
<rect x="1995.5" y="526.41" width="86.5" height="20.26" fill="rgb(0,254,222)"/>
<rect x="1995.5" y="546.06" width="86.5" height="20.26" fill="rgb(0,253,204)"/>
<rect x="1995.5" y="565.72" width="86.5" height="20.26" fill="rgb(0,252,186)"/>
<rect x="1995.5" y="585.38" width="86.5" height="20.26" fill="rgb(0,251,168)"/>
<rect x="1995.5" y="605.03" width="86.5" height="20.26" fill="rgb(0,250,150)"/>
<rect x="1995.5" y="624.69" width="86.5" height="20.26" fill="rgb(0,250,132)"/>
<rect x="1995.5" y="644.34" width="86.5" height="20.26" fill="rgb(0,249,114)"/>
<rect x="1995.5" y="664.00" width="86.5" height="20.26" fill="rgb(0,248,96)"/>
<rect x="1995.5" y="683.66" width="86.5" height="20.26" fill="rgb(85,255,80)"/>
<rect x="1995.5" y="703.31" width="86.5" height="20.26" fill="rgb(128,255,55)"/>
<rect x="1995.5" y="722.97" width="86.5" height="20.26" fill="rgb(160,255,20)"/>
<rect x="1995.5" y="742.62" width="86.5" height="20.26" fill="rgb(190,255,0)"/>
<rect x="1995.5" y="762.28" width="86.5" height="20.26" fill="rgb(215,255,0)"/>
<rect x="1995.5" y="781.94" width="86.5" height="20.26" fill="rgb(238,255,0)"/>
<rect x="1995.5" y="801.59" width="86.5" height="20.26" fill="rgb(255,255,0)"/>
<rect x="1995.5" y="821.25" width="86.5" height="20.26" fill="rgb(255,239,0)"/>
<rect x="1995.5" y="840.91" width="86.5" height="20.26" fill="rgb(255,223,0)"/>
<rect x="1995.5" y="860.56" width="86.5" height="20.26" fill="rgb(255,207,0)"/>
<rect x="1995.5" y="880.22" width="86.5" height="20.26" fill="rgb(255,191,0)"/>
<rect x="1995.5" y="899.88" width="86.5" height="20.26" fill="rgb(255,175,0)"/>
<rect x="1995.5" y="919.53" width="86.5" height="20.26" fill="rgb(255,159,0)"/>
<rect x="1995.5" y="939.19" width="86.5" height="20.26" fill="rgb(255,143,0)"/>
<rect x="1995.5" y="958.84" width="86.5" height="20.26" fill="rgb(255,128,0)"/>
<rect x="1995.5" y="978.50" width="86.5" height="20.26" fill="rgb(255,112,0)"/>
<rect x="1995.5" y="998.16" width="86.5" height="20.26" fill="rgb(255,96,0)"/>
<rect x="1995.5" y="1017.81" width="86.5" height="20.26" fill="rgb(255,80,0)"/>
<rect x="1995.5" y="1037.47" width="86.5" height="20.26" fill="rgb(255,64,0)"/>
<rect x="1995.5" y="1057.12" width="86.5" height="20.26" fill="rgb(255,48,0)"/>
<rect x="1995.5" y="1076.78" width="86.5" height="20.26" fill="rgb(255,32,0)"/>
<rect x="1995.5" y="1096.44" width="86.5" height="20.26" fill="rgb(255,16,0)"/>
<rect x="1995.5" y="1116.09" width="86.5" height="20.26" fill="rgb(255,0,0)"/>
<rect x="1995.5" y="1135.75" width="86.5" height="20.26" fill="rgb(242,0,0)"/>
<rect x="1995.5" y="1155.41" width="86.5" height="20.26" fill="rgb(230,0,0)"/>
<rect x="1995.5" y="1175.06" width="86.5" height="20.26" fill="rgb(217,0,0)"/>
<rect x="1995.5" y="1194.72" width="86.5" height="20.26" fill="rgb(204,0,0)"/>
<rect x="1995.5" y="1214.38" width="86.5" height="20.26" fill="rgb(191,0,0)"/>
<rect x="1995.5" y="1234.03" width="86.5" height="20.26" fill="rgb(178,0,0)"/>
<rect x="1995.5" y="1253.69" width="86.5" height="20.26" fill="rgb(166,0,0)"/>
<rect x="1995.5" y="1273.34" width="86.5" height="20.26" fill="rgb(153,0,0)"/>
</g>
<path d="M1995.5 1293.5V32.5H2079V1293.5Z" fill="none" stroke="#000" stroke-width="1.3"/>
<g stroke="#000" stroke-width="1.5">
<path d="M1995.5 35.5h12M2079 35.5h-14"/>
<path d="M1995.5 156.8h12M2079 156.8h-14"/>
<path d="M1995.5 278.1h12M2079 278.1h-14"/>
<path d="M1995.5 399.4h12M2079 399.4h-14"/>
<path d="M1995.5 520.7h12M2079 520.7h-14"/>
<path d="M1995.5 641.9h12M2079 641.9h-14"/>
<path d="M1995.5 763.2h12M2079 763.2h-14"/>
<path d="M1995.5 884.5h12M2079 884.5h-14"/>
<path d="M1995.5 1005.8h12M2079 1005.8h-14"/>
<path d="M1995.5 1127.1h12M2079 1127.1h-14"/>
<path d="M1995.5 1248.4h12M2079 1248.4h-14"/>
</g>
<g font-size="43" fill="#000">
<text transform="translate(2088.5,49.5) scale(1,1.040)">200</text>
<text transform="translate(2088.5,170.8) scale(1,1.040)">220</text>
<text transform="translate(2088.5,292.1) scale(1,1.040)">240</text>
<text transform="translate(2088.5,413.4) scale(1,1.040)">260</text>
<text transform="translate(2088.5,534.7) scale(1,1.040)">280</text>
<text transform="translate(2088.5,655.9) scale(1,1.040)">300</text>
<text transform="translate(2088.5,777.2) scale(1,1.040)">320</text>
<text transform="translate(2088.5,898.5) scale(1,1.040)">340</text>
<text transform="translate(2088.5,1019.8) scale(1,1.040)">360</text>
<text transform="translate(2088.5,1141.1) scale(1,1.040)">380</text>
<text transform="translate(2088.5,1262.4) scale(1,1.040)">400</text>
</g>
</svg>
</body></html>
